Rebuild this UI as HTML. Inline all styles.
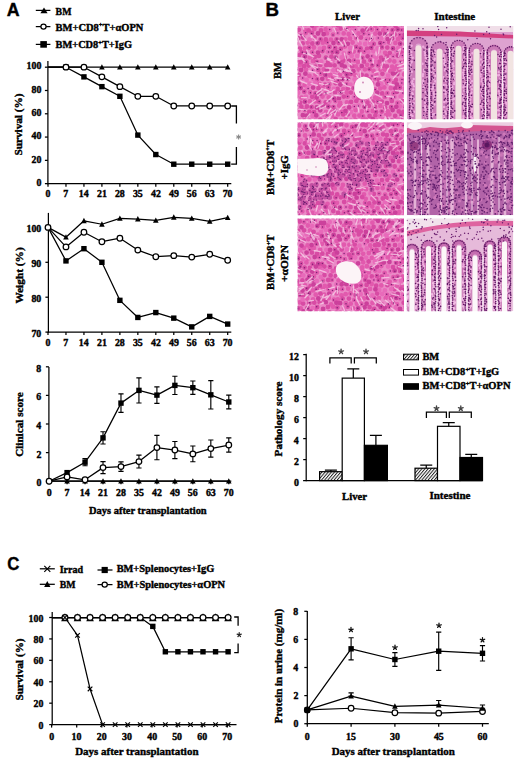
<!DOCTYPE html><html><head><meta charset="utf-8"><style>html,body{margin:0;padding:0;background:#fff;overflow:hidden;}svg{display:block;}</style></head><body>
<svg width="520" height="760" viewBox="0 0 520 760">
<rect width="520" height="760" fill="#fff"/>
<g transform="translate(7.30,16.20) scale(1.0149,1) translate(-0.53,0)" font-family="Liberation Sans" font-weight="bold" fill="#000" stroke="#000" stroke-width="0.38"><text x="0.00" y="0" font-size="17.5">A</text></g>
<line x1="35.80" y1="10.40" x2="50.40" y2="10.40" stroke="#000" stroke-width="1.25"/>
<path d="M40.40,13.22L44.00,7.62L47.60,13.22Z" fill="#000"/>
<g transform="translate(55.80,14.60) scale(0.9617,1) translate(-0.20,0)" font-family="Liberation Serif" font-weight="bold" fill="#000" stroke="#000" stroke-width="0.38"><text x="0.00" y="0" font-size="10.2">BM</text></g>
<line x1="35.80" y1="26.60" x2="50.40" y2="26.60" stroke="#000" stroke-width="1.25"/>
<circle cx="43.50" cy="26.60" r="2.6" fill="#fff" stroke="#000" stroke-width="1.25"/>
<g transform="translate(55.80,30.80) scale(1.0284,1) translate(-0.20,0)" font-family="Liberation Serif" font-weight="bold" fill="#000" stroke="#000" stroke-width="0.38"><text x="0.00" y="0" font-size="10.2">BM+CD8</text><text x="42.08" y="-3.6" font-size="6.2">+</text><text x="45.61" y="0" font-size="10.2">T+αOPN</text></g>
<line x1="35.80" y1="44.40" x2="50.40" y2="44.40" stroke="#000" stroke-width="1.25"/>
<rect x="40.30" y="41.10" width="6.6" height="6.6" fill="#000"/>
<g transform="translate(55.80,48.30) scale(1.0150,1) translate(-0.20,0)" font-family="Liberation Serif" font-weight="bold" fill="#000" stroke="#000" stroke-width="0.38"><text x="0.00" y="0" font-size="10.2">BM+CD8</text><text x="42.08" y="-3.6" font-size="6.2">+</text><text x="45.61" y="0" font-size="10.2">T+IgG</text></g>
<line x1="47.90" y1="61.00" x2="47.90" y2="184.28" stroke="#000" stroke-width="1.25"/>
<line x1="47.27" y1="183.65" x2="231.30" y2="183.65" stroke="#000" stroke-width="1.25"/>
<line x1="44.90" y1="183.65" x2="47.90" y2="183.65" stroke="#000" stroke-width="1.25"/>
<g transform="translate(36.85,185.85) scale(1.0400,1) translate(-0.38,0)" font-family="Liberation Serif" font-weight="bold" fill="#000" stroke="#000" stroke-width="0.38"><text x="0.00" y="0" font-size="9.5">0</text></g>
<line x1="44.90" y1="160.36" x2="47.90" y2="160.36" stroke="#000" stroke-width="1.25"/>
<g transform="translate(31.91,162.56) scale(1.0400,1) translate(-0.38,0)" font-family="Liberation Serif" font-weight="bold" fill="#000" stroke="#000" stroke-width="0.38"><text x="0.00" y="0" font-size="9.5">20</text></g>
<line x1="44.90" y1="137.07" x2="47.90" y2="137.07" stroke="#000" stroke-width="1.25"/>
<g transform="translate(31.61,139.27) scale(1.0400,1) translate(-0.10,0)" font-family="Liberation Serif" font-weight="bold" fill="#000" stroke="#000" stroke-width="0.38"><text x="0.00" y="0" font-size="9.5">40</text></g>
<line x1="44.90" y1="113.78" x2="47.90" y2="113.78" stroke="#000" stroke-width="1.25"/>
<g transform="translate(31.81,115.98) scale(1.0400,1) translate(-0.28,0)" font-family="Liberation Serif" font-weight="bold" fill="#000" stroke="#000" stroke-width="0.38"><text x="0.00" y="0" font-size="9.5">60</text></g>
<line x1="44.90" y1="90.49" x2="47.90" y2="90.49" stroke="#000" stroke-width="1.25"/>
<g transform="translate(31.81,92.69) scale(1.0400,1) translate(-0.28,0)" font-family="Liberation Serif" font-weight="bold" fill="#000" stroke="#000" stroke-width="0.38"><text x="0.00" y="0" font-size="9.5">80</text></g>
<line x1="44.90" y1="67.20" x2="47.90" y2="67.20" stroke="#000" stroke-width="1.25"/>
<g transform="translate(27.37,69.40) scale(1.0400,1) translate(-0.76,0)" font-family="Liberation Serif" font-weight="bold" fill="#000" stroke="#000" stroke-width="0.38"><text x="0.00" y="0" font-size="9.5">100</text></g>
<line x1="48.00" y1="183.65" x2="48.00" y2="186.65" stroke="#000" stroke-width="1.25"/>
<g transform="translate(45.93,197.05) scale(1.0400,1) translate(-0.38,0)" font-family="Liberation Serif" font-weight="bold" fill="#000" stroke="#000" stroke-width="0.38"><text x="0.00" y="0" font-size="9.5">0</text></g>
<line x1="65.97" y1="183.65" x2="65.97" y2="186.65" stroke="#000" stroke-width="1.25"/>
<g transform="translate(63.89,197.05) scale(1.0400,1) translate(-0.57,0)" font-family="Liberation Serif" font-weight="bold" fill="#000" stroke="#000" stroke-width="0.38"><text x="0.00" y="0" font-size="9.5">7</text></g>
<line x1="83.94" y1="183.65" x2="83.94" y2="186.65" stroke="#000" stroke-width="1.25"/>
<g transform="translate(79.49,197.05) scale(1.0400,1) translate(-0.76,0)" font-family="Liberation Serif" font-weight="bold" fill="#000" stroke="#000" stroke-width="0.38"><text x="0.00" y="0" font-size="9.5">14</text></g>
<line x1="101.91" y1="183.65" x2="101.91" y2="186.65" stroke="#000" stroke-width="1.25"/>
<g transform="translate(97.41,197.05) scale(1.0400,1) translate(-0.38,0)" font-family="Liberation Serif" font-weight="bold" fill="#000" stroke="#000" stroke-width="0.38"><text x="0.00" y="0" font-size="9.5">21</text></g>
<line x1="119.88" y1="183.65" x2="119.88" y2="186.65" stroke="#000" stroke-width="1.25"/>
<g transform="translate(115.28,197.05) scale(1.0400,1) translate(-0.38,0)" font-family="Liberation Serif" font-weight="bold" fill="#000" stroke="#000" stroke-width="0.38"><text x="0.00" y="0" font-size="9.5">28</text></g>
<line x1="137.84" y1="183.65" x2="137.84" y2="186.65" stroke="#000" stroke-width="1.25"/>
<g transform="translate(133.30,197.05) scale(1.0400,1) translate(-0.38,0)" font-family="Liberation Serif" font-weight="bold" fill="#000" stroke="#000" stroke-width="0.38"><text x="0.00" y="0" font-size="9.5">35</text></g>
<line x1="155.81" y1="183.65" x2="155.81" y2="186.65" stroke="#000" stroke-width="1.25"/>
<g transform="translate(151.12,197.05) scale(1.0400,1) translate(-0.10,0)" font-family="Liberation Serif" font-weight="bold" fill="#000" stroke="#000" stroke-width="0.38"><text x="0.00" y="0" font-size="9.5">42</text></g>
<line x1="173.78" y1="183.65" x2="173.78" y2="186.65" stroke="#000" stroke-width="1.25"/>
<g transform="translate(169.09,197.05) scale(1.0400,1) translate(-0.10,0)" font-family="Liberation Serif" font-weight="bold" fill="#000" stroke="#000" stroke-width="0.38"><text x="0.00" y="0" font-size="9.5">49</text></g>
<line x1="191.75" y1="183.65" x2="191.75" y2="186.65" stroke="#000" stroke-width="1.25"/>
<g transform="translate(187.16,197.05) scale(1.0400,1) translate(-0.38,0)" font-family="Liberation Serif" font-weight="bold" fill="#000" stroke="#000" stroke-width="0.38"><text x="0.00" y="0" font-size="9.5">56</text></g>
<line x1="209.72" y1="183.65" x2="209.72" y2="186.65" stroke="#000" stroke-width="1.25"/>
<g transform="translate(205.08,197.05) scale(1.0400,1) translate(-0.28,0)" font-family="Liberation Serif" font-weight="bold" fill="#000" stroke="#000" stroke-width="0.38"><text x="0.00" y="0" font-size="9.5">63</text></g>
<line x1="227.69" y1="183.65" x2="227.69" y2="186.65" stroke="#000" stroke-width="1.25"/>
<g transform="translate(223.24,197.05) scale(1.0400,1) translate(-0.57,0)" font-family="Liberation Serif" font-weight="bold" fill="#000" stroke="#000" stroke-width="0.38"><text x="0.00" y="0" font-size="9.5">70</text></g>
<g transform="translate(22.20,155.00) rotate(-90) scale(1.0229,1) translate(-0.55,0)" font-family="Liberation Serif" font-weight="bold" fill="#000" stroke="#000" stroke-width="0.38"><text x="0.00" y="0" font-size="11">Survival (%)</text></g>
<polyline points="48.00,67.20 65.97,67.20 83.94,67.20 101.91,67.20 119.88,67.20 137.84,67.20 155.81,67.20 173.78,67.20 191.75,67.20 209.72,67.20 227.69,67.20" fill="none" stroke="#000" stroke-width="1.25" stroke-linejoin="round"/>
<polyline points="48.00,67.20 65.97,67.20 83.94,76.87 101.91,86.65 119.88,96.31 137.84,135.09 155.81,154.54 173.78,164.20 191.75,164.20 209.72,164.20 227.69,164.20" fill="none" stroke="#000" stroke-width="1.25" stroke-linejoin="round"/>
<polyline points="48.00,67.20 65.97,67.20 83.94,67.20 101.91,76.87 119.88,86.65 137.84,96.31 155.81,96.31 173.78,105.98 191.75,105.98 209.72,105.98 227.69,105.98" fill="none" stroke="#000" stroke-width="1.25" stroke-linejoin="round"/>
<path d="M81.14,69.59L83.94,64.28L86.74,69.59Z" fill="#000"/>
<path d="M99.11,69.59L101.91,64.28L104.71,69.59Z" fill="#000"/>
<path d="M117.08,69.59L119.88,64.28L122.68,69.59Z" fill="#000"/>
<path d="M135.04,69.59L137.84,64.28L140.65,69.59Z" fill="#000"/>
<path d="M153.01,69.59L155.81,64.28L158.61,69.59Z" fill="#000"/>
<path d="M170.98,69.59L173.78,64.28L176.58,69.59Z" fill="#000"/>
<path d="M188.95,69.59L191.75,64.28L194.55,69.59Z" fill="#000"/>
<path d="M206.92,69.59L209.72,64.28L212.52,69.59Z" fill="#000"/>
<path d="M224.89,69.59L227.69,64.28L230.49,69.59Z" fill="#000"/>
<rect x="63.27" y="64.50" width="5.4" height="5.4" fill="#000"/>
<rect x="81.24" y="74.17" width="5.4" height="5.4" fill="#000"/>
<rect x="99.21" y="83.95" width="5.4" height="5.4" fill="#000"/>
<rect x="117.18" y="93.61" width="5.4" height="5.4" fill="#000"/>
<rect x="135.15" y="132.39" width="5.4" height="5.4" fill="#000"/>
<rect x="153.11" y="151.84" width="5.4" height="5.4" fill="#000"/>
<rect x="171.08" y="161.50" width="5.4" height="5.4" fill="#000"/>
<rect x="189.05" y="161.50" width="5.4" height="5.4" fill="#000"/>
<rect x="207.02" y="161.50" width="5.4" height="5.4" fill="#000"/>
<rect x="224.99" y="161.50" width="5.4" height="5.4" fill="#000"/>
<circle cx="65.97" cy="67.20" r="2.8" fill="#fff" stroke="#000" stroke-width="1.25"/>
<circle cx="83.94" cy="67.20" r="2.8" fill="#fff" stroke="#000" stroke-width="1.25"/>
<circle cx="101.91" cy="76.87" r="2.8" fill="#fff" stroke="#000" stroke-width="1.25"/>
<circle cx="119.88" cy="86.65" r="2.8" fill="#fff" stroke="#000" stroke-width="1.25"/>
<circle cx="137.84" cy="96.31" r="2.8" fill="#fff" stroke="#000" stroke-width="1.25"/>
<circle cx="155.81" cy="96.31" r="2.8" fill="#fff" stroke="#000" stroke-width="1.25"/>
<circle cx="173.78" cy="105.98" r="2.8" fill="#fff" stroke="#000" stroke-width="1.25"/>
<circle cx="191.75" cy="105.98" r="2.8" fill="#fff" stroke="#000" stroke-width="1.25"/>
<circle cx="209.72" cy="105.98" r="2.8" fill="#fff" stroke="#000" stroke-width="1.25"/>
<circle cx="227.69" cy="105.98" r="2.8" fill="#fff" stroke="#000" stroke-width="1.25"/>
<path d="M231.19,105.98H236.4V123.6M236.4,147.1V164.20H231.19" stroke="#000" stroke-width="1.3" fill="none"/>
<path d="M236.35,135.70L240.85,138.30M238.60,134.40L238.60,139.60M240.85,135.70L236.35,138.30" stroke="#8a8a8a" stroke-width="1.1"/>
<line x1="48.40" y1="212.90" x2="48.40" y2="332.73" stroke="#000" stroke-width="1.25"/>
<line x1="47.77" y1="332.10" x2="231.30" y2="332.10" stroke="#000" stroke-width="1.25"/>
<line x1="45.40" y1="332.10" x2="48.40" y2="332.10" stroke="#000" stroke-width="1.25"/>
<g transform="translate(32.01,336.50) scale(1.0400,1) translate(-0.57,0)" font-family="Liberation Serif" font-weight="bold" fill="#000" stroke="#000" stroke-width="0.38"><text x="0.00" y="0" font-size="9.5">70</text></g>
<line x1="45.40" y1="297.20" x2="48.40" y2="297.20" stroke="#000" stroke-width="1.25"/>
<g transform="translate(31.71,301.60) scale(1.0400,1) translate(-0.28,0)" font-family="Liberation Serif" font-weight="bold" fill="#000" stroke="#000" stroke-width="0.38"><text x="0.00" y="0" font-size="9.5">80</text></g>
<line x1="45.40" y1="262.30" x2="48.40" y2="262.30" stroke="#000" stroke-width="1.25"/>
<g transform="translate(31.71,266.70) scale(1.0400,1) translate(-0.28,0)" font-family="Liberation Serif" font-weight="bold" fill="#000" stroke="#000" stroke-width="0.38"><text x="0.00" y="0" font-size="9.5">90</text></g>
<line x1="45.40" y1="227.40" x2="48.40" y2="227.40" stroke="#000" stroke-width="1.25"/>
<g transform="translate(27.27,231.80) scale(1.0400,1) translate(-0.76,0)" font-family="Liberation Serif" font-weight="bold" fill="#000" stroke="#000" stroke-width="0.38"><text x="0.00" y="0" font-size="9.5">100</text></g>
<line x1="48.00" y1="332.10" x2="48.00" y2="335.10" stroke="#000" stroke-width="1.25"/>
<g transform="translate(45.93,345.50) scale(1.0400,1) translate(-0.38,0)" font-family="Liberation Serif" font-weight="bold" fill="#000" stroke="#000" stroke-width="0.38"><text x="0.00" y="0" font-size="9.5">0</text></g>
<line x1="65.97" y1="332.10" x2="65.97" y2="335.10" stroke="#000" stroke-width="1.25"/>
<g transform="translate(63.89,345.50) scale(1.0400,1) translate(-0.57,0)" font-family="Liberation Serif" font-weight="bold" fill="#000" stroke="#000" stroke-width="0.38"><text x="0.00" y="0" font-size="9.5">7</text></g>
<line x1="83.94" y1="332.10" x2="83.94" y2="335.10" stroke="#000" stroke-width="1.25"/>
<g transform="translate(79.49,345.50) scale(1.0400,1) translate(-0.76,0)" font-family="Liberation Serif" font-weight="bold" fill="#000" stroke="#000" stroke-width="0.38"><text x="0.00" y="0" font-size="9.5">14</text></g>
<line x1="101.91" y1="332.10" x2="101.91" y2="335.10" stroke="#000" stroke-width="1.25"/>
<g transform="translate(97.41,345.50) scale(1.0400,1) translate(-0.38,0)" font-family="Liberation Serif" font-weight="bold" fill="#000" stroke="#000" stroke-width="0.38"><text x="0.00" y="0" font-size="9.5">21</text></g>
<line x1="119.88" y1="332.10" x2="119.88" y2="335.10" stroke="#000" stroke-width="1.25"/>
<g transform="translate(115.28,345.50) scale(1.0400,1) translate(-0.38,0)" font-family="Liberation Serif" font-weight="bold" fill="#000" stroke="#000" stroke-width="0.38"><text x="0.00" y="0" font-size="9.5">28</text></g>
<line x1="137.84" y1="332.10" x2="137.84" y2="335.10" stroke="#000" stroke-width="1.25"/>
<g transform="translate(133.30,345.50) scale(1.0400,1) translate(-0.38,0)" font-family="Liberation Serif" font-weight="bold" fill="#000" stroke="#000" stroke-width="0.38"><text x="0.00" y="0" font-size="9.5">35</text></g>
<line x1="155.81" y1="332.10" x2="155.81" y2="335.10" stroke="#000" stroke-width="1.25"/>
<g transform="translate(151.12,345.50) scale(1.0400,1) translate(-0.10,0)" font-family="Liberation Serif" font-weight="bold" fill="#000" stroke="#000" stroke-width="0.38"><text x="0.00" y="0" font-size="9.5">42</text></g>
<line x1="173.78" y1="332.10" x2="173.78" y2="335.10" stroke="#000" stroke-width="1.25"/>
<g transform="translate(169.09,345.50) scale(1.0400,1) translate(-0.10,0)" font-family="Liberation Serif" font-weight="bold" fill="#000" stroke="#000" stroke-width="0.38"><text x="0.00" y="0" font-size="9.5">49</text></g>
<line x1="191.75" y1="332.10" x2="191.75" y2="335.10" stroke="#000" stroke-width="1.25"/>
<g transform="translate(187.16,345.50) scale(1.0400,1) translate(-0.38,0)" font-family="Liberation Serif" font-weight="bold" fill="#000" stroke="#000" stroke-width="0.38"><text x="0.00" y="0" font-size="9.5">56</text></g>
<line x1="209.72" y1="332.10" x2="209.72" y2="335.10" stroke="#000" stroke-width="1.25"/>
<g transform="translate(205.08,345.50) scale(1.0400,1) translate(-0.28,0)" font-family="Liberation Serif" font-weight="bold" fill="#000" stroke="#000" stroke-width="0.38"><text x="0.00" y="0" font-size="9.5">63</text></g>
<line x1="227.69" y1="332.10" x2="227.69" y2="335.10" stroke="#000" stroke-width="1.25"/>
<g transform="translate(223.24,345.50) scale(1.0400,1) translate(-0.57,0)" font-family="Liberation Serif" font-weight="bold" fill="#000" stroke="#000" stroke-width="0.38"><text x="0.00" y="0" font-size="9.5">70</text></g>
<g transform="translate(22.70,303.50) rotate(-90) scale(1.0292,1) translate(-0.11,0)" font-family="Liberation Serif" font-weight="bold" fill="#000" stroke="#000" stroke-width="0.38"><text x="0.00" y="0" font-size="11">Weight (%)</text></g>
<polyline points="48.00,227.40 65.97,237.17 83.94,220.77 101.91,224.26 119.88,218.33 137.84,219.02 155.81,220.42 173.78,217.28 191.75,218.33 209.72,221.47 227.69,217.63" fill="none" stroke="#000" stroke-width="1.25" stroke-linejoin="round"/>
<polyline points="48.00,227.40 65.97,260.90 83.94,248.69 101.91,262.30 119.88,300.34 137.84,317.44 155.81,312.56 173.78,318.14 191.75,326.87 209.72,316.40 227.69,324.07" fill="none" stroke="#000" stroke-width="1.25" stroke-linejoin="round"/>
<polyline points="48.00,227.40 65.97,246.94 83.94,232.29 101.91,241.71 119.88,238.22 137.84,250.09 155.81,256.72 173.78,255.67 191.75,257.06 209.72,254.27 227.69,260.21" fill="none" stroke="#000" stroke-width="1.25" stroke-linejoin="round"/>
<path d="M63.17,239.56L65.97,234.26L68.77,239.56Z" fill="#000"/>
<path d="M81.14,223.15L83.94,217.85L86.74,223.15Z" fill="#000"/>
<path d="M99.11,226.64L101.91,221.34L104.71,226.64Z" fill="#000"/>
<path d="M117.08,220.71L119.88,215.41L122.68,220.71Z" fill="#000"/>
<path d="M135.04,221.41L137.84,216.11L140.65,221.41Z" fill="#000"/>
<path d="M153.01,222.81L155.81,217.51L158.61,222.81Z" fill="#000"/>
<path d="M170.98,219.66L173.78,214.36L176.58,219.66Z" fill="#000"/>
<path d="M188.95,220.71L191.75,215.41L194.55,220.71Z" fill="#000"/>
<path d="M206.92,223.85L209.72,218.55L212.52,223.85Z" fill="#000"/>
<path d="M224.89,220.01L227.69,214.71L230.49,220.01Z" fill="#000"/>
<rect x="63.27" y="258.20" width="5.4" height="5.4" fill="#000"/>
<rect x="81.24" y="245.99" width="5.4" height="5.4" fill="#000"/>
<rect x="99.21" y="259.60" width="5.4" height="5.4" fill="#000"/>
<rect x="117.18" y="297.64" width="5.4" height="5.4" fill="#000"/>
<rect x="135.15" y="314.74" width="5.4" height="5.4" fill="#000"/>
<rect x="153.11" y="309.86" width="5.4" height="5.4" fill="#000"/>
<rect x="171.08" y="315.44" width="5.4" height="5.4" fill="#000"/>
<rect x="189.05" y="324.17" width="5.4" height="5.4" fill="#000"/>
<rect x="207.02" y="313.70" width="5.4" height="5.4" fill="#000"/>
<rect x="224.99" y="321.37" width="5.4" height="5.4" fill="#000"/>
<circle cx="48.00" cy="227.40" r="2.8" fill="#fff" stroke="#000" stroke-width="1.25"/>
<circle cx="65.97" cy="246.94" r="2.8" fill="#fff" stroke="#000" stroke-width="1.25"/>
<circle cx="83.94" cy="232.29" r="2.8" fill="#fff" stroke="#000" stroke-width="1.25"/>
<circle cx="101.91" cy="241.71" r="2.8" fill="#fff" stroke="#000" stroke-width="1.25"/>
<circle cx="119.88" cy="238.22" r="2.8" fill="#fff" stroke="#000" stroke-width="1.25"/>
<circle cx="137.84" cy="250.09" r="2.8" fill="#fff" stroke="#000" stroke-width="1.25"/>
<circle cx="155.81" cy="256.72" r="2.8" fill="#fff" stroke="#000" stroke-width="1.25"/>
<circle cx="173.78" cy="255.67" r="2.8" fill="#fff" stroke="#000" stroke-width="1.25"/>
<circle cx="191.75" cy="257.06" r="2.8" fill="#fff" stroke="#000" stroke-width="1.25"/>
<circle cx="209.72" cy="254.27" r="2.8" fill="#fff" stroke="#000" stroke-width="1.25"/>
<circle cx="227.69" cy="260.21" r="2.8" fill="#fff" stroke="#000" stroke-width="1.25"/>
<line x1="48.90" y1="367.00" x2="48.90" y2="481.82" stroke="#000" stroke-width="1.25"/>
<line x1="48.27" y1="481.20" x2="231.30" y2="481.20" stroke="#000" stroke-width="1.25"/>
<line x1="45.90" y1="481.20" x2="48.90" y2="481.20" stroke="#000" stroke-width="1.25"/>
<g transform="translate(36.85,486.20) scale(1.0400,1) translate(-0.38,0)" font-family="Liberation Serif" font-weight="bold" fill="#000" stroke="#000" stroke-width="0.38"><text x="0.00" y="0" font-size="9.5">0</text></g>
<line x1="45.90" y1="452.60" x2="48.90" y2="452.60" stroke="#000" stroke-width="1.25"/>
<g transform="translate(36.85,457.60) scale(1.0400,1) translate(-0.38,0)" font-family="Liberation Serif" font-weight="bold" fill="#000" stroke="#000" stroke-width="0.38"><text x="0.00" y="0" font-size="9.5">2</text></g>
<line x1="45.90" y1="424.00" x2="48.90" y2="424.00" stroke="#000" stroke-width="1.25"/>
<g transform="translate(36.36,429.00) scale(1.0400,1) translate(-0.10,0)" font-family="Liberation Serif" font-weight="bold" fill="#000" stroke="#000" stroke-width="0.38"><text x="0.00" y="0" font-size="9.5">4</text></g>
<line x1="45.90" y1="395.40" x2="48.90" y2="395.40" stroke="#000" stroke-width="1.25"/>
<g transform="translate(36.65,400.40) scale(1.0400,1) translate(-0.28,0)" font-family="Liberation Serif" font-weight="bold" fill="#000" stroke="#000" stroke-width="0.38"><text x="0.00" y="0" font-size="9.5">6</text></g>
<line x1="45.90" y1="366.80" x2="48.90" y2="366.80" stroke="#000" stroke-width="1.25"/>
<g transform="translate(36.65,371.80) scale(1.0400,1) translate(-0.28,0)" font-family="Liberation Serif" font-weight="bold" fill="#000" stroke="#000" stroke-width="0.38"><text x="0.00" y="0" font-size="9.5">8</text></g>
<line x1="49.10" y1="481.20" x2="49.10" y2="484.20" stroke="#000" stroke-width="1.25"/>
<g transform="translate(47.03,496.00) scale(1.0400,1) translate(-0.38,0)" font-family="Liberation Serif" font-weight="bold" fill="#000" stroke="#000" stroke-width="0.38"><text x="0.00" y="0" font-size="9.5">0</text></g>
<line x1="67.07" y1="481.20" x2="67.07" y2="484.20" stroke="#000" stroke-width="1.25"/>
<g transform="translate(64.99,496.00) scale(1.0400,1) translate(-0.57,0)" font-family="Liberation Serif" font-weight="bold" fill="#000" stroke="#000" stroke-width="0.38"><text x="0.00" y="0" font-size="9.5">7</text></g>
<line x1="85.04" y1="481.20" x2="85.04" y2="484.20" stroke="#000" stroke-width="1.25"/>
<g transform="translate(80.59,496.00) scale(1.0400,1) translate(-0.76,0)" font-family="Liberation Serif" font-weight="bold" fill="#000" stroke="#000" stroke-width="0.38"><text x="0.00" y="0" font-size="9.5">14</text></g>
<line x1="103.01" y1="481.20" x2="103.01" y2="484.20" stroke="#000" stroke-width="1.25"/>
<g transform="translate(98.51,496.00) scale(1.0400,1) translate(-0.38,0)" font-family="Liberation Serif" font-weight="bold" fill="#000" stroke="#000" stroke-width="0.38"><text x="0.00" y="0" font-size="9.5">21</text></g>
<line x1="120.98" y1="481.20" x2="120.98" y2="484.20" stroke="#000" stroke-width="1.25"/>
<g transform="translate(116.38,496.00) scale(1.0400,1) translate(-0.38,0)" font-family="Liberation Serif" font-weight="bold" fill="#000" stroke="#000" stroke-width="0.38"><text x="0.00" y="0" font-size="9.5">28</text></g>
<line x1="138.94" y1="481.20" x2="138.94" y2="484.20" stroke="#000" stroke-width="1.25"/>
<g transform="translate(134.40,496.00) scale(1.0400,1) translate(-0.38,0)" font-family="Liberation Serif" font-weight="bold" fill="#000" stroke="#000" stroke-width="0.38"><text x="0.00" y="0" font-size="9.5">35</text></g>
<line x1="156.91" y1="481.20" x2="156.91" y2="484.20" stroke="#000" stroke-width="1.25"/>
<g transform="translate(152.22,496.00) scale(1.0400,1) translate(-0.10,0)" font-family="Liberation Serif" font-weight="bold" fill="#000" stroke="#000" stroke-width="0.38"><text x="0.00" y="0" font-size="9.5">42</text></g>
<line x1="174.88" y1="481.20" x2="174.88" y2="484.20" stroke="#000" stroke-width="1.25"/>
<g transform="translate(170.19,496.00) scale(1.0400,1) translate(-0.10,0)" font-family="Liberation Serif" font-weight="bold" fill="#000" stroke="#000" stroke-width="0.38"><text x="0.00" y="0" font-size="9.5">49</text></g>
<line x1="192.85" y1="481.20" x2="192.85" y2="484.20" stroke="#000" stroke-width="1.25"/>
<g transform="translate(188.26,496.00) scale(1.0400,1) translate(-0.38,0)" font-family="Liberation Serif" font-weight="bold" fill="#000" stroke="#000" stroke-width="0.38"><text x="0.00" y="0" font-size="9.5">56</text></g>
<line x1="210.82" y1="481.20" x2="210.82" y2="484.20" stroke="#000" stroke-width="1.25"/>
<g transform="translate(206.18,496.00) scale(1.0400,1) translate(-0.28,0)" font-family="Liberation Serif" font-weight="bold" fill="#000" stroke="#000" stroke-width="0.38"><text x="0.00" y="0" font-size="9.5">63</text></g>
<line x1="228.79" y1="481.20" x2="228.79" y2="484.20" stroke="#000" stroke-width="1.25"/>
<g transform="translate(224.34,496.00) scale(1.0400,1) translate(-0.57,0)" font-family="Liberation Serif" font-weight="bold" fill="#000" stroke="#000" stroke-width="0.38"><text x="0.00" y="0" font-size="9.5">70</text></g>
<g transform="translate(23.30,456.30) rotate(-90) scale(1.0158,1) translate(-0.55,0)" font-family="Liberation Serif" font-weight="bold" fill="#000" stroke="#000" stroke-width="0.38"><text x="0.00" y="0" font-size="11">Clinical score</text></g>
<path d="M85.04,458.61V465.76M82.44,458.61H87.64M82.44,465.76H87.64" stroke="#000" stroke-width="1.15" fill="none"/>
<path d="M103.01,431.72V444.02M100.41,431.72H105.61M100.41,444.02H105.61" stroke="#000" stroke-width="1.15" fill="none"/>
<path d="M120.98,393.83V412.42M118.38,393.83H123.58M118.38,412.42H123.58" stroke="#000" stroke-width="1.15" fill="none"/>
<path d="M138.94,377.81V402.98M136.34,377.81H141.54M136.34,402.98H141.54" stroke="#000" stroke-width="1.15" fill="none"/>
<path d="M156.91,386.82V403.41M154.31,386.82H159.51M154.31,403.41H159.51" stroke="#000" stroke-width="1.15" fill="none"/>
<path d="M174.88,376.24V394.54M172.28,376.24H177.48M172.28,394.54H177.48" stroke="#000" stroke-width="1.15" fill="none"/>
<path d="M192.85,380.96V394.40M190.25,380.96H195.45M190.25,394.40H195.45" stroke="#000" stroke-width="1.15" fill="none"/>
<path d="M210.82,380.67V408.99M208.22,380.67H213.42M208.22,408.99H213.42" stroke="#000" stroke-width="1.15" fill="none"/>
<path d="M228.79,395.11V408.84M226.19,395.11H231.39M226.19,408.84H231.39" stroke="#000" stroke-width="1.15" fill="none"/>
<path d="M103.01,461.61V473.62M100.41,461.61H105.61M100.41,473.62H105.61" stroke="#000" stroke-width="1.15" fill="none"/>
<path d="M120.98,461.89V471.33M118.38,461.89H123.58M118.38,471.33H123.58" stroke="#000" stroke-width="1.15" fill="none"/>
<path d="M138.94,455.17V468.04M136.34,455.17H141.54M136.34,468.04H141.54" stroke="#000" stroke-width="1.15" fill="none"/>
<path d="M156.91,435.44V459.75M154.31,435.44H159.51M154.31,459.75H159.51" stroke="#000" stroke-width="1.15" fill="none"/>
<path d="M174.88,441.45V458.61M172.28,441.45H177.48M172.28,458.61H177.48" stroke="#000" stroke-width="1.15" fill="none"/>
<path d="M192.85,446.02V461.75M190.25,446.02H195.45M190.25,461.75H195.45" stroke="#000" stroke-width="1.15" fill="none"/>
<path d="M210.82,440.02V457.18M208.22,440.02H213.42M208.22,457.18H213.42" stroke="#000" stroke-width="1.15" fill="none"/>
<path d="M228.79,437.87V452.17M226.19,437.87H231.39M226.19,452.17H231.39" stroke="#000" stroke-width="1.15" fill="none"/>
<polyline points="49.10,481.20 67.07,481.20 85.04,481.20 103.01,481.20 120.98,481.20 138.94,481.20 156.91,481.20 174.88,481.20 192.85,481.20 210.82,481.20 228.79,481.20" fill="none" stroke="#000" stroke-width="1.25" stroke-linejoin="round"/>
<polyline points="49.10,481.20 67.07,472.62 85.04,462.18 103.01,437.87 120.98,403.12 138.94,390.39 156.91,395.11 174.88,385.39 192.85,387.68 210.82,394.83 228.79,401.98" fill="none" stroke="#000" stroke-width="1.25" stroke-linejoin="round"/>
<polyline points="49.10,481.20 67.07,476.91 85.04,479.77 103.01,467.62 120.98,466.61 138.94,461.61 156.91,447.59 174.88,450.03 192.85,453.89 210.82,448.60 228.79,445.02" fill="none" stroke="#000" stroke-width="1.25" stroke-linejoin="round"/>
<path d="M64.27,483.58L67.07,478.28L69.87,483.58Z" fill="#000"/>
<path d="M82.24,483.58L85.04,478.28L87.84,483.58Z" fill="#000"/>
<path d="M100.21,483.58L103.01,478.28L105.81,483.58Z" fill="#000"/>
<path d="M118.18,483.58L120.98,478.28L123.78,483.58Z" fill="#000"/>
<path d="M136.14,483.58L138.94,478.28L141.75,483.58Z" fill="#000"/>
<path d="M154.11,483.58L156.91,478.28L159.71,483.58Z" fill="#000"/>
<path d="M172.08,483.58L174.88,478.28L177.68,483.58Z" fill="#000"/>
<path d="M190.05,483.58L192.85,478.28L195.65,483.58Z" fill="#000"/>
<path d="M208.02,483.58L210.82,478.28L213.62,483.58Z" fill="#000"/>
<path d="M225.99,483.58L228.79,478.28L231.59,483.58Z" fill="#000"/>
<rect x="64.37" y="469.92" width="5.4" height="5.4" fill="#000"/>
<rect x="82.34" y="459.48" width="5.4" height="5.4" fill="#000"/>
<rect x="100.31" y="435.17" width="5.4" height="5.4" fill="#000"/>
<rect x="118.28" y="400.42" width="5.4" height="5.4" fill="#000"/>
<rect x="136.25" y="387.69" width="5.4" height="5.4" fill="#000"/>
<rect x="154.21" y="392.41" width="5.4" height="5.4" fill="#000"/>
<rect x="172.18" y="382.69" width="5.4" height="5.4" fill="#000"/>
<rect x="190.15" y="384.98" width="5.4" height="5.4" fill="#000"/>
<rect x="208.12" y="392.13" width="5.4" height="5.4" fill="#000"/>
<rect x="226.09" y="399.28" width="5.4" height="5.4" fill="#000"/>
<circle cx="49.10" cy="481.20" r="2.8" fill="#fff" stroke="#000" stroke-width="1.25"/>
<circle cx="67.07" cy="476.91" r="2.8" fill="#fff" stroke="#000" stroke-width="1.25"/>
<circle cx="85.04" cy="479.77" r="2.8" fill="#fff" stroke="#000" stroke-width="1.25"/>
<circle cx="103.01" cy="467.62" r="2.8" fill="#fff" stroke="#000" stroke-width="1.25"/>
<circle cx="120.98" cy="466.61" r="2.8" fill="#fff" stroke="#000" stroke-width="1.25"/>
<circle cx="138.94" cy="461.61" r="2.8" fill="#fff" stroke="#000" stroke-width="1.25"/>
<circle cx="156.91" cy="447.59" r="2.8" fill="#fff" stroke="#000" stroke-width="1.25"/>
<circle cx="174.88" cy="450.03" r="2.8" fill="#fff" stroke="#000" stroke-width="1.25"/>
<circle cx="192.85" cy="453.89" r="2.8" fill="#fff" stroke="#000" stroke-width="1.25"/>
<circle cx="210.82" cy="448.60" r="2.8" fill="#fff" stroke="#000" stroke-width="1.25"/>
<circle cx="228.79" cy="445.02" r="2.8" fill="#fff" stroke="#000" stroke-width="1.25"/>
<g transform="translate(89.20,514.20) scale(0.9520,1) translate(-0.22,0)" font-family="Liberation Serif" font-weight="bold" fill="#000" stroke="#000" stroke-width="0.38"><text x="0.00" y="0" font-size="11">Days after transplantation</text></g>
<g transform="translate(266.90,16.20) scale(1.0679,1) translate(-1.23,0)" font-family="Liberation Sans" font-weight="bold" fill="#000" stroke="#000" stroke-width="0.38"><text x="0.00" y="0" font-size="17.5">B</text></g>
<g transform="translate(335.30,19.60) scale(0.9726,1) translate(-0.22,0)" font-family="Liberation Serif" font-weight="bold" fill="#000" stroke="#000" stroke-width="0.38"><text x="0.00" y="0" font-size="11">Liver</text></g>
<g transform="translate(434.60,19.60) scale(1.0007,1) translate(-0.33,0)" font-family="Liberation Serif" font-weight="bold" fill="#000" stroke="#000" stroke-width="0.38"><text x="0.00" y="0" font-size="11">Intestine</text></g>
<defs><filter id="soft" x="0" y="0" width="100%" height="100%"><feGaussianBlur stdDeviation="0.45"/></filter>
<filter id="bl1" x="-20%" y="-20%" width="140%" height="140%"><feGaussianBlur stdDeviation="0.7"/></filter>
<clipPath id="cp00"><rect x="297.5" y="26" width="106.5" height="93.3"/></clipPath>
<clipPath id="cp01"><rect x="406.8" y="26" width="106.5" height="93.3"/></clipPath>
<clipPath id="cp10"><rect x="297.5" y="122.2" width="106.5" height="93.0"/></clipPath>
<clipPath id="cp11"><rect x="406.8" y="122.2" width="106.5" height="93.0"/></clipPath>
<clipPath id="cp20"><rect x="297.5" y="218.4" width="106.5" height="92.8"/></clipPath>
<clipPath id="cp21"><rect x="406.8" y="218.4" width="106.5" height="92.8"/></clipPath>
</defs>
<g clip-path="url(#cp00)"><g filter="url(#soft)">
<rect x="297.5" y="26" width="106.5" height="93.3" fill="rgb(234,138,198)"/>
<path d="M316.6 25.2h0M343.8 23.9h0M349.7 25.9h0M353.6 25.8h0M370.3 25.5h0M375.3 25.7h0M380.4 24.8h0M390.4 24.1h0M305.4 30.4h0M314.3 29.0h0M325.7 29.5h0M336.6 30.5h0M346.7 29.1h0M371.8 29.6h0M377.2 29.7h0M383.3 30.4h0M402.0 30.1h0M296.3 33.5h0M305.7 33.1h0M327.0 33.4h0M333.0 34.6h0M343.7 33.4h0M348.7 34.2h0M358.5 33.5h0M363.6 33.6h0M375.4 33.7h0M391.0 34.6h0M399.9 35.0h0M330.9 39.6h0M345.3 39.3h0M350.0 38.5h0M356.2 38.1h0M398.2 39.0h0M307.7 42.6h0M322.8 42.7h0M327.0 42.4h0M343.9 43.7h0M352.6 42.5h0M395.4 42.9h0M304.9 48.3h0M313.9 47.5h0M324.0 48.0h0M344.8 46.5h0M295.5 53.1h0M312.2 52.2h0M353.8 51.6h0M364.0 51.8h0M385.2 52.8h0M404.9 51.4h0M309.7 57.4h0M297.3 60.3h0M313.1 61.2h0M354.1 60.4h0M357.9 62.0h0M389.6 60.5h0M394.3 61.5h0M401.0 62.2h0M299.8 64.9h0M355.7 66.4h0M367.1 64.8h0M392.2 66.6h0M396.9 66.3h0M306.0 69.6h0M323.7 69.3h0M337.3 70.0h0M349.6 71.1h0M358.7 69.5h0M364.9 69.3h0M373.5 70.9h0M380.5 69.6h0M385.1 69.7h0M390.2 71.0h0M394.2 69.1h0M399.3 69.7h0M309.4 75.9h0M315.5 74.6h0M320.9 73.7h0M330.2 75.0h0M340.0 74.6h0M355.3 75.3h0M376.3 74.7h0M404.1 74.4h0M296.7 79.0h0M327.8 78.8h0M375.1 78.6h0M385.7 80.0h0M389.3 79.9h0M304.6 85.0h0M319.5 83.8h0M329.3 84.2h0M346.6 84.2h0M355.9 84.0h0M372.2 83.4h0M387.2 83.0h0M297.3 89.0h0M322.5 88.1h0M343.3 89.1h0M374.8 89.3h0M380.2 88.4h0M384.3 87.4h0M390.8 88.2h0M310.1 92.5h0M325.6 93.2h0M329.8 91.8h0M346.8 92.5h0M371.1 92.4h0M387.3 93.2h0M393.4 93.3h0M296.4 96.4h0M301.5 97.7h0M322.5 96.5h0M328.7 97.3h0M347.6 96.7h0M364.7 98.2h0M369.2 97.4h0M375.2 97.7h0M378.8 97.4h0M384.9 96.9h0M391.2 98.3h0M309.8 101.4h0M315.1 101.4h0M335.4 101.0h0M340.1 102.8h0M346.9 102.4h0M397.5 103.0h0M339.2 105.5h0M343.1 106.2h0M380.4 105.9h0M298.4 110.3h0M304.8 110.0h0M326.1 111.9h0M331.1 112.0h0M341.7 111.9h0M355.6 110.0h0M361.9 111.5h0M367.4 111.1h0M372.7 111.0h0M387.9 111.4h0M295.8 114.6h0M327.0 115.6h0M332.2 115.7h0M338.0 114.4h0M354.3 115.7h0M359.4 115.6h0M363.1 116.5h0M386.1 115.2h0M389.4 114.3h0M299.7 120.9h0M304.2 120.4h0M309.6 120.6h0M345.7 119.5h0M355.4 119.9h0M362.6 120.1h0M366.1 119.6h0" stroke="rgb(226,90,174)" stroke-width="4.80" stroke-linecap="round"/>
<path d="M296.8 23.9h0M321.7 24.8h0M326.7 24.0h0M337.6 25.3h0M384.5 25.4h0M395.5 26.0h0M401.7 24.1h0M406.0 25.7h0M298.8 29.8h0M308.6 30.4h0M321.0 30.4h0M340.7 28.6h0M392.6 30.2h0M311.9 33.0h0M394.6 34.4h0M314.5 37.5h0M320.6 39.4h0M325.8 39.5h0M336.6 39.3h0M361.0 37.5h0M371.3 38.8h0M402.6 38.1h0M295.8 43.5h0M302.7 43.4h0M312.3 43.5h0M338.6 42.8h0M373.7 44.0h0M389.3 42.4h0M405.6 44.2h0M299.9 48.7h0M309.0 47.6h0M329.5 47.0h0M335.2 48.2h0M340.8 48.8h0M356.2 47.0h0M360.6 48.4h0M367.1 48.7h0M381.9 47.4h0M387.3 47.6h0M301.9 52.5h0M306.2 52.9h0M322.4 51.0h0M332.5 52.0h0M349.7 52.9h0M359.4 51.2h0M389.8 53.1h0M401.1 52.4h0M299.0 55.5h0M314.8 57.0h0M318.9 55.9h0M325.9 57.7h0M331.4 56.7h0M344.7 57.3h0M362.3 57.8h0M381.1 57.6h0M386.8 56.3h0M300.9 62.2h0M306.4 62.0h0M316.8 61.9h0M328.1 62.1h0M343.1 60.8h0M364.0 61.7h0M370.4 60.2h0M379.3 61.7h0M405.5 60.6h0M304.0 66.2h0M308.6 65.6h0M315.1 66.7h0M320.3 64.9h0M326.3 65.2h0M330.2 65.2h0M334.6 65.4h0M352.1 66.3h0M372.3 65.3h0M378.1 65.3h0M383.4 65.8h0M386.9 66.5h0M318.3 69.8h0M343.6 71.3h0M369.5 69.1h0M405.8 70.8h0M298.8 75.0h0M350.8 73.9h0M361.7 74.9h0M366.5 75.7h0M382.4 73.8h0M317.1 79.5h0M333.1 78.1h0M338.7 79.9h0M359.2 78.8h0M364.4 80.1h0M369.5 79.3h0M379.0 80.0h0M395.9 79.9h0M299.1 83.4h0M325.0 84.6h0M335.6 83.0h0M366.9 84.9h0M393.9 83.0h0M318.5 88.2h0M328.4 87.5h0M337.6 89.0h0M347.8 88.2h0M353.5 88.1h0M364.8 87.5h0M399.9 87.5h0M304.3 91.7h0M315.4 93.4h0M335.1 92.4h0M350.9 92.6h0M356.0 94.0h0M361.2 93.6h0M382.2 93.4h0M312.2 96.8h0M343.8 96.6h0M358.7 97.9h0M300.2 102.6h0M319.1 101.7h0M325.6 102.5h0M351.1 101.9h0M356.3 100.9h0M362.6 101.2h0M367.5 102.3h0M372.7 101.7h0M377.7 101.6h0M381.8 101.6h0M391.8 100.9h0M402.0 101.0h0M301.4 106.7h0M306.9 106.5h0M311.6 107.2h0M333.4 107.1h0M368.8 105.9h0M375.0 106.9h0M385.0 107.4h0M391.2 107.2h0M309.3 112.0h0M314.0 112.1h0M376.1 112.1h0M381.7 111.6h0M398.8 111.4h0M403.4 112.0h0M343.2 114.4h0M348.0 114.3h0M369.6 116.0h0M375.4 115.4h0M395.2 116.0h0M401.3 114.9h0M320.3 119.6h0M326.3 120.1h0M335.6 118.9h0M341.1 120.7h0M351.0 120.8h0M387.6 120.0h0M402.9 119.4h0" stroke="rgb(216,76,164)" stroke-width="4.80" stroke-linecap="round"/>
<path d="M302.3 25.1h0M305.8 24.3h0M333.6 25.6h0M329.8 29.9h0M351.7 30.3h0M355.4 29.5h0M387.0 29.5h0M300.7 34.8h0M338.2 33.0h0M353.5 34.2h0M368.3 34.1h0M309.6 39.4h0M366.7 39.0h0M377.8 38.4h0M381.2 38.4h0M359.6 43.5h0M365.2 44.0h0M370.2 42.9h0M384.3 42.7h0M320.0 48.6h0M350.2 48.0h0M377.5 48.4h0M398.3 47.9h0M403.0 48.4h0M327.9 52.1h0M343.8 53.3h0M368.3 52.1h0M373.4 51.3h0M378.7 51.5h0M396.5 51.7h0M341.8 57.5h0M351.7 55.9h0M357.3 55.9h0M372.3 56.4h0M376.2 57.3h0M393.3 56.0h0M402.5 55.8h0M321.3 61.7h0M332.5 61.3h0M375.3 62.0h0M403.6 66.9h0M297.2 69.1h0M313.2 69.8h0M333.4 70.3h0M334.6 75.1h0M372.4 75.9h0M388.2 75.6h0M302.8 78.3h0M306.6 79.8h0M313.0 78.5h0M354.6 79.5h0M401.4 79.6h0M309.5 83.7h0M315.3 82.7h0M350.5 84.7h0M381.3 84.2h0M402.0 83.4h0M307.5 88.2h0M333.9 88.8h0M404.9 88.7h0M298.1 92.9h0M367.2 91.8h0M402.8 93.0h0M305.8 96.6h0M353.9 97.3h0M394.4 96.9h0M400.7 96.6h0M406.0 98.2h0M329.4 101.6h0M296.5 105.6h0M354.2 106.5h0M358.5 105.6h0M399.8 106.5h0M404.8 106.7h0M351.1 112.0h0M312.7 115.9h0M323.5 114.5h0M380.1 115.9h0M315.7 120.2h0M376.0 119.7h0M383.2 119.3h0M397.8 119.4h0" stroke="rgb(232,106,186)" stroke-width="4.80" stroke-linecap="round"/>
<path d="M312.2 25.5h0M358.2 24.4h0M364.4 24.2h0M362.6 30.6h0M367.2 29.3h0M397.7 29.4h0M318.0 33.5h0M323.7 34.2h0M379.8 33.6h0M385.3 34.2h0M404.5 34.7h0M298.3 38.4h0M303.1 37.6h0M341.7 39.3h0M387.6 39.1h0M392.0 38.4h0M317.7 43.1h0M333.5 43.0h0M347.8 43.8h0M380.3 43.1h0M400.2 43.7h0M371.2 47.8h0M393.0 48.4h0M317.9 52.6h0M337.2 52.2h0M304.8 56.6h0M335.7 57.6h0M367.6 56.3h0M397.9 55.5h0M339.1 62.1h0M349.2 60.9h0M383.8 60.2h0M341.9 65.2h0M344.7 66.6h0M361.8 66.1h0M301.1 70.0h0M326.8 70.1h0M353.4 71.2h0M305.4 73.7h0M325.4 75.0h0M346.7 74.5h0M393.0 73.6h0M397.3 74.0h0M322.3 78.8h0M342.5 79.0h0M348.2 79.0h0M405.6 79.2h0M340.4 84.5h0M361.0 84.2h0M377.9 84.4h0M396.9 84.5h0M300.6 88.0h0M313.1 87.6h0M357.8 89.4h0M369.2 89.1h0M395.3 88.4h0M320.2 93.7h0M340.8 92.3h0M377.3 92.7h0M396.8 91.8h0M316.6 97.7h0M334.0 98.6h0M339.0 98.2h0M304.9 101.7h0M387.0 103.1h0M316.8 107.4h0M322.7 105.9h0M328.4 106.6h0M349.2 107.4h0M364.6 106.8h0M396.3 106.8h0M320.3 110.3h0M335.3 110.9h0M345.5 110.8h0M392.6 110.1h0M302.9 115.2h0M306.8 115.6h0M316.3 115.4h0M406.3 114.4h0M331.2 121.0h0M372.7 119.0h0M392.0 120.6h0" stroke="rgb(204,64,156)" stroke-width="4.80" stroke-linecap="round"/>
<path d="M338.0 75.8l-4.5 -1.2M352.1 72.4l-7.2 -3.4M347.5 104.3l-4.9 1.6M341.6 78.5l-4.2 -0.2M325.3 113.2l-4.7 2.5M313.7 56.8l-6.7 -2.9M350.7 87.1l-4.5 -1.2M385.0 116.2l2.6 5.1M315.4 100.2l-5.4 4.1M349.5 111.5l-3.5 5.3M303.8 29.2l-2.9 -7.2M368.7 97.3l4.0 6.1M322.1 92.0l-4.4 3.7M337.2 83.6l-5.9 -2.1M349.0 71.5l-5.8 -1.4M298.8 75.4l-7.9 0.7M299.3 101.9l-7.1 0.1M394.4 36.0l0.2 -4.2M317.9 75.1l-3.8 -2.8M339.8 60.8l-4.5 -4.0M403.0 47.1l6.1 -4.0M367.1 106.1l-0.5 3.9M337.9 77.6l-3.5 0.6M315.8 72.6l-6.9 -1.6M357.8 106.0l1.0 5.8M302.0 45.7l-3.8 -6.5M348.1 30.3l-5.4 -5.5M393.3 78.6l5.0 -5.8M331.0 115.7l-5.7 3.9M373.4 63.2l-0.5 -4.2M323.1 103.9l-6.6 3.7M332.8 96.5l-6.0 5.2M374.6 72.7l3.5 -1.3M344.0 104.2l-4.4 5.4M399.2 63.0l3.5 -1.0M326.6 118.6l-3.9 3.3M397.7 66.3l6.1 -2.2M306.6 83.7l-6.1 -2.8M306.2 40.4l-3.7 -5.1M376.3 55.5l-0.3 -3.5M330.3 59.6l-3.7 -1.7M317.5 67.9l-4.8 -2.4M300.3 59.0l-6.2 0.4M332.1 61.9l-4.8 -2.2M306.5 110.1l-7.9 -0.9M358.4 41.8l-1.1 -4.0M329.6 72.0l-5.4 0.5M342.3 71.2l-4.6 -0.7M323.8 84.3l-4.3 -0.8M308.9 54.4l-2.3 -4.4M363.6 101.0l1.0 4.9M384.3 106.2l1.1 4.0M331.7 114.4l-2.4 4.3M400.2 116.4l6.1 2.7M349.8 79.7l-5.1 -1.1M384.5 62.7l1.4 -5.9M360.6 76.9l-0.4 -6.0M399.0 69.1l5.3 -1.3M328.5 90.6l-6.8 -2.1M341.1 72.6l-3.4 -3.1M367.6 92.7l1.2 3.7M403.0 70.7l5.0 -2.9M395.5 90.5l7.0 1.0M335.8 109.6l-5.2 3.7M306.6 97.7l-5.1 -0.1M366.4 30.1l3.8 -5.3M340.1 96.2l-5.3 -1.1M298.6 50.1l-5.0 -3.0M359.3 79.7l-2.8 -4.4M379.8 80.9l4.7 -1.9M300.1 35.8l-6.5 -4.3M309.9 113.8l-3.1 3.8M346.0 45.3l-2.3 -5.2M344.2 91.0l-4.5 1.8M383.8 36.7l4.6 -4.5M369.6 41.3l3.0 -3.5M316.1 40.9l-5.2 -5.9M322.2 63.8l-6.3 -0.9M343.5 28.7l-0.8 -4.3M360.6 62.3l0.5 -4.4M377.6 101.5l3.8 1.0M390.4 43.4l1.8 -5.3M325.4 106.5l-5.8 2.6M361.1 83.0l-2.1 -4.6M387.5 83.6l6.5 1.4M329.2 83.3l-3.8 1.5M310.1 54.5l-6.5 -1.1M351.9 65.0l-4.1 -3.2M317.3 85.3l-6.2 -1.8M404.0 77.8l4.0 -1.0M331.0 68.1l-5.1 -0.0M298.5 38.7l-4.1 -6.7M351.3 72.2l-2.4 -4.8M386.9 71.6l1.6 -3.2M378.6 53.3l0.8 -5.9M315.4 68.7l-5.5 -4.3M356.0 36.6l-4.0 -5.7M385.2 60.2l3.2 -1.8M374.1 77.0l3.9 -0.8M385.9 96.1l7.9 1.0M345.4 58.5l-1.0 -5.4M403.4 98.4l7.1 -0.4M360.1 58.7l0.8 -6.3M315.2 39.0l-4.0 -1.9M303.8 58.7l-5.8 -1.1M332.0 91.7l-4.4 1.7M388.9 117.9l1.8 3.5M400.0 99.3l5.5 5.8M389.8 37.8l3.7 -2.8M373.3 103.3l1.5 6.4M349.6 79.9l-5.2 -1.2M345.6 85.1l-3.3 -2.2M352.4 52.0l1.1 -5.0M398.7 56.5l1.7 -6.8M375.5 94.2l5.8 2.9M335.7 31.9l-1.8 -4.1M343.3 45.8l-4.8 -5.4M333.5 79.9l-5.4 -1.8M334.1 89.7l-3.2 2.3M381.0 68.9l2.1 -7.0M344.5 26.1l1.1 -4.3M370.8 38.3l1.3 -4.0M396.8 51.6l3.7 -2.8M337.1 110.3l-2.4 4.7M330.0 91.3l-5.9 2.7M372.4 26.1l0.5 -4.1M321.6 89.4l-5.3 3.9M384.5 118.2l2.6 3.2M305.0 61.7l-3.0 -2.5M330.9 108.2l-3.8 5.9" stroke="rgb(248,214,236)" stroke-width="1.3" stroke-linecap="round" opacity="0.75"/>
<path d="M296.4 23.4h0M322.2 24.6h0M334.1 25.0h0M364.3 23.9h0M381.0 25.2h0M390.5 23.9h0M401.2 23.7h0M329.7 29.5h0M346.8 28.6h0M355.4 29.6h0M371.2 29.0h0M377.4 29.4h0M387.5 29.6h0M392.2 30.1h0M397.9 29.6h0M401.7 30.0h0M300.9 34.8h0M305.7 32.7h0M311.7 33.5h0M333.0 35.1h0M337.8 33.1h0M353.2 34.5h0M363.8 33.7h0M368.9 34.6h0M385.8 33.9h0M391.2 34.9h0M399.8 34.8h0M320.3 39.0h0M336.9 39.1h0M356.4 38.0h0M366.2 39.5h0M371.4 38.6h0M378.3 38.0h0M402.9 38.2h0M317.2 43.1h0M327.6 42.5h0M338.8 42.2h0M373.4 44.1h0M380.3 43.4h0M383.8 42.6h0M400.7 43.8h0M309.2 47.5h0M329.3 47.4h0M334.7 47.6h0M340.3 49.4h0M344.2 46.1h0M356.3 47.3h0M360.0 48.2h0M371.4 47.6h0M382.1 46.9h0M392.6 48.4h0M403.4 48.8h0M302.3 52.2h0M306.3 53.3h0M312.5 52.2h0M322.6 50.8h0M328.5 52.1h0M332.1 51.7h0M336.8 52.2h0M349.3 52.4h0M358.8 51.0h0M364.5 51.3h0M397.0 51.2h0M404.8 51.6h0M304.5 56.9h0M326.1 57.9h0M335.4 57.1h0M362.1 58.0h0M371.8 56.1h0M393.1 56.4h0M402.4 55.5h0M306.4 61.9h0M317.1 61.6h0M339.0 62.5h0M354.6 60.2h0M370.7 60.4h0M400.4 62.0h0M372.1 64.8h0M377.6 65.3h0M297.0 69.4h0M312.6 70.2h0M317.7 69.2h0M343.4 71.2h0M369.1 69.2h0M320.5 73.3h0M326.0 75.0h0M346.6 74.7h0M351.2 73.4h0M372.0 75.9h0M302.7 78.1h0M312.5 78.4h0M317.4 79.1h0M338.2 80.2h0M342.6 79.2h0M347.6 79.5h0M359.0 79.1h0M364.8 79.8h0M375.2 78.7h0M385.4 79.7h0M389.6 79.9h0M402.0 79.4h0M405.3 78.7h0M299.0 83.1h0M329.2 84.1h0M346.7 84.0h0M387.5 82.7h0M401.8 83.0h0M300.5 87.8h0M308.1 88.6h0M328.4 87.3h0M354.1 87.9h0M375.2 89.4h0M399.7 87.6h0M304.2 91.6h0M310.4 92.7h0M315.2 93.2h0M325.9 93.1h0M340.6 92.6h0M371.3 92.1h0M387.5 93.0h0M393.6 93.6h0M402.8 92.9h0M333.5 98.6h0M347.6 96.5h0M354.3 96.8h0M364.5 97.6h0M385.2 96.7h0M391.3 98.4h0M394.6 97.0h0M406.4 97.7h0M305.4 101.8h0M319.2 101.5h0M329.1 101.1h0M335.2 101.2h0M362.4 101.3h0M377.8 101.4h0M397.5 103.0h0M297.1 105.4h0M311.2 107.1h0M328.3 106.6h0M333.6 106.5h0M354.4 106.5h0M358.3 106.0h0M364.6 107.3h0M374.8 107.4h0M391.7 106.7h0M404.3 107.2h0M304.9 110.5h0M313.4 112.4h0M341.8 112.4h0M367.8 111.6h0M375.8 111.8h0M381.9 111.0h0M327.0 115.1h0M362.7 116.1h0M380.6 115.4h0M400.9 115.3h0M299.2 121.0h0M303.6 120.3h0M310.2 120.3h0M325.7 120.6h0M388.1 119.6h0" stroke="rgb(125,35,115)" stroke-width="1.50" stroke-linecap="round"/>
</g></g>
<g clip-path="url(#cp10)"><g filter="url(#soft)">
<rect x="297.5" y="122.2" width="106.5" height="93.0" fill="rgb(234,138,198)"/>
<path d="M297.1 120.3h0M307.8 120.2h0M311.8 122.3h0M342.5 121.1h0M358.4 120.7h0M368.3 121.7h0M378.9 120.0h0M385.6 121.7h0M391.0 121.8h0M406.1 120.3h0M299.0 125.4h0M320.7 125.3h0M324.6 126.4h0M330.5 125.7h0M346.5 125.3h0M372.5 125.3h0M376.2 126.4h0M397.7 124.6h0M403.7 125.1h0M302.0 130.4h0M316.6 129.5h0M322.0 130.0h0M349.1 131.4h0M354.4 130.8h0M360.1 130.0h0M383.8 129.4h0M401.2 131.4h0M305.1 135.4h0M344.8 133.6h0M351.7 134.9h0M360.7 133.8h0M377.4 134.7h0M296.6 140.2h0M306.9 139.5h0M313.3 140.4h0M373.4 138.6h0M396.1 138.3h0M350.5 144.6h0M373.1 143.0h0M296.1 149.3h0M300.5 147.7h0M321.6 147.8h0M338.4 149.0h0M358.7 147.4h0M304.3 153.0h0M345.8 153.2h0M317.0 157.2h0M390.8 157.9h0M303.3 162.3h0M329.8 162.7h0M317.7 167.4h0M405.6 166.3h0M298.5 170.7h0M319.1 171.6h0M324.4 171.5h0M386.5 171.2h0M398.7 169.9h0M296.6 175.4h0M307.0 174.4h0M380.3 174.5h0M389.4 176.4h0M401.0 175.9h0M405.3 176.6h0M309.4 179.5h0M335.6 179.0h0M295.6 184.2h0M342.9 184.9h0M364.7 183.7h0M405.0 184.2h0M334.7 188.4h0M341.8 188.4h0M361.5 188.9h0M366.1 189.2h0M377.4 188.0h0M382.7 188.1h0M393.7 190.0h0M398.6 189.6h0M364.0 194.3h0M379.2 193.6h0M385.1 194.7h0M406.4 194.5h0M344.8 197.0h0M365.7 198.8h0M372.3 198.6h0M403.3 197.5h0M327.5 203.8h0M336.9 202.8h0M349.0 202.4h0M358.1 203.8h0M365.0 203.0h0M389.8 202.8h0M396.5 203.3h0M367.1 206.6h0M372.3 206.5h0M377.5 208.3h0M383.1 206.0h0M387.1 207.7h0M302.3 211.3h0M308.1 211.1h0M312.1 212.7h0M323.5 212.2h0M326.5 211.7h0M343.8 212.4h0M368.3 212.0h0M379.6 212.9h0M390.2 212.3h0M399.3 212.0h0M404.9 211.9h0M303.9 217.3h0M314.8 216.1h0M319.6 215.4h0M335.7 216.7h0M341.4 215.8h0M357.3 216.2h0M365.9 216.9h0M376.5 216.0h0M382.1 215.5h0M398.5 215.5h0" stroke="rgb(226,90,174)" stroke-width="4.80" stroke-linecap="round"/>
<path d="M321.8 121.5h0M328.8 121.2h0M331.9 122.1h0M337.2 122.1h0M394.7 122.3h0M400.2 121.2h0M305.3 126.3h0M313.9 126.5h0M335.6 126.4h0M352.2 126.9h0M362.3 124.7h0M365.8 125.2h0M382.4 126.8h0M388.3 124.7h0M393.2 124.6h0M306.8 129.4h0M313.1 130.1h0M337.7 130.4h0M344.2 130.9h0M369.5 129.4h0M390.9 131.1h0M395.7 130.5h0M405.8 131.2h0M318.9 135.3h0M324.5 134.2h0M330.8 133.7h0M372.1 135.6h0M383.1 134.3h0M386.9 135.1h0M392.4 134.6h0M321.5 139.0h0M337.5 139.7h0M354.8 139.2h0M359.2 138.3h0M385.9 139.7h0M389.3 140.2h0M401.4 139.6h0M299.3 142.6h0M304.8 143.3h0M313.7 143.8h0M320.1 143.3h0M393.2 143.4h0M397.4 142.8h0M317.7 147.2h0M363.7 149.3h0M395.3 148.8h0M399.9 148.0h0M299.9 153.8h0M308.5 152.9h0M320.0 153.2h0M397.3 153.6h0M295.9 157.7h0M307.1 158.1h0M375.1 156.3h0M299.9 163.0h0M399.0 161.2h0M302.7 166.7h0M385.9 166.1h0M394.7 166.5h0M401.6 166.6h0M310.0 170.4h0M315.5 169.9h0M403.4 170.7h0M302.3 176.1h0M317.0 176.5h0M375.1 174.9h0M382.0 180.1h0M387.4 179.8h0M392.7 181.2h0M378.8 184.0h0M330.8 188.8h0M388.6 189.5h0M331.9 193.4h0M337.2 194.4h0M349.7 193.1h0M373.8 193.9h0M391.1 194.3h0M335.5 197.4h0M340.9 197.3h0M362.2 197.1h0M376.2 199.1h0M382.8 198.5h0M386.4 198.0h0M318.0 203.2h0M333.2 202.7h0M344.2 202.0h0M353.6 201.9h0M369.2 203.3h0M374.4 202.4h0M404.7 203.0h0M314.2 206.2h0M334.7 207.1h0M350.5 207.2h0M360.5 207.2h0M404.2 208.1h0M333.3 211.1h0M338.1 212.7h0M348.5 211.8h0M354.9 212.0h0M359.3 210.9h0M308.4 215.4h0M325.5 217.1h0M329.6 216.5h0M360.9 216.5h0M372.1 216.0h0M386.6 216.7h0M391.6 215.3h0" stroke="rgb(216,76,164)" stroke-width="4.80" stroke-linecap="round"/>
<path d="M347.4 120.1h0M353.5 121.0h0M328.0 131.0h0M334.1 130.9h0M373.7 129.1h0M310.5 135.9h0M336.4 134.8h0M356.8 134.6h0M403.3 134.9h0M300.7 140.3h0M316.6 140.1h0M364.7 140.2h0M368.3 139.8h0M380.2 138.8h0M308.8 143.3h0M331.3 144.6h0M345.4 143.0h0M311.8 148.7h0M406.0 147.2h0M302.7 157.9h0M400.1 157.2h0M405.1 156.5h0M315.0 161.4h0M402.3 162.7h0M306.0 165.7h0M303.7 170.5h0M393.0 172.0h0M299.8 179.1h0M314.8 179.6h0M324.3 178.9h0M376.9 180.6h0M404.1 180.0h0M383.9 184.1h0M395.0 184.1h0M400.2 185.7h0M344.9 190.1h0M370.5 193.4h0M400.9 193.7h0M392.2 197.7h0M397.5 198.5h0M296.2 202.2h0M385.0 202.3h0M303.8 206.4h0M319.3 207.7h0M329.2 208.3h0M345.8 207.1h0M316.4 211.8h0M346.2 217.1h0M403.4 216.5h0" stroke="rgb(232,106,186)" stroke-width="4.80" stroke-linecap="round"/>
<path d="M300.9 120.8h0M317.5 121.7h0M363.3 120.8h0M374.4 121.5h0M310.3 125.9h0M341.2 124.5h0M356.3 126.2h0M295.8 129.5h0M364.6 131.2h0M380.7 129.5h0M298.6 135.2h0M313.7 134.4h0M341.5 135.5h0M366.8 135.8h0M397.1 135.2h0M405.7 140.2h0M326.0 143.2h0M403.1 143.9h0M307.1 147.5h0M328.0 147.9h0M390.7 148.5h0M393.1 153.0h0M402.0 152.6h0M313.3 156.4h0M392.9 160.8h0M295.7 166.8h0M346.4 178.8h0M397.2 179.6h0M332.6 184.7h0M373.5 184.9h0M356.9 189.3h0M403.4 188.1h0M354.7 193.9h0M358.9 192.8h0M396.3 193.5h0M350.3 198.3h0M356.6 197.7h0M378.9 202.9h0M400.8 202.0h0M325.5 206.8h0M340.0 207.7h0M356.2 207.6h0M393.1 208.0h0M398.2 206.9h0M296.4 212.9h0M363.6 211.4h0M373.9 211.4h0M384.2 212.0h0M395.2 212.7h0M298.1 215.5h0M350.6 215.5h0" stroke="rgb(204,64,156)" stroke-width="4.80" stroke-linecap="round"/>
<path d="M327.7 140.3h0M333.1 140.4h0M343.6 139.8h0M347.3 140.1h0M335.1 143.0h0M341.9 144.6h0M357.3 144.2h0M361.4 142.9h0M367.1 143.9h0M377.1 144.1h0M382.3 144.5h0M386.8 143.5h0M333.2 148.8h0M343.1 147.5h0M347.6 148.5h0M353.6 149.5h0M368.3 149.1h0M374.9 149.1h0M380.4 148.8h0M384.0 149.4h0M313.5 152.6h0M324.0 152.2h0M330.9 152.2h0M334.7 152.0h0M340.6 153.5h0M349.9 153.4h0M355.5 153.6h0M362.0 152.3h0M366.7 153.7h0M372.3 153.9h0M377.7 153.0h0M382.1 151.7h0M387.9 152.0h0M322.4 158.4h0M328.4 157.5h0M333.0 157.2h0M338.0 157.5h0M342.7 156.3h0M348.5 158.0h0M352.7 158.5h0M359.7 156.7h0M363.0 157.9h0M369.1 157.3h0M378.8 158.1h0M385.0 156.5h0M395.4 156.5h0M309.5 161.5h0M320.6 163.0h0M325.5 161.5h0M334.5 160.8h0M340.8 163.1h0M345.8 161.9h0M351.1 161.8h0M355.6 161.9h0M361.4 160.8h0M366.8 161.1h0M371.9 161.6h0M376.1 162.3h0M382.8 161.9h0M386.7 162.2h0M312.9 166.7h0M323.2 166.8h0M327.4 166.7h0M333.8 165.9h0M336.9 166.8h0M343.1 166.1h0M348.6 165.8h0M353.6 166.9h0M358.1 167.6h0M363.1 165.3h0M370.1 166.8h0M374.5 165.8h0M379.3 166.2h0M389.9 165.3h0M330.0 171.6h0M336.3 170.7h0M340.7 170.7h0M346.8 171.6h0M350.1 170.6h0M356.1 170.8h0M362.3 171.5h0M365.5 170.8h0M372.8 169.9h0M376.5 170.6h0M382.5 171.3h0M313.1 175.2h0M322.6 174.9h0M327.9 175.5h0M332.3 175.0h0M339.2 175.4h0M343.4 175.2h0M349.1 176.5h0M352.9 175.0h0M359.0 174.7h0M363.7 175.0h0M368.2 176.1h0M385.3 175.0h0M394.7 175.3h0M304.9 180.7h0M320.0 179.0h0M330.4 179.7h0M340.0 178.9h0M352.0 179.0h0M357.1 179.4h0M361.6 179.3h0M367.0 179.7h0M371.1 181.2h0M301.9 183.9h0M305.9 184.9h0M311.9 185.6h0M316.2 184.6h0M323.6 185.1h0M328.3 184.7h0M337.5 184.0h0M348.8 185.7h0M354.5 183.6h0M358.0 184.4h0M370.3 184.6h0M390.2 185.0h0M299.4 189.4h0M303.6 188.2h0M310.7 190.2h0M314.3 190.0h0M320.8 190.1h0M325.3 188.4h0M350.7 189.0h0M371.9 189.4h0M296.5 194.7h0M302.6 192.8h0M306.0 192.9h0M311.5 193.8h0M317.4 194.4h0M322.0 194.6h0M328.4 192.8h0M343.8 193.9h0M299.4 198.9h0M303.2 197.9h0M310.2 198.8h0M315.3 198.2h0M320.4 198.0h0M325.0 197.0h0M329.6 197.6h0M302.9 202.8h0M306.0 202.9h0M312.3 203.4h0M322.2 202.8h0M300.1 207.2h0M310.0 207.3h0" stroke="rgb(196,80,162)" stroke-width="5.00" stroke-linecap="round"/>
<path d="M403.5 177.2l6.7 -1.0M359.2 205.1l5.9 1.6M298.0 213.4l-1.9 6.7M301.1 171.6l-7.2 0.1M311.6 149.7l-3.1 -4.8M330.0 187.6l1.4 3.3M345.9 194.0l5.9 3.8M389.1 128.8l2.9 -2.3M342.9 147.3l6.1 -3.6M381.4 129.7l3.7 -0.8M398.2 184.9l5.0 -1.3M357.0 128.4l3.8 -7.0M322.9 132.8l4.4 -4.2M399.6 141.7l4.2 -2.9M304.2 154.3l-2.2 -3.4M373.1 185.3l6.3 0.3M382.7 210.1l1.8 3.4M393.1 149.0l3.7 -3.0M400.8 172.6l5.5 -0.7M390.3 143.8l5.3 -0.6M360.7 187.0l4.6 1.6M379.5 126.6l3.5 -2.4M395.9 188.4l5.0 5.3M322.8 126.0l-1.0 -4.6M355.0 137.3l5.3 -0.6M350.7 135.7l2.2 -2.8M376.1 212.9l3.6 4.3M328.4 210.0l1.0 4.0M357.7 206.5l3.9 5.5M393.4 135.2l4.4 -3.0M321.2 209.2l4.1 4.3M361.9 209.9l3.5 2.2M327.8 154.9l3.8 -0.9M383.1 149.0l5.1 1.7M393.0 135.2l2.8 -3.4M348.0 202.9l7.5 2.1M378.0 130.4l5.4 -0.1M356.7 188.3l4.3 0.1M385.5 199.8l4.9 2.7M300.4 122.4l1.9 -7.0M323.6 133.3l3.0 -2.4M390.0 180.6l3.7 1.6M314.8 127.6l2.0 -3.6M314.9 147.6l2.8 -4.2M390.4 199.1l6.5 1.0M370.8 131.1l3.5 -0.6M333.7 206.9l3.5 2.8M317.6 205.6l-1.6 5.6M384.7 208.1l4.9 1.5M384.5 204.9l3.5 3.6M373.1 124.9l4.3 -6.0M312.7 143.3l-1.7 -3.5M371.1 195.1l4.9 4.9M302.0 132.2l-1.1 -3.6M310.2 145.7l0.5 -6.9M380.8 207.8l2.3 3.7M334.9 130.6l6.8 -3.7M334.5 137.1l3.6 -2.9M358.2 131.4l1.4 -4.2M317.9 148.4l2.3 -7.5M308.0 142.1l0.3 -5.1M402.4 133.7l4.9 -4.9M332.4 133.0l2.9 -3.9M401.5 163.5l7.0 -2.1M317.6 128.7l0.6 -6.5M316.6 215.1l2.9 4.7M367.6 130.1l4.7 -4.0M308.3 208.3l3.1 7.2M379.3 132.2l5.6 -3.0M311.8 131.5l-3.4 -5.6M401.0 157.8l5.5 -3.1M307.8 129.3l1.3 -6.9M325.4 154.2l5.7 -5.3M300.9 162.2l-4.8 -1.1M356.8 202.2l3.4 4.6M350.2 212.5l6.0 5.1M331.6 124.8l3.7 -3.5M376.5 124.7l2.8 -2.8" stroke="rgb(248,214,236)" stroke-width="1.3" stroke-linecap="round" opacity="0.75"/>
<path d="M297.2 120.5h0M300.8 121.1h0M312.0 122.0h0M318.0 122.2h0M321.3 121.9h0M342.0 120.8h0M347.7 120.5h0M367.8 121.6h0M379.5 120.1h0M390.9 121.8h0M400.5 121.7h0M406.6 120.0h0M305.8 126.1h0M313.9 126.2h0M335.7 126.6h0M352.7 127.3h0M355.9 125.8h0M376.2 126.3h0M393.4 125.2h0M397.5 124.6h0M403.2 125.5h0M301.5 130.9h0M307.3 128.8h0M313.3 129.7h0M316.8 129.2h0M321.9 129.9h0M337.5 130.1h0M348.8 131.5h0M360.2 130.3h0M373.8 128.5h0M381.1 130.0h0M395.3 131.0h0M406.0 130.8h0M298.9 135.3h0M310.5 135.7h0M341.4 135.8h0M344.4 133.5h0M352.2 135.4h0M366.5 135.3h0M371.6 136.0h0M377.2 134.2h0M392.8 134.7h0M397.1 135.8h0M307.2 139.1h0M312.8 140.6h0M317.1 140.6h0M337.3 139.2h0M373.3 139.1h0M389.7 139.9h0M396.2 138.9h0M406.2 140.3h0M320.7 143.5h0M325.5 143.6h0M344.9 142.6h0M296.6 149.7h0M312.4 148.9h0M358.3 147.6h0M400.3 148.4h0M299.7 153.5h0M304.2 153.1h0M402.1 152.0h0M317.4 156.6h0M399.7 157.3h0M330.2 162.2h0M386.5 166.0h0M315.1 170.0h0M324.8 171.9h0M398.9 170.2h0M296.2 175.1h0M301.8 176.5h0M307.2 173.9h0M375.7 174.5h0M401.0 176.2h0M405.5 176.9h0M324.6 179.0h0M335.0 178.5h0M403.6 179.9h0M295.4 184.3h0M378.6 184.6h0M383.6 184.7h0M394.4 183.8h0M404.9 184.7h0M388.0 189.5h0M393.9 190.5h0M349.8 193.2h0M358.5 192.4h0M379.0 193.5h0M384.9 194.9h0M391.1 194.7h0M396.3 193.6h0M405.9 195.1h0M336.1 197.8h0M344.3 196.9h0M392.6 198.1h0M333.6 203.2h0M358.2 203.4h0M365.2 202.9h0M378.9 202.8h0M390.1 203.4h0M314.3 205.9h0M325.1 206.9h0M334.6 207.3h0M340.4 207.2h0M346.0 207.0h0M367.2 206.6h0M386.7 208.2h0M393.6 207.5h0M404.4 207.6h0M301.8 211.1h0M323.8 212.5h0M344.4 212.8h0M348.2 211.3h0M354.8 212.4h0M367.7 212.6h0M373.9 211.8h0M379.8 212.8h0M389.8 212.4h0M405.0 212.0h0M304.4 217.0h0M308.3 215.7h0M315.2 216.2h0M319.2 214.9h0M329.2 216.8h0M342.0 216.4h0M346.5 217.3h0M357.1 215.8h0M361.2 217.0h0M365.6 216.8h0M371.6 215.7h0M376.6 215.5h0M386.2 217.0h0" stroke="rgb(125,35,115)" stroke-width="1.50" stroke-linecap="round"/>
<path d="M328.6 140.7h0M329.0 138.6h0M326.2 140.6h0M331.4 141.6h0M334.4 142.0h0M334.8 142.1h0M345.3 139.0h0M342.4 140.8h0M345.4 141.5h0M346.4 140.0h0M348.2 138.3h0M349.0 138.4h0M335.1 142.1h0M336.9 142.5h0M336.1 143.3h0M342.8 145.4h0M342.5 144.5h0M343.8 144.0h0M356.0 145.8h0M356.9 145.9h0M356.7 144.6h0M362.0 143.3h0M361.9 142.8h0M360.1 141.2h0M368.8 142.4h0M369.3 143.2h0M369.3 145.6h0M377.7 142.0h0M376.1 145.3h0M375.6 145.3h0M382.8 145.0h0M381.8 146.5h0M381.8 142.4h0M386.0 145.0h0M385.4 144.3h0M387.3 142.4h0M334.9 148.9h0M333.7 147.9h0M334.4 148.8h0M344.9 148.4h0M343.0 146.4h0M340.9 145.7h0M349.5 149.8h0M345.7 149.5h0M349.3 149.2h0M351.6 150.9h0M355.2 151.0h0M353.0 150.3h0M367.9 151.1h0M367.3 148.6h0M369.9 150.4h0M375.7 147.1h0M376.8 147.6h0M374.5 149.5h0M379.9 148.1h0M378.4 149.6h0M381.9 150.9h0M383.6 147.4h0M383.0 148.5h0M384.9 150.1h0M313.8 154.1h0M314.8 154.7h0M314.1 154.4h0M324.3 152.7h0M323.9 152.9h0M325.0 150.5h0M332.4 154.2h0M330.0 152.3h0M331.8 150.2h0M335.7 150.3h0M335.2 150.6h0M336.6 151.5h0M338.9 153.2h0M342.5 155.0h0M341.0 154.7h0M349.6 153.8h0M351.8 154.7h0M351.7 154.3h0M356.2 154.1h0M354.7 155.3h0M355.2 154.1h0M361.3 151.4h0M363.3 150.7h0M362.4 154.0h0M365.9 154.7h0M367.0 152.4h0M365.5 154.6h0M373.3 156.0h0M370.9 154.1h0M373.0 154.8h0M379.7 153.9h0M378.5 154.8h0M377.9 154.7h0M381.6 149.7h0M380.2 150.7h0M383.4 153.8h0M389.2 150.7h0M388.1 151.4h0M387.7 152.5h0M324.3 158.9h0M323.6 159.0h0M323.9 157.6h0M329.3 157.6h0M330.4 157.6h0M329.7 156.0h0M334.7 157.9h0M332.3 156.3h0M335.0 157.7h0M338.7 155.8h0M337.4 156.4h0M338.7 159.4h0M342.2 157.6h0M341.0 155.2h0M343.7 154.2h0M348.6 158.0h0M347.6 158.7h0M347.7 156.2h0M352.9 159.1h0M351.5 159.1h0M351.5 159.3h0M361.4 157.7h0M359.4 158.1h0M357.8 157.5h0M361.1 156.5h0M361.9 156.0h0M364.4 159.7h0M368.3 156.8h0M367.4 155.1h0M370.0 155.4h0M376.9 159.2h0M378.5 157.6h0M379.5 158.0h0M386.3 156.7h0M387.0 155.0h0M385.8 158.3h0M395.9 156.7h0M397.4 155.6h0M396.5 158.3h0M310.2 159.8h0M310.0 163.3h0M308.7 161.3h0M319.8 164.3h0M321.6 163.6h0M319.7 162.4h0M325.3 162.7h0M325.5 159.8h0M326.2 159.7h0M332.4 161.1h0M334.1 161.2h0M336.3 161.0h0M342.0 162.5h0M339.6 164.3h0M341.8 162.2h0M345.8 162.7h0M347.3 163.3h0M346.3 160.5h0M353.1 162.5h0M353.2 162.8h0M351.1 161.2h0M355.1 159.9h0M354.3 163.7h0M355.0 161.8h0M360.6 161.7h0M361.5 162.3h0M362.9 159.8h0M366.2 161.8h0M368.3 161.2h0M366.3 162.9h0M371.9 161.5h0M372.4 161.6h0M370.4 160.1h0M374.7 161.7h0M377.0 160.6h0M374.9 163.6h0M381.6 160.4h0M384.3 159.8h0M380.8 162.2h0M387.0 160.3h0M385.6 160.8h0M388.7 162.7h0M314.7 167.1h0M314.5 166.8h0M314.0 164.9h0M322.6 164.8h0M323.3 165.6h0M324.5 168.1h0M328.6 167.5h0M325.6 165.0h0M327.3 165.5h0M333.4 164.6h0M334.7 167.2h0M334.1 164.2h0M336.1 166.2h0M335.4 167.5h0M335.8 168.4h0M343.9 167.2h0M342.7 167.4h0M343.0 165.5h0M347.9 166.8h0M349.7 167.4h0M349.3 166.9h0M352.3 166.5h0M352.9 167.1h0M354.4 167.8h0M356.3 166.0h0M360.0 167.3h0M356.2 166.3h0M365.2 165.8h0M363.2 166.3h0M363.5 167.3h0M368.8 167.5h0M371.4 165.8h0M368.0 167.2h0M372.5 164.6h0M372.3 164.3h0M376.7 167.0h0M379.4 167.2h0M377.4 164.4h0M378.4 167.6h0M389.9 165.5h0M389.9 164.5h0M388.2 165.3h0M328.1 173.6h0M329.9 169.5h0M331.5 173.6h0M338.1 172.3h0M336.7 169.7h0M334.9 171.8h0M339.1 170.8h0M340.4 172.7h0M338.7 170.0h0M345.1 171.7h0M346.0 169.5h0M347.5 171.1h0M348.8 169.6h0M349.1 172.6h0M349.5 169.2h0M355.5 170.3h0M355.9 171.1h0M358.2 171.6h0M362.5 173.1h0M360.9 172.8h0M363.3 171.4h0M367.3 171.4h0M365.7 170.0h0M365.5 169.7h0M371.3 168.6h0M371.7 171.4h0M371.0 171.0h0M377.9 169.9h0M376.1 170.0h0M377.3 171.1h0M384.6 170.4h0M381.7 171.4h0M383.7 171.1h0M314.2 175.0h0M311.5 175.3h0M311.7 173.2h0M324.7 175.8h0M321.2 175.4h0M323.2 175.5h0M327.0 174.9h0M328.0 176.9h0M327.6 175.0h0M333.7 176.5h0M331.6 174.9h0M330.2 176.9h0M338.9 174.5h0M338.0 173.3h0M338.6 175.0h0M344.5 174.8h0M342.9 174.2h0M343.1 174.1h0M349.9 175.5h0M350.2 177.8h0M348.8 178.0h0M353.5 174.0h0M353.5 173.6h0M350.8 173.0h0M358.0 175.7h0M360.0 173.6h0M357.4 174.7h0M365.9 174.9h0M365.0 174.3h0M365.2 177.0h0M368.1 174.8h0M369.7 177.5h0M369.7 174.5h0M385.9 173.0h0M387.3 175.1h0M384.3 175.6h0M396.0 175.7h0M394.2 174.2h0M396.7 175.7h0M303.6 181.6h0M304.3 179.1h0M306.7 180.7h0M319.1 177.9h0M319.4 176.8h0M320.6 178.4h0M330.4 180.0h0M330.9 179.0h0M331.0 178.0h0M339.5 178.8h0M340.5 179.3h0M338.0 177.7h0M350.1 179.3h0M354.0 178.6h0M351.5 179.9h0M355.2 178.6h0M359.0 181.5h0M355.3 180.4h0M360.5 179.8h0M360.2 180.4h0M361.2 177.5h0M367.8 181.4h0M365.6 178.3h0M366.6 179.0h0M370.4 180.4h0M373.2 180.4h0M370.5 182.4h0M301.1 183.8h0M301.8 185.6h0M302.8 185.3h0M307.3 184.4h0M307.2 186.7h0M305.2 186.5h0M313.1 186.7h0M313.5 187.5h0M312.5 186.2h0M316.5 183.8h0M317.1 183.1h0M317.0 186.8h0M321.8 184.8h0M324.9 183.6h0M322.9 185.0h0M327.8 184.4h0M329.2 185.8h0M328.2 183.3h0M338.3 184.3h0M335.8 183.6h0M336.9 182.6h0M347.2 183.7h0M350.2 184.4h0M348.2 186.8h0M356.5 185.5h0M356.2 185.0h0M352.4 184.5h0M356.7 184.6h0M356.7 184.5h0M356.9 184.3h0M368.3 183.3h0M371.1 183.6h0M370.1 186.6h0M392.1 184.2h0M390.2 186.1h0M388.1 185.9h0M298.2 187.8h0M301.4 191.2h0M298.6 189.5h0M304.9 189.8h0M302.8 189.1h0M303.7 186.6h0M312.6 192.0h0M309.9 190.5h0M312.7 188.5h0M315.4 191.6h0M313.9 189.6h0M314.0 191.9h0M322.1 188.4h0M319.5 191.3h0M321.3 189.1h0M326.1 187.8h0M326.1 188.3h0M325.3 188.9h0M350.3 186.9h0M351.7 188.4h0M349.9 189.4h0M371.0 188.9h0M371.1 190.8h0M371.8 189.0h0M296.0 195.8h0M298.3 195.0h0M297.2 193.1h0M302.2 192.0h0M303.8 192.6h0M303.1 191.1h0M304.9 192.7h0M307.6 193.1h0M303.8 194.6h0M311.1 191.9h0M311.9 192.7h0M311.7 194.3h0M315.9 195.0h0M315.4 195.9h0M318.2 195.9h0M321.7 193.2h0M322.8 195.1h0M322.9 195.0h0M328.7 194.7h0M326.6 191.9h0M327.8 192.3h0M344.8 194.4h0M345.9 193.8h0M344.6 195.8h0M298.9 199.3h0M301.0 200.0h0M300.3 198.1h0M302.0 197.7h0M305.2 196.7h0M302.3 196.2h0M309.9 196.7h0M310.1 198.8h0M308.8 200.6h0M313.7 199.8h0M316.7 200.1h0M316.0 196.5h0M320.5 195.8h0M322.3 198.8h0M320.9 196.2h0M325.7 196.2h0M325.4 196.2h0M326.7 196.2h0M329.3 195.9h0M328.0 196.6h0M327.4 198.1h0M303.7 201.4h0M303.6 203.8h0M303.8 204.3h0M304.2 202.6h0M305.1 202.4h0M306.4 203.7h0M313.0 201.5h0M311.1 201.8h0M312.7 204.5h0M323.0 202.0h0M322.5 204.6h0M321.4 204.8h0M299.9 209.0h0M300.4 206.5h0M299.4 209.3h0M309.9 205.9h0M308.1 209.5h0M311.4 207.9h0" stroke="rgb(105,30,110)" stroke-width="1.30" stroke-linecap="round"/>
</g></g>
<g clip-path="url(#cp20)"><g filter="url(#soft)">
<rect x="297.5" y="218.4" width="106.5" height="92.8" fill="rgb(234,138,198)"/>
<path d="M296.7 218.4h0M327.5 217.4h0M333.0 216.9h0M342.3 217.0h0M370.2 217.6h0M385.4 216.3h0M396.1 217.2h0M304.1 222.3h0M314.7 220.8h0M366.1 221.4h0M372.4 222.7h0M398.9 221.4h0M307.9 225.5h0M322.8 227.1h0M327.9 225.5h0M334.0 227.2h0M344.2 225.6h0M349.3 227.2h0M359.3 226.8h0M363.4 226.9h0M368.5 227.5h0M389.8 226.3h0M399.4 227.6h0M310.1 230.4h0M371.8 230.2h0M398.5 230.2h0M295.6 235.1h0M318.0 234.6h0M353.5 235.2h0M379.8 235.0h0M401.2 236.3h0M299.8 239.6h0M308.3 239.1h0M331.0 239.0h0M336.6 240.9h0M361.2 239.6h0M397.5 239.4h0M307.6 245.3h0M322.0 243.8h0M343.9 244.7h0M349.4 244.8h0M370.2 245.5h0M304.0 247.9h0M310.0 249.1h0M313.9 248.0h0M320.2 250.0h0M355.6 248.6h0M361.2 249.6h0M372.0 249.7h0M383.5 248.1h0M386.9 249.1h0M300.8 253.6h0M352.8 254.4h0M363.2 253.8h0M368.8 253.1h0M390.7 254.0h0M308.4 258.3h0M319.1 257.0h0M331.3 257.7h0M340.2 257.4h0M344.8 259.2h0M371.9 257.9h0M381.7 258.2h0M387.8 257.4h0M399.0 258.2h0M402.6 259.2h0M306.4 262.4h0M328.7 261.8h0M331.7 261.5h0M344.0 263.0h0M363.2 262.3h0M400.9 262.9h0M405.1 262.8h0M319.9 267.2h0M352.1 268.0h0M355.2 266.8h0M362.2 267.5h0M366.9 266.2h0M381.3 266.1h0M296.7 270.7h0M307.4 271.6h0M316.8 272.6h0M332.7 271.0h0M337.4 270.7h0M359.9 271.7h0M364.6 271.6h0M368.9 272.3h0M375.3 270.5h0M384.6 272.8h0M300.0 275.2h0M314.0 276.3h0M366.2 276.3h0M393.4 277.2h0M402.6 276.7h0M323.0 280.6h0M331.8 279.9h0M338.5 280.4h0M348.1 279.6h0M389.8 281.9h0M395.2 279.7h0M298.6 284.1h0M305.1 285.5h0M324.8 286.0h0M371.7 284.1h0M381.3 285.4h0M391.9 284.1h0M397.1 285.7h0M402.3 284.9h0M312.8 290.4h0M322.9 288.7h0M328.5 289.0h0M342.1 289.1h0M348.2 288.7h0M354.3 289.8h0M370.0 288.9h0M315.7 294.7h0M324.3 294.6h0M336.6 293.4h0M341.5 295.3h0M345.7 294.2h0M350.5 293.5h0M387.1 294.8h0M295.6 299.9h0M307.2 298.5h0M313.1 299.4h0M328.8 298.0h0M334.0 299.7h0M337.8 299.3h0M354.3 299.9h0M359.7 298.3h0M363.9 298.4h0M379.0 298.1h0M385.7 298.1h0M404.5 298.3h0M299.8 302.3h0M331.1 304.4h0M345.8 303.1h0M350.7 303.7h0M356.9 303.8h0M361.3 303.6h0M372.5 302.9h0M393.1 302.7h0M397.0 304.5h0M300.7 308.3h0M333.1 306.7h0M353.0 308.3h0M315.6 311.4h0M321.1 312.8h0M324.1 313.5h0M340.2 312.6h0M356.6 312.3h0M361.9 312.4h0M377.6 311.9h0" stroke="rgb(226,90,174)" stroke-width="4.80" stroke-linecap="round"/>
<path d="M307.1 218.4h0M311.7 217.6h0M322.9 216.6h0M348.6 217.2h0M354.1 216.9h0M359.0 216.7h0M375.3 218.5h0M379.8 217.7h0M401.3 216.8h0M405.1 217.6h0M299.8 221.5h0M339.8 222.7h0M350.3 223.1h0M362.6 221.5h0M392.4 222.9h0M295.4 227.3h0M338.5 227.2h0M373.6 227.0h0M380.7 227.2h0M385.8 227.1h0M298.1 230.9h0M304.1 230.3h0M313.6 232.0h0M329.8 230.7h0M334.7 230.2h0M341.6 230.1h0M345.7 230.4h0M351.9 231.6h0M356.9 230.4h0M360.7 231.5h0M377.6 230.8h0M386.6 230.0h0M327.5 234.7h0M343.0 234.5h0M348.5 236.4h0M358.7 234.4h0M369.4 235.0h0M375.7 235.9h0M303.7 240.4h0M346.0 239.0h0M352.1 240.6h0M367.2 241.2h0M372.1 240.2h0M377.6 241.1h0M382.5 240.1h0M387.3 240.0h0M393.1 239.9h0M316.5 243.7h0M331.8 243.5h0M338.1 245.7h0M354.7 244.4h0M375.0 245.2h0M378.7 244.9h0M384.0 243.8h0M388.9 245.3h0M395.0 245.2h0M405.0 245.3h0M335.0 249.7h0M341.7 249.5h0M376.5 249.9h0M392.2 249.6h0M403.9 248.4h0M311.9 252.6h0M317.2 253.5h0M322.3 253.7h0M327.9 253.9h0M334.0 254.1h0M349.1 254.7h0M358.1 253.3h0M374.5 252.7h0M379.2 253.5h0M400.2 254.6h0M336.4 257.7h0M350.7 257.9h0M361.5 258.7h0M295.9 263.1h0M301.0 263.5h0M312.6 263.8h0M321.9 263.8h0M339.0 263.1h0M349.4 263.4h0M368.6 261.5h0M380.4 262.0h0M396.2 262.8h0M304.6 267.6h0M309.9 268.0h0M324.4 266.6h0M329.9 266.9h0M336.1 268.3h0M341.7 266.4h0M393.0 267.1h0M398.8 267.5h0M300.8 271.7h0M349.3 271.8h0M353.5 270.9h0M400.1 271.0h0M324.4 275.2h0M330.6 275.4h0M335.8 276.2h0M346.4 276.2h0M357.2 276.0h0M361.2 275.4h0M371.8 276.5h0M376.9 275.9h0M381.7 276.6h0M397.5 276.6h0M297.1 281.3h0M302.4 280.5h0M312.7 279.9h0M328.2 280.0h0M352.9 281.8h0M365.3 280.0h0M378.6 280.0h0M310.5 286.2h0M329.5 285.5h0M356.3 285.9h0M360.9 285.3h0M366.6 284.9h0M376.2 285.7h0M387.4 285.2h0M297.4 289.9h0M316.7 288.8h0M337.2 289.1h0M394.4 289.2h0M400.8 288.7h0M300.2 294.9h0M303.2 295.0h0M320.4 293.6h0M355.6 295.2h0M366.5 293.5h0M377.2 293.5h0M392.7 294.8h0M323.0 299.2h0M342.6 298.6h0M348.9 298.6h0M374.3 298.3h0M390.8 298.1h0M303.1 303.6h0M309.4 303.0h0M314.3 302.7h0M319.6 302.3h0M381.4 304.1h0M388.7 304.5h0M403.7 302.7h0M317.1 307.2h0M327.9 307.0h0M337.4 307.6h0M347.6 306.7h0M369.6 307.2h0M374.2 309.0h0M389.3 306.7h0M298.0 313.4h0M329.4 312.4h0M336.6 312.7h0M372.6 311.6h0M401.9 312.3h0" stroke="rgb(216,76,164)" stroke-width="4.80" stroke-linecap="round"/>
<path d="M300.8 216.6h0M310.2 221.4h0M329.7 222.1h0M335.6 222.7h0M357.2 220.9h0M312.1 226.1h0M353.4 227.3h0M321.1 232.0h0M325.8 229.8h0M392.2 231.9h0M301.6 236.6h0M306.5 234.4h0M385.9 235.5h0M389.1 235.9h0M395.0 235.7h0M320.1 240.0h0M356.2 240.9h0M359.5 245.7h0M365.0 243.6h0M399.9 245.2h0M300.1 250.2h0M326.3 249.8h0M346.8 249.4h0M366.8 248.4h0M296.9 254.1h0M344.4 253.6h0M384.8 254.1h0M303.3 259.2h0M325.0 258.9h0M355.2 257.5h0M366.1 257.7h0M375.9 258.2h0M393.9 258.8h0M353.3 263.4h0M375.0 261.9h0M345.9 267.9h0M388.1 266.5h0M403.5 266.0h0M322.2 270.5h0M326.8 271.1h0M343.8 272.8h0M379.2 271.0h0M390.6 271.3h0M406.8 272.8h0M303.4 275.5h0M320.8 277.1h0M339.9 276.7h0M387.0 276.2h0M316.7 280.9h0M359.6 281.7h0M373.5 279.8h0M383.9 279.7h0M401.0 280.7h0M336.5 284.5h0M350.4 285.2h0M332.5 290.1h0M359.6 290.8h0M379.3 290.0h0M384.9 290.4h0M391.3 289.1h0M360.7 294.2h0M372.5 295.3h0M382.2 294.0h0M403.1 294.6h0M302.7 299.4h0M400.0 298.5h0M312.6 308.2h0M344.0 307.9h0M395.9 307.6h0M405.4 307.0h0M388.2 312.4h0M398.9 311.6h0" stroke="rgb(232,106,186)" stroke-width="4.80" stroke-linecap="round"/>
<path d="M318.0 216.4h0M338.4 218.5h0M364.2 218.3h0M389.3 216.6h0M321.0 222.9h0M324.1 223.0h0M346.5 222.7h0M378.1 220.8h0M383.4 222.4h0M388.6 221.6h0M403.0 221.5h0M301.5 227.3h0M317.4 226.0h0M396.5 225.9h0M406.7 226.1h0M365.9 231.8h0M382.3 231.0h0M402.7 230.5h0M311.7 236.1h0M322.0 236.2h0M333.6 235.0h0M338.7 236.5h0M364.5 235.9h0M405.9 235.4h0M314.6 239.8h0M325.4 240.5h0M339.8 239.4h0M403.5 241.0h0M295.6 244.0h0M301.5 245.6h0M311.6 245.1h0M327.4 244.0h0M330.1 250.0h0M351.6 250.0h0M398.1 249.6h0M306.6 252.6h0M337.2 252.7h0M394.9 254.3h0M406.8 254.5h0M298.0 258.4h0M314.7 257.0h0M318.2 263.7h0M358.1 263.3h0M383.8 262.6h0M389.4 261.9h0M299.6 266.6h0M315.9 266.6h0M371.6 268.1h0M377.0 266.7h0M312.3 271.7h0M394.7 270.7h0M309.2 276.5h0M351.4 276.9h0M307.5 279.6h0M343.7 280.5h0M368.9 281.8h0M405.2 280.0h0M313.6 284.3h0M319.8 285.7h0M341.6 284.4h0M346.3 284.2h0M302.5 290.5h0M307.3 288.8h0M365.3 290.3h0M375.4 289.3h0M405.0 289.5h0M309.0 293.2h0M329.3 293.6h0M397.7 294.1h0M318.3 298.5h0M368.1 297.8h0M396.3 297.9h0M325.8 302.2h0M336.4 302.8h0M340.1 303.2h0M366.6 303.7h0M378.0 304.3h0M297.6 308.3h0M307.5 308.1h0M323.1 308.9h0M358.1 308.3h0M364.6 307.3h0M380.7 307.2h0M384.9 307.6h0M400.0 308.9h0M303.5 311.5h0M310.5 311.7h0M345.6 312.9h0M351.8 313.3h0M367.9 312.4h0M383.0 311.6h0M392.8 313.2h0" stroke="rgb(204,64,156)" stroke-width="4.80" stroke-linecap="round"/>
<path d="M314.7 270.6l-3.3 -1.6M401.9 265.4l5.7 -1.6M342.6 306.1l2.0 4.4M398.3 266.6l6.3 1.6M344.9 272.0l-5.8 -0.5M402.5 251.1l4.2 -1.4M308.0 294.5l-2.9 3.2M329.4 295.7l-5.8 2.1M320.5 251.7l-6.2 -1.0M305.4 242.1l-6.8 -3.3M340.1 226.1l-2.5 -4.8M371.5 268.1l5.4 -4.2M403.5 283.1l5.1 -0.8M367.5 294.5l2.9 4.6M313.8 310.5l-2.2 2.9M361.8 225.6l-0.7 -3.9M355.9 224.5l1.6 -4.9M333.0 243.8l-0.3 -4.5M298.6 253.4l-3.2 -4.1M308.7 304.3l-3.2 6.0M330.1 294.6l-3.6 4.6M372.1 298.7l3.8 5.0M393.0 234.2l5.2 -0.8M334.3 287.2l-5.7 1.6M360.8 297.2l1.8 3.6M298.5 266.1l-3.9 1.2M337.8 286.6l-0.5 6.7M401.3 284.1l6.2 -0.4M372.8 235.4l6.5 -2.7M351.0 244.0l0.0 -7.7M391.4 293.9l7.1 1.8M398.4 256.1l3.4 -1.9M306.0 286.1l-4.2 -0.8M303.6 287.4l-5.5 1.6M390.6 307.7l4.7 3.4M375.3 262.9l7.7 -2.3M392.1 283.2l6.2 0.9M394.5 287.6l5.5 3.7M377.3 241.1l6.7 -3.9M385.2 300.1l4.8 4.0M362.2 307.9l1.1 7.4M353.3 239.3l-2.6 -6.8M352.2 306.8l1.0 5.1M337.3 228.9l1.1 -4.5M354.9 289.5l3.5 3.4M328.8 238.2l-1.5 -5.9M320.7 246.7l-2.1 -6.1M385.4 221.7l3.5 -5.2M349.5 251.4l0.9 -4.9M335.2 218.9l0.9 -4.2M335.3 227.8l-1.2 -3.7M352.3 232.7l-2.0 -5.3M314.1 279.3l-4.5 2.8M329.4 258.2l-7.0 -1.6M309.1 259.1l-3.2 -2.8M335.2 258.7l-6.2 -4.1M318.6 236.0l-5.0 -1.6M376.7 302.0l4.0 1.8M348.5 280.1l1.5 5.2M356.1 292.6l0.4 4.9M378.9 300.2l5.5 5.3M387.3 254.5l2.5 -3.1M299.8 232.8l-5.5 -4.3M322.7 281.3l-6.7 4.2M376.0 258.7l4.4 -3.6M378.5 241.4l2.1 -5.4M324.1 289.6l-7.8 1.6M323.8 294.6l-2.9 6.0M383.8 283.5l4.1 1.4M403.2 273.3l4.4 0.9M311.6 222.0l-0.4 -7.7M342.9 275.6l-1.6 3.4M340.9 246.8l-0.7 -4.5M333.3 262.9l-5.6 -3.2M329.9 243.4l-3.8 -3.3M342.0 248.1l-2.7 -2.5M303.1 287.5l-4.4 3.6M394.3 227.8l3.2 -7.1M336.2 246.6l-2.9 -2.1M356.3 298.4l3.2 6.1M336.0 290.7l-3.0 4.2M366.8 237.9l2.6 -7.0M311.4 287.3l-4.0 4.7M394.6 279.1l6.5 -1.4M396.1 225.3l3.8 -3.3M374.7 310.2l5.5 3.9M302.2 236.2l-3.5 -3.0M390.9 297.6l4.0 6.8M392.8 260.0l7.6 0.1M304.7 257.3l-3.9 -4.3M299.8 274.0l-4.0 -0.7M302.3 270.9l-6.2 -2.4M376.4 255.3l7.1 -2.2M401.0 233.8l5.0 -1.7M380.5 255.6l3.2 -2.9M314.5 238.6l-4.0 -6.3M381.7 260.7l5.9 -0.4M329.8 238.8l-1.6 -5.8M315.7 222.6l-2.9 -2.3M313.3 300.4l-4.6 0.8M381.7 278.0l7.2 -0.7M354.4 218.5l-0.5 -6.2M336.8 226.1l-0.0 -6.0M374.4 256.3l4.6 -1.9M303.6 294.1l-4.5 0.4M400.3 234.8l5.9 -0.3M401.7 290.6l3.1 2.5M376.9 253.8l6.9 -2.7M365.1 269.5l4.3 1.2M326.1 272.4l-6.5 -2.2M314.1 239.9l-2.7 -4.4M393.6 227.1l1.7 -4.0M389.3 235.9l5.1 -4.5M366.5 220.4l-0.3 -4.3M339.5 274.8l-2.5 2.9M323.6 302.8l-3.7 1.3M353.6 285.8l-0.2 6.2M337.7 220.3l1.3 -6.8M366.1 222.5l0.2 -3.9M312.7 276.6l-5.9 5.2M399.5 228.3l4.6 -2.0M372.8 237.2l3.4 -5.0M344.8 233.5l-1.2 -4.0M303.5 282.6l-4.0 0.4M385.4 227.9l2.6 -5.2M386.6 231.6l3.4 -1.1M343.0 232.1l0.2 -4.5M391.1 254.1l7.2 0.5M309.5 234.1l-3.8 -1.1M399.3 251.6l3.9 -0.9" stroke="rgb(248,214,236)" stroke-width="1.3" stroke-linecap="round" opacity="0.75"/>
<path d="M300.7 217.0h0M307.0 217.8h0M318.0 216.8h0M333.1 217.3h0M359.0 216.9h0M404.7 217.1h0M303.9 221.7h0M310.6 221.9h0M314.4 220.2h0M336.0 222.4h0M346.4 222.2h0M383.4 222.2h0M389.0 222.0h0M399.3 221.0h0M316.9 226.2h0M322.5 226.9h0M349.1 227.0h0M353.9 227.8h0M363.5 227.1h0M381.0 226.9h0M396.1 226.3h0M330.3 230.2h0M345.3 230.8h0M352.4 231.7h0M371.2 229.9h0M377.4 231.1h0M386.2 230.0h0M392.8 231.3h0M398.5 229.7h0M402.5 231.0h0M296.0 235.3h0M322.5 236.1h0M327.9 234.3h0M333.3 235.3h0M348.6 235.9h0M364.5 236.0h0M369.7 234.8h0M395.2 235.7h0M401.6 236.1h0M299.3 240.2h0M330.6 238.4h0M345.9 238.6h0M356.0 241.3h0M372.0 240.2h0M377.1 240.5h0M392.8 239.5h0M316.4 244.3h0M327.8 244.4h0M331.4 243.6h0M364.5 243.7h0M388.9 244.8h0M309.8 249.7h0M334.8 249.7h0M372.4 249.7h0M387.1 248.6h0M391.9 249.9h0M404.3 248.7h0M344.1 253.6h0M352.9 253.9h0M358.1 253.6h0M373.9 252.7h0M384.4 254.3h0M406.3 254.1h0M298.1 258.6h0M319.4 257.4h0M325.1 258.8h0M336.9 257.7h0M340.7 257.6h0M344.3 259.1h0M351.2 258.4h0M381.6 257.7h0M399.0 258.6h0M403.1 259.0h0M301.3 263.5h0M312.6 264.2h0M318.5 263.7h0M322.4 263.6h0M395.8 263.1h0M400.5 262.4h0M300.2 266.8h0M304.5 267.8h0M329.9 266.3h0M341.9 266.0h0M351.8 267.8h0M371.2 268.6h0M381.2 265.6h0M403.2 265.5h0M306.9 271.1h0M316.6 272.4h0M364.8 272.2h0M374.7 270.0h0M384.2 273.3h0M390.3 270.9h0M394.9 271.2h0M400.5 271.2h0M308.7 276.6h0M313.4 276.7h0M351.1 276.6h0M360.7 275.7h0M376.8 275.5h0M393.2 277.3h0M397.9 276.9h0M296.9 281.7h0M313.0 279.5h0M322.7 281.0h0M332.1 279.9h0M365.1 280.0h0M373.9 279.9h0M378.2 280.2h0M383.7 280.2h0M394.9 279.6h0M336.7 284.0h0M350.3 285.6h0M361.1 285.5h0M391.5 284.4h0M306.7 288.2h0M316.1 289.2h0M328.5 289.4h0M332.5 290.6h0M336.6 289.3h0M342.5 289.3h0M360.1 290.9h0M405.5 289.6h0M300.0 295.2h0M308.7 293.2h0M350.6 294.1h0M356.2 295.1h0M366.4 293.9h0M386.7 294.2h0M403.5 295.2h0M295.5 299.6h0M333.5 299.9h0M342.3 299.2h0M354.4 300.2h0M374.2 298.6h0M396.0 297.7h0M399.9 298.8h0M309.7 302.8h0M346.0 303.7h0M361.8 304.2h0M388.6 304.1h0M393.6 303.0h0M397.5 305.0h0M297.6 308.6h0M308.0 308.4h0M316.7 306.7h0M337.2 307.8h0M347.9 306.5h0M357.8 308.3h0M374.5 309.5h0M381.2 306.8h0M389.5 307.3h0M310.6 311.5h0M336.2 312.6h0M356.1 312.3h0M377.1 312.4h0M383.1 311.7h0M393.1 313.7h0M401.5 311.9h0" stroke="rgb(125,35,115)" stroke-width="1.50" stroke-linecap="round"/>
</g></g>
<g filter="url(#bl1)" fill="rgb(252,244,247)">
<path d="M364,76.8 C370,77 374.2,82 374,89 C373.8,96 369,99.6 363.5,99.5 C358,99.3 354,95 354.2,88 C354.4,81 358.5,76.6 364,76.8 Z"/>
<path d="M297.5,159 L312,158.5 Q322,157 326,160 Q329,165 328,170 Q326,176 318,176 L306,175 Q300,173.5 297.5,173 Z"/>
<path d="M336,268 C337,262 346,260 352,262 C358,265 363,272 361,279 C359,285 349,285 343,281 C338,278 335,273 336,268 Z"/>
</g><g fill="rgb(205,130,180)" filter="url(#bl1)"><circle cx="363" cy="82.5" r="0.9"/><circle cx="360" cy="92" r="1"/><circle cx="316" cy="167" r="0.8"/><circle cx="307" cy="170" r="0.8"/>
</g>
<g clip-path="url(#cp01)"><g filter="url(#soft)">
<rect x="406.8" y="26" width="106.5" height="93.3" fill="rgb(222,162,208)"/>
<path d="M412.1,124.3V46.4A6.4,6.4 0 0 1 424.9,46.4V124.3" fill="none" stroke="rgb(204,122,184)" stroke-width="6.8"/>
<path d="M418.5,48.3V124.3" stroke="rgb(242,228,226)" stroke-width="6.0" stroke-linecap="round"/>
<path d="M433.4,124.3V50.1A6.2,6.2 0 0 1 445.6,50.1V124.3" fill="none" stroke="rgb(204,122,184)" stroke-width="6.3"/>
<path d="M439.5,51.8V124.3" stroke="rgb(242,228,226)" stroke-width="6.0" stroke-linecap="round"/>
<path d="M452.9,124.3V47.6A5.7,5.7 0 0 1 464.1,47.6V124.3" fill="none" stroke="rgb(204,122,184)" stroke-width="5.3"/>
<path d="M458.5,48.8V124.3" stroke="rgb(242,228,226)" stroke-width="6.0" stroke-linecap="round"/>
<path d="M470.9,124.3V50.6A5.7,5.7 0 0 1 482.1,50.6V124.3" fill="none" stroke="rgb(204,122,184)" stroke-width="5.3"/>
<path d="M476.5,51.8V124.3" stroke="rgb(242,228,226)" stroke-width="6.0" stroke-linecap="round"/>
<path d="M488.6,124.3V52.4A5.4,5.4 0 0 1 499.4,52.4V124.3" fill="none" stroke="rgb(204,122,184)" stroke-width="4.8"/>
<path d="M494.0,53.3V124.3" stroke="rgb(242,228,226)" stroke-width="6.0" stroke-linecap="round"/>
<path d="M505.4,124.3V53.1A5.2,5.2 0 0 1 515.6,53.1V124.3" fill="none" stroke="rgb(204,122,184)" stroke-width="4.3"/>
<path d="M510.5,53.8V124.3" stroke="rgb(242,228,226)" stroke-width="6.0" stroke-linecap="round"/>
<path d="M411.6 45.8h0M423.2 46.7h0M410.0 49.0h0M425.6 48.0h0M409.9 49.9h0M424.5 50.7h0M411.4 51.9h0M425.1 53.0h0M411.2 54.9h0M425.2 55.3h0M410.3 57.5h0M427.2 57.7h0M412.7 57.8h0M425.7 57.9h0M411.8 61.7h0M426.1 61.5h0M411.2 62.6h0M422.6 63.7h0M410.1 65.3h0M427.2 64.5h0M410.5 67.8h0M426.5 66.5h0M410.4 68.5h0M424.0 69.6h0M411.8 71.8h0M424.2 71.3h0M409.8 74.1h0M423.0 74.3h0M410.4 75.1h0M422.9 76.0h0M413.7 78.9h0M427.0 77.6h0M412.4 81.1h0M423.2 80.5h0M411.9 83.3h0M423.3 81.9h0M413.3 84.3h0M423.2 83.6h0M413.9 86.3h0M423.8 87.3h0M413.3 89.4h0M422.9 88.5h0M410.2 90.8h0M426.9 91.4h0M412.2 93.1h0M425.6 92.3h0M412.8 94.3h0M427.1 94.8h0M411.1 97.1h0M426.8 96.0h0M413.7 99.0h0M425.4 97.8h0M410.0 101.4h0M426.6 100.1h0M413.9 103.2h0M425.1 102.7h0M411.7 104.4h0M424.9 106.1h0M412.0 108.1h0M425.1 107.4h0M410.4 111.0h0M425.5 109.8h0M414.3 111.7h0M424.8 111.3h0M411.1 115.0h0M423.8 115.2h0M412.5 115.9h0M426.4 117.1h0M411.4 119.5h0M423.3 119.7h0M412.1 121.2h0M423.7 121.1h0M435.4 50.6h0M445.5 50.4h0M432.1 52.7h0M446.2 52.3h0M435.1 53.9h0M443.8 54.8h0M434.7 54.7h0M443.6 56.6h0M434.8 58.7h0M444.2 58.9h0M434.3 59.9h0M444.8 60.5h0M431.7 61.6h0M444.8 62.7h0M432.8 64.7h0M444.2 63.6h0M432.7 67.6h0M445.0 65.8h0M434.1 68.8h0M445.2 69.1h0M431.7 71.7h0M444.9 70.4h0M434.1 73.1h0M447.2 74.3h0M435.3 76.0h0M446.6 75.3h0M432.5 78.0h0M443.6 77.2h0M433.6 79.1h0M447.5 80.5h0M435.2 81.3h0M445.5 80.9h0M433.7 84.0h0M446.3 85.0h0M433.1 86.8h0M443.8 85.0h0M433.2 88.6h0M447.4 87.3h0M432.1 89.3h0M444.1 90.6h0M433.6 91.7h0M445.7 91.3h0M433.7 93.7h0M445.6 94.0h0M434.4 95.5h0M446.6 96.1h0M434.0 97.7h0M445.6 97.7h0M434.9 99.6h0M446.4 101.3h0M432.0 102.9h0M444.2 102.0h0M434.4 104.5h0M446.8 105.2h0M432.4 106.0h0M444.1 106.9h0M431.4 109.1h0M447.4 108.7h0M431.7 111.1h0M445.0 111.5h0M434.3 114.3h0M446.2 113.7h0M432.9 114.4h0M443.5 114.8h0M432.2 116.6h0M444.3 117.4h0M433.7 120.0h0M446.4 118.7h0M435.1 121.3h0M444.1 121.1h0M453.1 46.7h0M463.5 47.1h0M453.5 50.3h0M464.0 48.9h0M452.9 51.2h0M464.9 50.6h0M451.7 53.0h0M462.9 52.4h0M453.0 54.7h0M465.2 56.2h0M452.5 57.6h0M464.7 57.0h0M452.9 60.3h0M462.6 59.9h0M451.6 62.4h0M464.0 62.6h0M452.8 63.8h0M464.9 63.7h0M453.5 66.1h0M464.4 67.2h0M452.5 68.5h0M465.6 68.6h0M453.7 71.8h0M463.9 70.1h0M451.7 74.0h0M463.2 72.6h0M453.9 75.4h0M463.7 75.0h0M451.5 77.6h0M464.1 77.0h0M454.3 78.7h0M463.6 79.0h0M454.3 82.7h0M465.3 82.8h0M454.1 84.0h0M463.6 84.6h0M452.3 86.6h0M465.5 86.3h0M452.5 88.4h0M463.4 87.3h0M451.3 89.0h0M464.3 90.7h0M453.1 92.0h0M465.7 91.9h0M452.0 94.8h0M462.5 94.5h0M452.3 95.9h0M463.3 96.5h0M453.8 98.9h0M463.4 98.9h0M452.4 100.1h0M463.3 101.1h0M452.4 102.4h0M465.2 101.6h0M453.2 103.5h0M464.3 104.1h0M451.5 106.7h0M463.9 106.6h0M451.7 109.3h0M464.2 107.7h0M451.4 109.6h0M463.7 110.7h0M453.6 112.1h0M465.3 112.1h0M453.5 113.6h0M464.6 113.8h0M452.6 115.7h0M463.4 116.2h0M452.5 118.6h0M463.3 118.5h0M451.6 120.2h0M464.1 121.8h0M469.5 49.7h0M483.1 50.7h0M472.4 53.3h0M481.2 52.8h0M469.7 55.0h0M482.0 54.5h0M471.0 57.8h0M483.4 57.1h0M470.5 59.2h0M480.9 59.4h0M471.5 60.8h0M482.6 62.2h0M469.4 64.6h0M480.9 64.8h0M472.1 67.3h0M483.8 65.6h0M471.5 68.7h0M483.5 69.7h0M471.1 70.6h0M482.4 71.4h0M472.0 73.4h0M482.5 71.9h0M469.5 75.6h0M481.0 74.1h0M469.3 77.1h0M480.6 76.4h0M469.8 79.1h0M482.0 79.3h0M472.1 81.1h0M481.6 81.4h0M470.2 82.9h0M483.1 82.9h0M472.0 85.4h0M482.9 85.2h0M470.0 86.5h0M481.4 87.3h0M471.9 89.3h0M481.7 89.7h0M471.6 92.4h0M480.9 91.9h0M470.9 93.6h0M483.4 94.3h0M471.2 96.3h0M481.9 95.6h0M470.5 97.0h0M483.1 96.5h0M470.3 99.6h0M481.3 100.2h0M469.4 101.1h0M481.0 101.6h0M470.3 103.2h0M483.0 103.7h0M471.9 105.8h0M480.6 105.2h0M469.3 107.6h0M481.3 106.5h0M472.1 109.0h0M482.6 109.2h0M471.7 111.2h0M482.4 111.4h0M470.6 114.1h0M483.1 114.3h0M470.8 116.9h0M483.0 115.5h0M472.4 118.3h0M481.8 118.1h0M470.8 120.8h0M482.5 121.0h0M487.4 52.8h0M500.3 51.4h0M489.1 53.8h0M498.4 54.1h0M489.2 57.2h0M498.7 56.7h0M489.2 58.3h0M500.1 58.5h0M487.6 61.5h0M500.8 60.3h0M489.1 64.3h0M499.4 62.7h0M488.5 66.4h0M500.3 66.0h0M488.1 68.1h0M499.9 68.4h0M488.9 69.2h0M498.9 69.0h0M489.9 71.4h0M498.7 72.1h0M487.2 74.6h0M500.1 74.9h0M489.6 75.9h0M498.2 75.3h0M490.0 78.9h0M500.5 78.4h0M489.8 81.3h0M498.6 80.7h0M489.0 82.6h0M500.0 81.9h0M489.4 84.4h0M500.5 84.0h0M489.5 86.2h0M498.8 87.4h0M488.2 89.5h0M500.0 88.6h0M488.6 91.9h0M498.7 91.2h0M489.0 92.7h0M499.8 93.7h0M489.7 95.5h0M499.3 94.8h0M488.1 96.3h0M500.5 96.7h0M487.4 99.5h0M498.4 98.4h0M487.8 101.1h0M498.2 100.7h0M487.6 102.8h0M500.6 103.4h0M489.6 106.0h0M499.2 105.2h0M489.4 107.4h0M500.1 108.0h0M488.2 109.3h0M498.1 110.3h0M488.7 110.6h0M500.2 110.5h0M488.9 113.9h0M499.7 114.0h0M487.8 116.4h0M498.4 115.1h0M488.0 117.8h0M500.5 118.3h0M488.5 119.2h0M499.0 118.9h0M505.5 52.7h0M516.2 53.2h0M504.5 55.0h0M516.2 55.1h0M504.5 57.6h0M515.7 57.6h0M504.8 59.4h0M516.6 59.2h0M505.1 61.7h0M515.2 61.2h0M506.5 62.8h0M516.1 63.5h0M505.0 65.1h0M515.3 64.6h0M506.1 66.7h0M515.6 66.4h0M506.3 68.8h0M516.2 69.2h0M505.8 71.2h0M516.3 71.1h0M505.5 74.4h0M515.3 73.5h0M504.3 75.2h0M515.9 75.9h0M505.4 77.0h0M516.0 78.0h0M504.3 81.1h0M515.0 80.2h0M504.3 82.1h0M515.6 83.1h0M504.2 84.6h0M516.3 84.1h0M505.8 85.8h0M516.0 85.8h0M504.8 87.0h0M515.0 87.0h0M505.8 89.9h0M515.9 90.5h0M504.3 91.1h0M516.1 91.1h0M505.2 93.3h0M515.4 94.0h0M505.8 95.3h0M516.6 94.6h0M504.7 98.3h0M516.6 98.7h0M505.6 99.6h0M515.7 100.9h0M505.9 102.3h0M515.1 103.2h0M506.3 104.3h0M515.7 104.0h0M505.8 107.0h0M515.0 106.7h0M506.1 109.5h0M515.6 108.3h0M505.9 111.1h0M516.7 111.0h0M505.8 113.8h0M514.9 113.5h0M505.8 115.5h0M516.5 115.5h0M504.7 117.7h0M514.8 116.8h0M504.7 118.9h0M516.7 119.6h0M505.8 120.6h0M515.0 120.8h0" stroke="rgb(238,172,222)" stroke-width="2.40" stroke-linecap="round"/>
<path d="M429.2,48.0V124.3" stroke="rgb(248,232,244)" stroke-width="1.3"/>
<path d="M449.5,48.0V124.3" stroke="rgb(248,232,244)" stroke-width="1.3"/>
<path d="M467.5,49.0V124.3" stroke="rgb(248,232,244)" stroke-width="1.3"/>
<path d="M485.5,51.0V124.3" stroke="rgb(248,232,244)" stroke-width="1.3"/>
<path d="M502.5,52.0V124.3" stroke="rgb(248,232,244)" stroke-width="1.3"/>
<rect x="406.8" y="26" width="110" height="6" fill="rgb(240,222,232)"/><path d="M406.8,30.5 L460,31.5 L513.3,35 L513.3,38.5 L460,36.5 L406.8,36 Z" fill="rgb(212,64,128)"/>
<path d="M409.3 46.9h0M427.3 46.5h0M409.4 48.2h0M410.6 48.6h0M427.5 47.8h0M426.5 47.8h0M409.5 50.7h0M414.4 50.5h0M426.9 50.9h0M424.0 50.1h0M409.4 52.2h0M427.2 52.4h0M409.6 54.3h0M427.5 54.1h0M426.8 53.6h0M410.1 56.6h0M427.1 56.4h0M409.4 58.2h0M410.4 59.0h0M427.8 58.6h0M409.3 60.5h0M414.3 60.4h0M426.9 60.7h0M409.8 62.8h0M427.0 63.5h0M425.7 63.0h0M409.3 65.3h0M427.5 65.2h0M426.7 65.3h0M409.6 66.8h0M411.3 67.2h0M427.3 66.9h0M409.6 69.1h0M414.3 69.7h0M427.1 69.5h0M425.0 69.9h0M410.2 71.4h0M427.6 71.2h0M426.5 70.9h0M410.0 74.0h0M426.9 73.6h0M409.6 75.4h0M427.0 75.5h0M409.4 78.1h0M427.3 78.2h0M409.9 80.1h0M427.6 80.1h0M425.0 79.6h0M409.4 81.9h0M427.6 81.9h0M423.7 83.1h0M410.1 84.0h0M427.1 84.8h0M410.2 86.9h0M410.8 87.2h0M427.6 87.1h0M425.4 86.5h0M409.6 88.9h0M426.8 89.2h0M423.0 88.6h0M410.1 90.8h0M426.9 91.1h0M409.9 92.5h0M427.3 92.4h0M423.0 92.6h0M409.6 94.3h0M427.3 93.9h0M409.6 95.8h0M412.9 96.0h0M427.3 96.5h0M426.0 95.7h0M410.0 98.5h0M412.6 98.9h0M427.2 98.9h0M422.3 99.1h0M409.6 100.7h0M427.5 100.7h0M424.4 100.3h0M409.8 103.4h0M412.7 103.9h0M427.8 102.9h0M426.7 103.2h0M409.9 105.9h0M427.6 104.8h0M409.6 107.6h0M413.1 107.7h0M426.9 107.2h0M423.1 107.8h0M409.5 109.9h0M411.9 110.7h0M427.6 109.5h0M409.4 112.6h0M412.7 112.2h0M427.2 111.7h0M424.0 111.6h0M409.3 114.5h0M426.8 114.4h0M423.6 115.2h0M409.8 116.6h0M427.0 116.7h0M409.2 119.5h0M410.3 118.4h0M427.6 119.0h0M425.2 119.6h0M409.8 120.5h0M427.6 121.4h0M409.7 46.4h0M410.2 43.4h0M411.8 40.7h0M414.1 38.8h0M417.0 37.7h0M420.0 37.7h0M422.9 38.8h0M425.2 40.7h0M426.8 43.4h0M427.3 46.4h0M431.5 49.7h0M433.2 50.3h0M448.2 49.6h0M446.3 49.6h0M431.5 52.6h0M433.6 51.7h0M448.1 52.3h0M447.0 52.3h0M431.2 54.0h0M434.6 54.6h0M447.7 54.3h0M445.3 53.2h0M431.0 55.5h0M432.1 56.2h0M447.5 55.8h0M431.2 58.3h0M448.2 57.8h0M443.4 58.2h0M431.5 59.8h0M432.8 60.7h0M448.3 59.8h0M431.2 61.9h0M435.0 62.4h0M447.7 62.2h0M431.2 65.0h0M432.7 65.0h0M447.7 64.6h0M445.8 63.8h0M431.1 66.4h0M447.7 66.1h0M444.6 67.1h0M431.3 69.2h0M434.4 68.1h0M448.1 69.3h0M431.6 70.7h0M447.4 71.5h0M446.3 70.7h0M431.2 73.9h0M435.2 72.8h0M447.9 73.1h0M431.4 76.2h0M432.1 76.4h0M447.4 75.3h0M431.3 78.1h0M433.3 77.9h0M448.1 78.6h0M444.8 78.2h0M431.6 79.6h0M447.5 80.2h0M446.9 80.5h0M430.9 81.2h0M447.9 82.0h0M444.0 81.1h0M430.9 84.5h0M447.4 84.1h0M431.0 85.7h0M434.5 85.4h0M448.0 86.3h0M443.6 86.8h0M430.9 87.5h0M434.9 88.0h0M448.1 87.7h0M443.9 87.9h0M430.7 90.3h0M447.6 89.5h0M446.8 90.1h0M431.5 92.7h0M435.6 92.4h0M448.2 91.7h0M443.9 92.2h0M431.6 94.3h0M447.7 94.2h0M431.1 96.9h0M435.5 95.6h0M447.4 96.0h0M431.0 98.6h0M434.9 98.6h0M447.9 98.4h0M445.3 98.4h0M431.5 100.3h0M435.0 101.2h0M447.8 100.4h0M444.4 99.9h0M430.7 102.8h0M434.7 102.1h0M448.3 103.1h0M431.4 104.8h0M432.8 105.3h0M447.7 103.9h0M446.1 105.1h0M431.1 106.5h0M448.3 107.3h0M431.0 109.4h0M432.7 108.3h0M448.3 109.3h0M431.2 111.0h0M447.7 111.9h0M443.5 111.3h0M431.2 113.9h0M447.8 113.6h0M443.9 114.1h0M431.4 115.6h0M435.5 114.9h0M447.6 115.2h0M431.4 117.7h0M447.4 117.0h0M431.5 119.0h0M432.5 119.2h0M447.4 118.7h0M444.5 119.1h0M431.0 120.8h0M433.5 120.9h0M447.9 121.2h0M446.8 121.1h0M431.2 50.1h0M431.7 47.3h0M433.1 44.8h0M435.4 43.0h0M438.1 42.0h0M440.9 42.0h0M443.6 43.0h0M445.9 44.8h0M447.3 47.3h0M447.8 50.1h0M450.8 47.9h0M453.4 47.5h0M465.9 48.2h0M464.6 47.8h0M451.6 49.8h0M465.7 49.6h0M464.7 50.4h0M450.9 51.7h0M454.4 51.2h0M465.4 51.8h0M451.6 53.7h0M454.0 53.6h0M465.6 54.0h0M463.8 53.7h0M451.6 55.1h0M453.3 56.1h0M465.4 55.4h0M450.9 57.9h0M465.9 57.3h0M451.2 60.0h0M452.7 60.7h0M465.7 60.2h0M463.6 59.9h0M451.7 61.9h0M465.3 62.6h0M450.7 63.9h0M466.0 63.9h0M464.3 63.8h0M450.9 66.1h0M466.2 66.5h0M463.7 66.6h0M451.2 68.2h0M451.8 68.4h0M465.3 69.1h0M462.6 68.0h0M450.7 71.3h0M465.5 71.4h0M451.6 73.6h0M452.4 73.3h0M465.6 73.4h0M465.3 73.3h0M451.4 74.8h0M452.3 75.7h0M465.9 75.4h0M464.7 75.8h0M451.6 77.0h0M465.8 77.7h0M451.1 79.1h0M453.4 79.3h0M466.1 79.3h0M463.0 79.7h0M450.8 81.7h0M466.3 81.5h0M451.3 83.5h0M466.2 83.8h0M463.3 83.7h0M451.2 86.2h0M465.5 85.4h0M451.7 88.8h0M465.4 88.3h0M451.2 90.1h0M453.8 90.5h0M465.4 90.3h0M451.0 92.2h0M452.4 92.5h0M465.4 92.1h0M451.3 93.5h0M452.9 93.6h0M466.1 94.1h0M451.6 95.9h0M454.6 96.1h0M465.6 96.5h0M462.7 95.7h0M451.0 98.3h0M466.2 98.8h0M464.3 98.5h0M451.6 101.1h0M465.5 100.1h0M451.3 102.8h0M451.8 102.8h0M465.4 102.4h0M463.1 102.3h0M451.1 104.4h0M465.5 104.0h0M462.5 104.1h0M451.1 106.6h0M465.9 106.4h0M464.8 106.0h0M451.6 107.9h0M452.5 108.7h0M465.8 108.5h0M451.0 110.9h0M454.7 110.9h0M465.5 110.4h0M463.5 110.6h0M450.9 112.8h0M453.0 112.4h0M465.8 112.6h0M465.2 112.7h0M450.8 114.2h0M465.5 114.8h0M464.9 113.9h0M451.7 116.2h0M452.6 117.2h0M466.0 116.1h0M450.8 118.7h0M465.4 118.8h0M450.9 120.8h0M465.6 121.2h0M463.5 121.1h0M451.2 47.6h0M451.6 45.2h0M452.9 43.0h0M454.9 41.3h0M457.2 40.5h0M459.8 40.5h0M462.1 41.3h0M464.1 43.0h0M465.4 45.2h0M465.8 47.6h0M469.5 50.1h0M483.9 51.0h0M469.4 52.5h0M483.7 53.4h0M480.5 53.5h0M469.2 54.9h0M483.4 54.9h0M469.4 57.0h0M470.4 57.1h0M483.4 57.0h0M469.2 59.8h0M483.7 59.4h0M469.3 61.7h0M471.9 61.3h0M483.7 62.2h0M468.8 63.5h0M471.9 64.2h0M483.4 63.5h0M482.4 64.9h0M468.8 66.3h0M471.0 66.8h0M484.2 66.6h0M469.3 68.7h0M471.4 69.3h0M483.4 68.4h0M468.8 70.7h0M470.8 70.4h0M483.9 71.1h0M481.2 70.3h0M468.9 72.6h0M471.7 72.2h0M484.0 73.3h0M481.9 72.8h0M469.6 74.4h0M470.0 74.3h0M484.1 75.2h0M468.9 76.5h0M484.1 76.4h0M469.1 79.8h0M483.4 79.7h0M468.8 82.0h0M483.4 81.7h0M469.1 83.3h0M484.2 83.2h0M469.0 86.1h0M470.8 84.9h0M484.2 85.9h0M480.8 86.2h0M468.8 88.1h0M483.4 87.6h0M480.8 87.4h0M469.1 89.7h0M483.5 89.5h0M482.7 89.5h0M469.6 91.9h0M483.6 91.7h0M481.7 91.2h0M468.9 93.7h0M483.5 93.5h0M468.9 95.2h0M471.5 95.4h0M483.6 95.8h0M482.8 95.2h0M469.5 97.5h0M483.9 96.8h0M468.8 99.9h0M483.7 99.2h0M481.9 100.2h0M469.4 101.7h0M483.3 102.5h0M481.5 102.0h0M468.9 103.6h0M472.3 104.4h0M484.0 103.6h0M480.5 104.3h0M468.9 105.7h0M470.5 106.1h0M483.6 105.4h0M469.4 107.7h0M471.8 106.8h0M483.8 108.0h0M469.3 109.4h0M484.3 109.5h0M481.4 109.7h0M468.7 111.4h0M470.1 111.9h0M483.9 111.9h0M469.4 114.0h0M472.2 114.0h0M483.3 114.5h0M469.0 116.0h0M484.3 115.7h0M482.4 116.0h0M469.5 118.4h0M483.5 118.9h0M482.5 118.6h0M469.4 121.0h0M483.7 120.7h0M481.9 120.1h0M469.2 50.6h0M469.6 48.2h0M470.9 46.0h0M472.9 44.3h0M475.2 43.5h0M477.8 43.5h0M480.1 44.3h0M482.1 46.0h0M483.4 48.2h0M483.8 50.6h0M487.4 52.4h0M501.2 52.0h0M487.5 53.9h0M501.0 54.5h0M498.0 54.4h0M487.5 56.7h0M501.2 56.7h0M499.4 56.4h0M487.6 58.4h0M500.4 59.2h0M487.1 60.9h0M500.8 60.7h0M487.6 63.1h0M500.4 63.5h0M499.5 63.2h0M487.3 65.5h0M489.4 65.7h0M501.1 66.2h0M487.1 68.0h0M500.7 67.8h0M498.7 67.9h0M487.1 70.5h0M501.0 69.3h0M499.1 69.1h0M487.4 72.4h0M500.8 71.3h0M486.9 74.8h0M500.8 74.3h0M487.7 76.5h0M488.4 76.7h0M501.1 75.5h0M486.7 77.8h0M501.1 78.0h0M487.2 81.2h0M488.1 80.9h0M500.8 80.9h0M498.9 80.3h0M487.0 82.9h0M489.5 82.3h0M501.0 82.6h0M498.1 81.8h0M486.7 85.0h0M500.4 84.9h0M499.9 84.9h0M487.6 86.4h0M500.6 86.6h0M500.0 86.5h0M487.2 89.0h0M488.6 88.8h0M500.3 89.3h0M499.1 88.4h0M486.9 90.9h0M501.1 90.7h0M487.6 93.1h0M489.9 93.1h0M500.9 92.4h0M487.3 94.5h0M500.6 94.6h0M497.9 95.2h0M487.3 97.1h0M489.3 96.4h0M501.3 97.2h0M486.9 99.3h0M490.1 98.8h0M501.3 99.3h0M500.2 99.1h0M486.7 101.0h0M500.5 100.6h0M500.0 100.9h0M487.6 102.8h0M500.8 102.9h0M499.5 103.4h0M487.0 105.8h0M489.9 105.9h0M501.2 105.8h0M487.2 107.5h0M501.1 107.0h0M499.9 107.4h0M487.6 109.0h0M489.1 109.2h0M500.6 109.3h0M487.5 111.7h0M501.0 111.0h0M487.1 113.3h0M489.0 114.1h0M500.6 113.1h0M487.3 115.4h0M488.9 115.3h0M500.8 115.3h0M487.1 117.6h0M500.3 117.7h0M499.0 117.7h0M487.4 119.6h0M500.7 119.2h0M499.4 120.0h0M487.2 52.4h0M487.6 50.1h0M488.8 48.0h0M490.6 46.5h0M492.8 45.7h0M495.2 45.7h0M497.4 46.5h0M499.2 48.0h0M500.4 50.1h0M500.8 52.4h0M504.5 52.7h0M505.2 53.4h0M517.3 53.4h0M516.0 53.7h0M504.6 55.1h0M504.7 55.4h0M517.3 54.7h0M503.7 56.6h0M516.7 56.5h0M514.8 56.6h0M503.9 58.7h0M505.2 58.7h0M516.6 59.0h0M504.3 60.2h0M506.4 60.4h0M516.6 60.4h0M514.9 60.0h0M504.1 63.3h0M505.9 63.8h0M516.6 63.0h0M515.8 62.6h0M504.7 65.4h0M516.6 64.7h0M504.0 66.4h0M516.7 67.6h0M516.2 67.1h0M504.6 69.5h0M517.3 69.5h0M514.6 69.8h0M503.9 71.3h0M516.4 71.9h0M504.3 74.0h0M505.8 74.1h0M516.5 73.3h0M503.8 75.3h0M516.9 75.5h0M515.5 76.2h0M504.4 77.6h0M516.7 78.1h0M503.8 79.8h0M505.0 79.7h0M516.6 80.0h0M504.1 82.7h0M516.4 82.3h0M516.1 81.6h0M504.7 84.1h0M516.4 83.7h0M515.7 83.2h0M504.7 85.9h0M517.1 86.3h0M515.7 86.0h0M504.6 87.5h0M516.5 87.7h0M516.1 88.2h0M504.6 90.5h0M506.2 89.6h0M517.1 90.2h0M504.4 91.5h0M506.0 91.5h0M516.9 91.8h0M514.9 92.2h0M504.3 93.9h0M506.3 93.4h0M517.0 94.0h0M504.4 95.2h0M517.2 95.6h0M515.4 95.1h0M504.4 97.8h0M506.1 98.5h0M516.7 98.0h0M503.9 100.4h0M506.3 100.7h0M516.6 99.9h0M503.7 102.3h0M517.0 103.0h0M504.7 105.0h0M517.1 104.3h0M504.1 106.9h0M505.6 107.2h0M516.5 106.3h0M514.7 106.8h0M504.1 109.3h0M504.9 109.4h0M516.9 108.9h0M515.8 109.1h0M504.2 111.6h0M505.0 110.6h0M516.6 110.9h0M503.7 112.9h0M506.6 112.9h0M516.7 113.1h0M504.5 115.3h0M505.6 114.6h0M516.9 114.9h0M515.8 115.7h0M503.7 117.7h0M516.6 117.6h0M516.0 116.8h0M504.0 119.0h0M505.9 119.0h0M517.3 118.9h0M504.0 120.5h0M516.6 121.2h0M515.4 120.3h0M504.2 53.1h0M504.6 51.0h0M505.7 49.1h0M507.4 47.7h0M509.4 46.9h0M511.6 46.9h0M513.6 47.7h0M515.3 49.1h0M516.4 51.0h0M516.8 53.1h0" stroke="rgb(95,25,100)" stroke-width="1.60" stroke-linecap="round"/>
<path d="M418.2 30.4h0M441.5 34.6h0M483.6 34.5h0M510.2 26.8h0M477.0 38.4h0M503.6 34.8h0M436.6 36.9h0M446.7 27.8h0M474.9 31.0h0M446.1 42.6h0M418.6 28.4h0M486.7 31.8h0M489.4 33.4h0M423.0 28.7h0M438.6 29.6h0M416.2 30.4h0M467.8 39.7h0M434.6 35.6h0M437.8 26.4h0M489.0 27.2h0M490.5 38.8h0M440.2 41.4h0M503.2 34.0h0M501.0 29.3h0M456.7 34.3h0" stroke="rgb(105,30,110)" stroke-width="1.50" stroke-linecap="round"/>
</g></g>
<g clip-path="url(#cp11)"><g filter="url(#soft)">
<rect x="406.8" y="122.2" width="106.5" height="93.0" fill="rgb(178,100,168)"/>
<path d="M442.3 187.8h0M481.8 151.9h0M486.4 132.2h0M419.5 165.1h0M449.0 171.5h0M411.9 175.1h0M504.0 173.7h0M408.5 167.4h0M410.2 173.1h0M491.8 197.4h0M459.2 179.1h0M474.4 192.6h0M467.0 213.0h0M489.9 175.4h0M491.8 202.1h0M416.1 208.6h0M471.8 214.6h0M486.9 195.4h0M452.7 153.7h0M454.9 205.0h0M485.5 185.5h0M414.6 185.3h0M443.0 175.1h0M480.6 199.9h0M452.9 132.0h0M468.0 130.7h0M495.0 131.8h0M430.8 166.5h0M434.4 149.1h0M478.6 158.0h0M455.6 186.8h0M488.8 179.0h0M444.6 205.0h0M499.2 143.2h0M489.1 147.7h0M426.1 132.4h0M470.9 202.0h0M489.8 176.1h0M508.5 158.0h0M440.4 149.8h0M429.0 155.9h0M452.0 153.2h0M506.5 148.7h0M444.6 141.9h0M502.5 167.6h0M495.6 162.1h0M454.1 193.4h0M485.6 162.5h0M454.4 164.1h0M428.7 162.5h0M493.5 138.1h0M425.4 207.8h0M484.0 140.5h0M487.4 140.4h0M458.9 181.6h0M486.6 157.1h0M427.1 213.9h0M492.0 160.8h0M434.0 139.7h0M455.5 130.8h0M492.4 164.2h0M498.1 160.3h0M507.5 201.3h0M453.0 202.3h0M438.8 215.2h0M415.8 184.9h0M448.3 170.3h0M508.1 153.6h0M475.7 157.7h0M421.8 151.4h0M466.9 141.1h0M423.4 189.3h0M488.0 135.4h0M492.3 203.8h0M477.2 161.8h0M451.0 143.6h0M425.2 209.8h0M509.6 193.3h0M493.1 145.6h0M500.4 139.5h0M424.1 172.5h0M439.4 183.4h0M503.6 152.7h0M441.0 196.8h0M442.1 205.7h0M410.4 204.3h0M504.1 134.2h0M447.0 181.1h0M462.7 143.6h0M408.4 206.5h0M416.6 214.2h0M418.8 170.6h0M511.5 203.0h0M464.0 141.6h0M471.0 184.3h0M440.0 170.1h0M503.0 141.1h0M476.7 161.3h0M472.1 191.1h0M457.7 193.8h0M497.5 146.9h0M430.2 141.2h0M507.2 149.4h0M415.6 138.3h0M449.8 205.6h0M418.0 149.4h0M426.5 186.2h0M441.8 213.0h0M478.0 174.4h0M468.3 205.3h0M487.7 141.4h0M451.7 186.4h0M468.5 209.6h0M410.4 207.2h0M447.8 134.3h0M427.9 145.7h0M422.0 133.1h0M491.4 144.0h0M441.1 178.8h0M458.3 159.4h0M473.8 199.6h0M468.3 168.6h0M429.7 183.0h0M464.9 140.2h0M436.5 195.5h0M505.2 158.9h0M501.9 151.9h0M492.7 171.6h0M465.3 186.6h0M477.9 159.3h0M462.1 135.6h0M445.7 184.8h0M509.5 140.9h0M431.0 169.1h0M418.6 177.0h0M438.3 204.4h0M439.5 167.3h0M511.6 137.3h0M499.1 173.1h0M449.1 210.2h0M513.1 146.8h0M496.3 149.1h0M408.6 192.5h0M444.5 181.3h0M423.0 203.3h0M462.7 198.2h0M445.4 149.8h0M507.7 175.3h0M446.7 138.7h0M424.4 184.1h0M472.6 201.9h0M486.8 143.1h0M507.1 182.0h0M498.2 153.9h0M508.9 210.9h0M438.4 206.8h0M510.3 206.2h0M456.6 141.8h0M506.7 130.2h0M433.6 177.4h0M440.0 208.7h0M472.1 211.7h0M413.1 165.1h0M422.1 200.1h0M488.2 198.8h0M508.1 150.8h0M490.5 185.1h0M448.4 146.6h0M495.7 136.2h0M509.4 153.7h0M501.9 140.7h0M485.6 210.5h0M423.0 167.9h0M478.4 194.8h0M407.9 140.2h0M439.9 138.9h0M473.7 170.2h0M477.1 155.6h0M420.1 193.3h0M455.2 136.2h0M511.1 207.6h0M443.2 153.3h0M512.0 162.6h0M501.7 139.8h0M456.5 179.9h0M500.1 189.0h0M491.4 194.7h0M430.7 139.0h0M513.0 181.5h0M470.6 161.0h0M499.4 186.7h0M495.9 212.1h0M451.7 184.4h0M498.9 154.0h0M483.9 153.6h0M433.6 173.4h0M451.5 201.3h0M511.5 137.3h0M417.6 198.7h0M432.7 172.3h0M469.8 186.8h0M417.9 196.6h0M482.3 177.9h0M496.0 162.1h0M462.1 208.8h0M447.5 181.3h0M469.7 197.7h0M508.4 179.1h0M419.3 195.1h0M445.2 187.4h0M503.1 166.1h0M448.7 193.5h0M443.8 197.2h0M497.6 178.9h0M462.5 210.1h0M493.4 183.6h0M489.6 187.1h0M409.5 178.4h0M409.4 210.6h0M417.3 208.5h0M492.2 192.2h0M497.3 151.7h0M494.0 159.4h0M510.5 151.3h0M454.3 134.3h0M455.6 214.4h0M434.8 197.7h0M429.1 195.7h0M465.1 157.6h0M449.5 159.8h0M493.6 202.0h0M498.0 158.6h0M472.4 193.1h0M495.9 149.5h0M495.1 138.8h0M483.7 184.6h0M440.1 172.5h0M426.6 162.7h0M435.0 190.3h0M444.1 198.7h0M502.2 194.4h0M509.0 157.6h0M418.7 179.7h0M503.6 189.7h0M466.5 194.5h0M464.1 164.0h0M480.9 147.1h0M416.4 181.0h0M500.2 164.6h0M434.8 191.1h0M463.5 163.9h0M504.9 139.0h0M508.6 199.4h0M501.3 155.2h0M467.5 137.2h0M513.2 167.8h0M411.1 176.8h0M477.9 153.5h0M459.5 201.0h0M511.5 151.1h0" stroke="rgb(205,120,185)" stroke-width="3.20" stroke-linecap="round"/>
<path d="M415.0,142.3V218.2" stroke="rgb(228,178,214)" stroke-width="2.5" stroke-linecap="round"/>
<path d="M428.0,146.5V218.2" stroke="rgb(228,178,214)" stroke-width="3" stroke-linecap="round"/>
<path d="M441.0,142.2V218.2" stroke="rgb(228,178,214)" stroke-width="2" stroke-linecap="round"/>
<path d="M452.0,140.1V218.2" stroke="rgb(228,178,214)" stroke-width="3.5" stroke-linecap="round"/>
<path d="M466.0,142.4V218.2" stroke="rgb(228,178,214)" stroke-width="2.5" stroke-linecap="round"/>
<path d="M478.0,140.2V218.2" stroke="rgb(228,178,214)" stroke-width="2" stroke-linecap="round"/>
<path d="M492.0,146.1V218.2" stroke="rgb(228,178,214)" stroke-width="3" stroke-linecap="round"/>
<path d="M505.0,148.4V218.2" stroke="rgb(228,178,214)" stroke-width="2.5" stroke-linecap="round"/>
<path d="M421.5,136.0V218.2" stroke="rgb(245,222,238)" stroke-width="0.9"/>
<path d="M447.0,136.0V218.2" stroke="rgb(245,222,238)" stroke-width="0.9"/>
<path d="M472.0,136.0V218.2" stroke="rgb(245,222,238)" stroke-width="0.9"/>
<path d="M499.0,136.0V218.2" stroke="rgb(245,222,238)" stroke-width="0.9"/>
<path d="M475,152 Q478.5,162 475,175 Q471.5,162 475,152Z" fill="rgb(250,245,248)"/>
<path d="M406.8,122 H513.3 V127 Q470,126 450,130 Q430,127 420,130 Q410,128 406.8,129 Z" fill="rgb(236,206,226)"/><path d="M406.8,128 Q420,130 430,127 Q450,130 470,125 L513.3,126 V131 Q470,130 450,134 Q430,131 406.8,133 Z" fill="rgb(212,84,145)"/><ellipse cx="415" cy="126" rx="7" ry="4" fill="rgb(250,244,247)"/><ellipse cx="467" cy="125" rx="6" ry="3.5" fill="rgb(250,244,247)"/>
<circle cx="414" cy="146" r="4.5" fill="rgb(150,60,130)"/><circle cx="487" cy="145" r="5" fill="rgb(140,50,125)"/><circle cx="487" cy="145" r="2.5" fill="rgb(90,25,95)"/>
<path d="M450.9 177.1h0M467.3 165.2h0M497.1 179.6h0M473.6 205.7h0M511.1 193.7h0M482.1 213.7h0M492.4 152.6h0M446.2 206.7h0M506.6 157.4h0M444.8 211.6h0M421.1 203.3h0M511.8 151.2h0M464.1 141.1h0M511.3 196.9h0M460.8 170.6h0M440.2 198.8h0M471.1 191.4h0M483.2 185.0h0M465.8 213.9h0M456.4 179.0h0M412.5 182.8h0M459.7 167.3h0M508.3 144.8h0M466.4 177.7h0M412.9 159.7h0M499.2 142.8h0M479.4 135.8h0M483.4 178.6h0M507.7 192.1h0M482.8 171.9h0M481.8 210.3h0M511.8 148.5h0M454.9 176.0h0M478.7 158.3h0M467.5 204.7h0M507.6 142.5h0M464.3 188.1h0M440.3 130.8h0M471.7 190.7h0M445.0 140.4h0M510.9 182.4h0M463.2 192.3h0M484.8 151.3h0M470.9 194.7h0M425.9 145.6h0M476.0 172.3h0M419.5 137.8h0M507.6 179.0h0M507.9 163.1h0M450.2 189.4h0M421.6 159.4h0M417.0 160.4h0M482.1 204.9h0M460.0 145.9h0M449.6 149.5h0M511.8 184.0h0M443.0 194.1h0M462.6 131.9h0M471.4 213.7h0M413.1 161.9h0M424.7 212.1h0M463.2 130.6h0M447.8 132.6h0M503.2 178.1h0M498.3 211.4h0M426.9 183.0h0M426.2 148.8h0M443.6 204.3h0M504.0 181.2h0M467.9 206.0h0M482.0 205.0h0M425.7 142.9h0M494.0 132.8h0M410.9 175.9h0M508.8 210.2h0M492.8 156.7h0M437.8 159.9h0M426.0 174.3h0M502.7 172.5h0M471.1 215.0h0M504.8 209.9h0M505.7 176.8h0M448.2 168.3h0M419.2 177.3h0M442.8 161.3h0M432.3 199.7h0M426.9 164.6h0M445.0 208.1h0M504.9 199.1h0M503.7 190.3h0M496.2 138.6h0M462.2 186.6h0M440.9 175.0h0M468.0 175.4h0M448.8 176.6h0M428.2 157.4h0M454.5 147.0h0M507.4 166.4h0M453.1 137.2h0M409.3 139.1h0M466.6 182.0h0M439.4 214.5h0M488.9 195.7h0M481.2 175.0h0M411.2 210.7h0M439.5 180.1h0M502.7 176.3h0M475.1 193.0h0M463.7 134.2h0M439.1 146.2h0M509.5 134.7h0M494.7 204.5h0M485.5 174.7h0M425.8 161.7h0M481.3 207.6h0M417.3 210.9h0M501.8 190.8h0M414.6 147.5h0M428.8 184.6h0M408.5 208.6h0M428.7 188.8h0M505.2 130.6h0M432.4 199.4h0M495.3 213.9h0M511.9 200.5h0M446.4 201.4h0M411.6 142.2h0M433.0 187.0h0M500.7 166.1h0M467.6 203.6h0M473.5 147.6h0M500.4 192.8h0M435.8 188.9h0M451.1 165.4h0M436.4 206.8h0M493.8 171.7h0M470.7 183.5h0M448.9 189.4h0M454.6 186.6h0M430.5 184.4h0M419.1 206.9h0M458.8 145.8h0M441.7 210.4h0M434.1 188.1h0M505.9 164.0h0M463.9 154.4h0M467.5 139.4h0M419.5 200.1h0M500.9 211.0h0M465.9 172.5h0M420.3 214.8h0M456.7 139.5h0M431.2 201.0h0M426.4 195.0h0M492.7 150.7h0M472.3 167.4h0M422.0 180.9h0M411.2 209.6h0M488.5 146.3h0M429.2 157.2h0M467.4 210.8h0M443.2 211.0h0M505.0 160.0h0M428.2 185.0h0M448.5 143.2h0M437.9 135.6h0M426.4 146.7h0M476.9 167.5h0M499.6 136.1h0M433.0 175.1h0M466.1 142.4h0M509.5 135.0h0M479.7 165.0h0M463.7 182.8h0M424.9 209.5h0M446.2 142.4h0M417.9 150.1h0M447.4 178.0h0M493.5 195.5h0M419.5 149.3h0M473.7 178.1h0M414.7 185.4h0M503.8 209.9h0M475.5 154.2h0M472.4 168.4h0M486.5 188.2h0M472.0 159.5h0M512.0 168.9h0M504.7 143.2h0M463.9 160.8h0M422.2 184.4h0M425.4 212.4h0M513.2 205.2h0M446.0 132.0h0M492.6 142.4h0M455.8 190.6h0M464.5 149.5h0M449.6 201.6h0M444.4 210.3h0M451.7 165.7h0M484.9 167.9h0M448.2 161.1h0M441.5 164.1h0M483.8 147.7h0M429.9 146.4h0M427.5 204.5h0M477.0 182.8h0M502.7 176.8h0M488.2 164.9h0M475.4 148.3h0M421.9 139.4h0M476.3 155.7h0M495.5 196.0h0M473.2 134.5h0M429.9 177.1h0M423.5 162.9h0M461.9 145.5h0M454.0 189.2h0M447.9 186.9h0M435.9 193.6h0M466.8 143.4h0M449.6 196.7h0M427.9 165.2h0M456.7 204.0h0M420.7 209.4h0M440.5 209.5h0M472.0 192.7h0M500.1 187.7h0M490.6 137.5h0M407.7 203.5h0M412.4 202.7h0M440.2 206.9h0M428.4 143.0h0M429.5 201.7h0M445.5 207.5h0M468.9 200.6h0M457.4 190.0h0M437.7 138.8h0M466.6 206.8h0M423.0 165.5h0M463.5 182.8h0M423.7 177.1h0M456.8 213.8h0M480.3 207.0h0M510.8 186.6h0M422.4 168.0h0M487.3 141.7h0M447.4 162.4h0M425.0 131.9h0M480.1 199.7h0M505.9 179.9h0M426.2 206.2h0M510.1 210.7h0M467.2 205.5h0M512.0 205.6h0M414.1 141.7h0M438.8 163.7h0M422.7 214.6h0M491.0 187.1h0M509.2 157.5h0M482.6 210.8h0M415.6 181.4h0M491.9 131.6h0M501.7 165.7h0M424.8 202.6h0M427.3 154.0h0M462.2 208.1h0M458.9 207.2h0M412.3 150.5h0M439.5 168.4h0M452.9 133.6h0M486.7 194.8h0M455.6 137.0h0M465.5 141.3h0M511.0 183.3h0M485.0 131.8h0M447.3 207.1h0M447.3 133.3h0M478.4 189.4h0M442.5 198.5h0M497.7 196.9h0M450.2 159.3h0M507.2 191.3h0M465.6 171.8h0M435.2 207.8h0M504.6 137.4h0M477.8 157.3h0M461.0 139.8h0M493.1 198.7h0M418.2 136.5h0M446.6 143.3h0M492.2 196.4h0M498.8 131.0h0M408.2 198.8h0M499.5 182.7h0M423.4 183.4h0M499.6 169.4h0M499.8 197.0h0M418.1 140.6h0M481.8 147.2h0M486.3 137.1h0M416.6 211.1h0M407.2 197.5h0M431.6 134.4h0M415.3 157.4h0M463.2 170.7h0M427.8 214.2h0M471.3 146.0h0M437.5 187.7h0M498.9 135.4h0M426.5 130.7h0M425.5 147.0h0M422.1 176.3h0M510.4 189.7h0M481.7 136.6h0M426.7 157.5h0M512.4 144.0h0M474.5 180.5h0M470.9 173.3h0M437.2 166.5h0M494.6 192.7h0M463.3 185.9h0M509.9 151.6h0M487.1 135.7h0M413.5 159.5h0M484.9 182.9h0M493.9 137.0h0M488.2 191.1h0M408.1 193.5h0M416.2 180.2h0M504.4 160.9h0M479.3 187.8h0M413.8 152.5h0M496.2 168.5h0M485.8 171.0h0M460.0 195.1h0M440.2 215.1h0M427.1 180.1h0M411.3 160.2h0M456.3 169.4h0M505.1 202.2h0M510.3 169.6h0M502.6 168.6h0M421.9 194.0h0M451.5 132.3h0M421.6 157.1h0M512.2 183.9h0M449.3 131.4h0M491.1 186.5h0M425.2 180.6h0M426.4 138.3h0M448.5 142.9h0M442.7 132.0h0M448.6 156.0h0M508.5 176.9h0M431.1 171.6h0M483.9 167.0h0M507.7 143.8h0M510.0 135.3h0M509.2 135.9h0M441.2 170.7h0M437.6 150.2h0M507.3 198.5h0M451.1 131.3h0M439.6 143.7h0M473.9 188.3h0M452.5 140.6h0M420.6 154.2h0M484.0 198.8h0M498.8 161.6h0M510.2 135.6h0M454.4 165.6h0M429.1 157.9h0M431.7 204.3h0M440.1 208.0h0M510.4 197.1h0M465.9 179.3h0M442.1 146.7h0M420.3 157.6h0M474.2 212.7h0M431.2 180.6h0M432.0 199.9h0M458.8 170.1h0M408.9 173.6h0M417.0 194.0h0M473.2 137.1h0M459.1 181.4h0M501.7 211.7h0M435.1 168.4h0M489.6 197.5h0M436.2 142.4h0M497.1 135.2h0M433.1 184.0h0M441.6 200.3h0M458.2 142.6h0M435.8 157.4h0M511.7 181.6h0M463.9 200.3h0M475.6 211.6h0M470.4 140.4h0M484.9 192.7h0M427.6 198.1h0M436.9 197.4h0M451.8 199.8h0M408.0 152.4h0M422.1 132.3h0M476.2 195.0h0M415.2 169.7h0M503.7 142.7h0M473.5 177.4h0M470.0 194.7h0M418.3 153.5h0M436.2 190.2h0M455.1 144.0h0M420.5 211.5h0M420.0 204.0h0M465.6 161.5h0M440.4 191.4h0M465.4 183.7h0M475.6 163.8h0M441.6 201.3h0M410.5 154.2h0M467.0 178.5h0M500.9 134.9h0M483.2 141.4h0M413.6 136.0h0M422.9 174.6h0M506.9 150.2h0M487.2 212.8h0M442.8 165.3h0M486.8 172.1h0M464.9 174.8h0M475.2 163.9h0M423.3 200.1h0M493.5 168.3h0M419.1 207.7h0M434.6 150.5h0M475.5 177.6h0M412.4 201.8h0M430.8 133.8h0M430.1 150.0h0M423.1 204.2h0M460.1 157.7h0M487.3 187.2h0M408.9 195.3h0M459.2 187.1h0M481.0 177.0h0M411.1 180.3h0M429.0 179.7h0M407.6 189.9h0M468.7 161.5h0M502.5 144.2h0M429.5 175.8h0M504.3 193.5h0M436.8 177.5h0M461.2 143.8h0M428.3 181.8h0M442.4 158.0h0M434.5 140.3h0M437.2 132.6h0M471.1 185.6h0M461.3 164.7h0M426.5 133.7h0M492.5 193.3h0M499.9 147.2h0M467.5 193.7h0M495.5 187.5h0M501.2 199.7h0M445.2 134.8h0M473.5 178.4h0M501.0 151.6h0M461.2 156.5h0M429.8 145.6h0M442.4 172.7h0M483.5 191.4h0M455.6 163.4h0M487.1 208.5h0M457.9 180.9h0M491.5 186.9h0M506.7 136.8h0M418.2 130.2h0M410.1 134.5h0M408.0 153.5h0M406.8 168.0h0M484.4 211.9h0M417.2 161.5h0M475.6 212.7h0M485.8 161.9h0M436.6 185.8h0M438.5 133.2h0M419.6 142.3h0M455.5 209.4h0M511.5 207.9h0M419.6 184.3h0M508.2 197.6h0M500.6 209.4h0M425.4 139.8h0M484.0 168.9h0M501.2 189.3h0M435.9 132.1h0M466.8 135.6h0M480.5 148.5h0M449.1 162.3h0M410.8 167.0h0M456.4 145.1h0M408.2 206.5h0M476.7 211.8h0M500.1 190.5h0M483.4 147.4h0M435.3 187.3h0M509.4 146.2h0M480.3 199.1h0M512.9 134.0h0M466.8 203.0h0M466.3 190.0h0M491.1 191.0h0M485.9 154.6h0M416.2 161.4h0M494.2 176.5h0M446.6 206.9h0M484.1 176.2h0M441.0 184.5h0M450.1 179.5h0M446.4 213.8h0M488.5 142.7h0M478.4 205.8h0M478.8 164.9h0M509.2 137.5h0M433.8 141.9h0M505.3 185.1h0M454.8 176.0h0M479.3 205.8h0M443.4 208.3h0M511.5 142.5h0M443.2 184.0h0M486.1 202.5h0M467.9 213.3h0M491.2 200.3h0M449.0 200.2h0M500.6 214.4h0M464.7 174.4h0M468.1 151.9h0M465.4 210.3h0M485.6 188.3h0M490.7 171.8h0M441.5 201.3h0M446.6 209.8h0M462.5 199.8h0M430.1 160.0h0M450.3 194.1h0M418.1 184.6h0M455.1 201.1h0M502.1 146.2h0M406.9 197.7h0M460.5 139.4h0M422.2 136.3h0M508.0 150.8h0M450.1 200.3h0M464.5 138.4h0M493.5 132.2h0M410.1 140.5h0M426.6 196.2h0M414.4 151.7h0M508.1 166.1h0M444.9 164.5h0M481.1 155.7h0M448.1 147.9h0M452.4 180.3h0M457.8 182.5h0M411.3 172.0h0M410.2 157.4h0M410.1 189.8h0M498.5 162.8h0M464.2 138.5h0M480.1 182.9h0M444.2 212.8h0M459.0 132.5h0M410.9 171.6h0M503.3 170.6h0M464.7 137.3h0M483.9 191.0h0M505.0 168.8h0M486.6 150.7h0M511.6 133.1h0M439.8 196.3h0M497.8 148.6h0M450.5 131.1h0M420.5 203.5h0M490.0 209.7h0M454.1 172.9h0M456.1 189.5h0M448.1 208.8h0M476.4 134.3h0M469.2 189.5h0M459.1 206.9h0M438.0 144.0h0M437.7 158.4h0M418.5 143.4h0M496.0 147.1h0M458.6 130.7h0M489.4 198.8h0M503.2 195.9h0M411.5 145.7h0M443.0 188.3h0M496.8 149.6h0M454.2 189.8h0M503.9 138.8h0M421.6 193.1h0M507.6 178.0h0M453.5 161.4h0M481.2 131.9h0M462.7 189.2h0M474.4 139.2h0M457.2 153.9h0M466.2 166.1h0M413.7 152.5h0M507.8 160.6h0M449.5 208.3h0M503.4 204.6h0M419.7 144.0h0M467.5 186.7h0M454.3 214.9h0M446.6 152.6h0M413.9 197.3h0M426.6 165.3h0M466.4 149.9h0M422.5 141.5h0M481.5 131.2h0M413.2 197.2h0M418.8 186.8h0M469.2 131.0h0M500.6 141.9h0M504.9 203.3h0M492.1 146.2h0M457.4 170.9h0M417.3 163.2h0M474.3 176.2h0M492.4 142.6h0M420.3 173.5h0M498.5 136.0h0M461.5 214.1h0M467.1 151.2h0M487.0 201.6h0M445.3 149.4h0M434.8 135.3h0M452.8 204.2h0M489.9 132.6h0M478.3 209.3h0M448.4 181.7h0M499.1 193.8h0M420.4 182.5h0M491.0 205.7h0M475.6 194.4h0M423.6 181.1h0M437.4 195.9h0M452.9 132.8h0M413.9 137.4h0M501.8 142.6h0M475.1 161.6h0M448.7 169.7h0M492.7 208.2h0M439.1 175.7h0M441.6 156.4h0M507.8 173.7h0M447.9 204.2h0M480.1 189.3h0M505.1 181.6h0M477.2 179.0h0M456.8 137.9h0M459.0 159.3h0M461.9 183.9h0M433.6 153.0h0M435.7 154.8h0M461.5 156.8h0M503.3 207.3h0M467.1 159.8h0M439.4 200.4h0M461.9 165.2h0M434.9 166.2h0M477.0 195.5h0M501.6 142.0h0M488.8 155.3h0M480.0 160.9h0M464.6 157.5h0M491.8 179.6h0M425.3 191.8h0M500.1 184.5h0M428.7 197.3h0M495.2 145.8h0M475.8 172.4h0M433.0 171.4h0M435.6 178.5h0M464.0 142.6h0M471.3 151.7h0M509.7 199.3h0M511.6 130.5h0M426.9 209.6h0M505.6 168.9h0M512.3 179.8h0M436.3 178.4h0M428.0 134.5h0M452.4 213.6h0M470.2 170.7h0M448.0 140.4h0M426.1 160.9h0M492.1 134.8h0M497.0 153.8h0M465.2 153.0h0M490.3 208.9h0M479.9 147.6h0M501.7 178.4h0M407.8 158.9h0M473.3 153.8h0M452.6 149.8h0M472.7 178.7h0M435.2 177.2h0M496.3 143.1h0M465.8 157.1h0M430.2 198.7h0M494.7 147.5h0M472.4 211.3h0M416.5 193.1h0M511.0 153.1h0M458.6 138.3h0M496.8 149.0h0M455.7 144.3h0M425.3 148.9h0M418.2 150.5h0M439.7 179.5h0M470.7 163.1h0M429.5 138.7h0M415.5 190.8h0M453.9 193.0h0M447.7 182.5h0M447.3 176.2h0M435.7 205.2h0M459.1 197.3h0M462.6 157.6h0M459.9 182.5h0M496.1 181.8h0M446.5 190.0h0M470.8 189.6h0M447.0 197.2h0M428.9 156.9h0M449.9 151.3h0M437.8 149.8h0M470.7 170.1h0M409.4 209.7h0M432.8 189.5h0M455.0 198.2h0M448.2 159.5h0M447.4 171.9h0M483.9 207.5h0M416.3 151.9h0M431.1 161.4h0M513.0 170.9h0M424.7 202.8h0M475.5 181.1h0M493.1 202.1h0M511.1 161.2h0M487.8 137.8h0M504.3 138.1h0M480.9 134.5h0M415.2 209.4h0M455.1 155.1h0M498.2 153.9h0M504.4 149.7h0M440.0 174.4h0M431.5 138.0h0M412.4 185.8h0M490.3 211.3h0M507.1 145.2h0M465.2 210.3h0M502.1 150.3h0M492.8 146.8h0M482.7 135.9h0M417.6 199.7h0M425.8 140.8h0M456.1 194.9h0M483.8 143.2h0M506.1 151.1h0M407.7 202.9h0M488.4 173.8h0M409.0 173.1h0M412.9 141.7h0M411.9 143.5h0M420.9 203.4h0M495.7 179.0h0M436.5 151.1h0M425.5 139.5h0M433.2 184.6h0M487.2 135.9h0M447.0 130.2h0M455.9 198.1h0M479.0 163.8h0M464.5 164.5h0M462.7 212.0h0M507.3 160.3h0M471.3 191.3h0M486.6 194.1h0M462.5 164.9h0M460.4 172.7h0M492.5 147.8h0M470.7 161.4h0M438.6 181.6h0M450.7 162.2h0M446.6 156.9h0M428.0 131.6h0M453.2 184.5h0M422.5 203.7h0M491.0 193.9h0M475.9 155.9h0M432.8 131.6h0M431.0 167.5h0M458.6 169.8h0M456.3 205.2h0M456.1 165.5h0M412.3 210.8h0M502.3 208.6h0M438.3 134.7h0M456.3 163.1h0M476.4 167.0h0M470.5 160.4h0M461.4 170.8h0M506.3 204.0h0M457.9 160.2h0M427.4 208.6h0M424.5 214.5h0M422.3 190.6h0M435.5 132.3h0M430.1 174.5h0M409.4 164.5h0M491.8 169.3h0M473.0 154.4h0M412.2 174.1h0M419.9 167.5h0M458.7 195.1h0M410.7 196.4h0M484.4 178.3h0M414.0 212.5h0M506.2 162.3h0M477.2 167.6h0M483.8 152.9h0M421.9 208.0h0M416.7 162.8h0M448.8 133.8h0M439.1 211.3h0M427.5 178.6h0M451.3 200.4h0M423.0 176.7h0M434.0 208.1h0M406.9 135.8h0M498.3 152.8h0M458.2 135.8h0M456.7 213.6h0M505.3 172.1h0M415.3 169.3h0M502.6 182.6h0M511.1 202.5h0M508.6 152.1h0M466.3 205.8h0M493.5 158.3h0M477.6 175.0h0M477.9 201.2h0M469.6 188.2h0M492.7 196.4h0M432.9 199.5h0M453.0 153.3h0M506.9 155.7h0M510.4 214.5h0M412.3 180.5h0M492.2 152.1h0M494.6 177.4h0M496.7 148.8h0M508.6 169.7h0M423.1 138.6h0M464.5 161.1h0M485.9 165.8h0M442.1 137.1h0M424.1 171.1h0M505.7 135.8h0M440.2 205.8h0M453.2 199.5h0M423.2 170.4h0M410.1 209.9h0M419.4 150.2h0M500.4 172.0h0M508.9 180.2h0M450.0 202.4h0M437.3 182.1h0M424.4 143.7h0M441.6 162.2h0M415.6 137.2h0M491.6 130.9h0M464.3 172.1h0M416.6 212.7h0M492.9 185.3h0M512.4 130.4h0M425.7 141.5h0M511.6 161.4h0M479.8 200.5h0M444.8 178.8h0M411.1 206.1h0M442.0 133.5h0M468.9 214.2h0M472.2 200.0h0M427.3 144.6h0M448.4 214.6h0M418.3 180.6h0M472.3 174.9h0M495.4 154.4h0M413.7 181.7h0M434.5 184.9h0M481.3 138.4h0M471.4 188.8h0M410.2 202.6h0M477.6 189.3h0M493.1 160.7h0M461.0 155.2h0M482.0 164.3h0M492.7 150.2h0M511.7 156.5h0M441.6 150.7h0M422.6 143.4h0M415.3 180.2h0M419.3 139.4h0M454.6 142.9h0M414.6 195.7h0M480.0 179.4h0M483.3 167.2h0M419.9 185.0h0M507.2 177.1h0M469.4 209.9h0M429.1 170.4h0M410.4 143.5h0M427.2 135.8h0M410.1 202.7h0M433.7 146.1h0M459.8 186.2h0M449.1 190.5h0M441.3 141.5h0M441.6 212.4h0M451.8 157.0h0M504.3 178.4h0M481.3 130.8h0M490.2 211.3h0M451.1 171.6h0M512.1 142.8h0M501.0 150.6h0M471.1 211.6h0M503.4 191.5h0M451.3 195.7h0M474.1 190.7h0M492.0 161.9h0M407.1 171.2h0M494.6 172.8h0M429.3 158.5h0M476.9 192.8h0M460.6 175.3h0M501.5 214.7h0M472.0 182.2h0M453.1 210.9h0M492.0 168.9h0M483.4 176.7h0M464.2 194.4h0M411.5 158.5h0M450.2 183.5h0M491.1 170.5h0M500.3 209.2h0M504.2 181.9h0M431.4 157.0h0M469.7 168.4h0M438.8 185.6h0M410.9 149.7h0M503.1 151.8h0M435.1 175.3h0M411.1 211.1h0M454.6 163.9h0M452.6 211.7h0M492.3 153.5h0M493.5 176.7h0M451.2 172.8h0M508.3 197.7h0M475.0 156.2h0M470.7 134.6h0M512.1 148.3h0M477.2 154.6h0M419.1 150.2h0M512.2 177.9h0M441.8 176.5h0M428.1 188.4h0M415.3 185.2h0M507.6 132.0h0M420.6 193.9h0M434.3 186.1h0M478.3 165.5h0M503.3 147.5h0M424.3 138.5h0M506.0 156.5h0M464.6 176.8h0" stroke="rgb(100,32,110)" stroke-width="1.60" stroke-linecap="round"/>
</g></g>
<g clip-path="url(#cp21)"><g filter="url(#soft)">
<rect x="406.8" y="218.4" width="106.5" height="92.8" fill="rgb(230,186,218)"/>
<path d="M407.1,316.2V250.9A4.9,4.9 0 0 1 416.9,250.9V316.2" fill="none" stroke="rgb(198,110,176)" stroke-width="4.8"/>
<path d="M412.0,252.3V316.2" stroke="rgb(252,246,248)" stroke-width="5.0" stroke-linecap="round"/>
<path d="M423.4,316.2V247.2A5.2,5.2 0 0 1 433.6,247.2V316.2" fill="none" stroke="rgb(198,110,176)" stroke-width="5.3"/>
<path d="M428.5,248.8V316.2" stroke="rgb(252,246,248)" stroke-width="5.0" stroke-linecap="round"/>
<path d="M439.6,316.2V248.4A4.4,4.4 0 0 1 448.4,248.4V316.2" fill="none" stroke="rgb(198,110,176)" stroke-width="3.8"/>
<path d="M444.0,249.3V316.2" stroke="rgb(252,246,248)" stroke-width="5.0" stroke-linecap="round"/>
<path d="M454.1,316.2V246.9A4.9,4.9 0 0 1 463.9,246.9V316.2" fill="none" stroke="rgb(198,110,176)" stroke-width="4.8"/>
<path d="M459.0,248.3V316.2" stroke="rgb(252,246,248)" stroke-width="5.0" stroke-linecap="round"/>
<path d="M470.1,316.2V256.9A4.9,4.9 0 0 1 479.9,256.9V316.2" fill="none" stroke="rgb(198,110,176)" stroke-width="4.8"/>
<path d="M475.0,258.3V316.2" stroke="rgb(252,246,248)" stroke-width="5.0" stroke-linecap="round"/>
<path d="M485.6,316.2V246.4A4.4,4.4 0 0 1 494.4,246.4V316.2" fill="none" stroke="rgb(198,110,176)" stroke-width="3.8"/>
<path d="M490.0,247.3V316.2" stroke="rgb(252,246,248)" stroke-width="5.0" stroke-linecap="round"/>
<path d="M499.9,316.2V242.7A4.7,4.7 0 0 1 509.1,242.7V316.2" fill="none" stroke="rgb(198,110,176)" stroke-width="4.3"/>
<path d="M504.5,243.8V316.2" stroke="rgb(252,246,248)" stroke-width="5.0" stroke-linecap="round"/>
<path d="M406.1 249.9h0M418.1 251.8h0M406.3 252.6h0M416.5 252.5h0M406.8 255.5h0M417.4 253.9h0M408.2 257.1h0M417.6 256.2h0M407.1 260.1h0M415.5 259.2h0M406.1 261.2h0M415.8 261.3h0M406.2 263.7h0M416.3 265.0h0M408.3 266.0h0M416.4 266.3h0M407.5 267.5h0M416.0 267.7h0M407.0 270.7h0M417.1 271.0h0M406.4 271.7h0M416.3 271.7h0M407.5 274.4h0M417.7 273.5h0M406.7 275.2h0M416.9 277.2h0M406.3 277.3h0M417.0 277.6h0M408.2 279.8h0M416.6 279.3h0M408.2 282.2h0M417.6 282.3h0M406.9 284.4h0M415.9 284.5h0M407.3 285.8h0M417.4 286.4h0M406.2 289.3h0M416.0 289.4h0M407.9 291.7h0M415.9 291.5h0M406.7 292.4h0M416.9 292.8h0M407.8 296.1h0M418.1 296.0h0M407.6 297.8h0M416.4 297.9h0M406.6 300.2h0M416.4 300.0h0M406.6 300.5h0M416.1 301.1h0M407.3 303.0h0M416.6 304.7h0M408.2 305.5h0M416.2 305.9h0M405.9 307.9h0M415.8 307.9h0M405.9 310.3h0M418.2 309.9h0M406.2 311.4h0M417.5 312.5h0M423.6 247.5h0M432.6 247.8h0M422.7 248.5h0M433.8 250.0h0M423.0 251.7h0M433.0 251.6h0M423.5 253.0h0M433.8 254.5h0M422.3 255.1h0M432.8 255.1h0M424.7 258.4h0M434.7 257.4h0M422.7 259.6h0M434.5 260.3h0M422.8 261.7h0M433.9 261.8h0M423.2 264.3h0M434.4 265.5h0M424.0 266.1h0M432.9 266.5h0M423.7 267.9h0M432.0 268.3h0M423.7 270.8h0M434.2 270.4h0M424.8 272.5h0M434.0 273.6h0M421.9 274.1h0M434.8 274.0h0M424.1 277.6h0M433.2 277.4h0M423.0 278.6h0M434.4 278.8h0M423.8 281.3h0M434.9 281.5h0M422.1 281.9h0M433.1 283.2h0M423.6 284.3h0M433.7 285.6h0M423.3 286.4h0M433.5 287.7h0M424.8 289.5h0M434.7 288.3h0M424.7 290.9h0M433.8 291.0h0M423.9 292.0h0M435.2 293.4h0M423.3 294.6h0M432.0 294.2h0M424.6 297.3h0M432.9 296.7h0M424.3 299.4h0M432.4 299.7h0M422.2 302.1h0M434.0 302.0h0M422.7 304.4h0M434.1 304.3h0M422.7 304.9h0M435.3 305.7h0M424.5 307.4h0M435.0 307.2h0M423.4 310.6h0M434.0 310.9h0M422.4 313.2h0M434.4 312.3h0M440.3 247.6h0M449.3 248.6h0M439.2 250.1h0M449.2 250.0h0M439.0 252.6h0M448.9 253.1h0M439.5 254.4h0M448.0 254.7h0M438.8 257.3h0M447.9 257.1h0M440.4 259.1h0M448.3 259.6h0M438.7 260.5h0M449.1 261.4h0M440.5 264.1h0M449.3 264.3h0M439.1 265.5h0M448.5 265.8h0M440.3 268.3h0M448.1 267.3h0M439.8 269.4h0M448.0 270.9h0M440.5 272.8h0M448.2 273.4h0M439.4 274.9h0M448.2 273.3h0M439.8 275.8h0M448.3 276.3h0M439.7 277.8h0M449.1 278.6h0M439.0 281.3h0M449.2 279.6h0M440.0 283.7h0M448.1 283.6h0M440.1 285.6h0M447.9 284.5h0M439.8 286.4h0M448.1 287.2h0M440.4 289.9h0M449.0 289.1h0M439.6 291.4h0M448.7 292.2h0M438.7 293.2h0M447.9 293.7h0M439.0 295.5h0M449.2 295.2h0M439.7 298.9h0M447.8 299.1h0M439.4 300.1h0M448.7 299.5h0M439.8 301.8h0M447.6 302.6h0M440.4 304.6h0M448.5 303.5h0M439.2 306.6h0M448.7 306.3h0M439.4 308.5h0M448.3 308.8h0M439.8 310.4h0M447.5 310.8h0M439.6 312.6h0M449.1 312.5h0M453.4 247.5h0M464.7 246.6h0M453.4 248.9h0M463.0 250.0h0M454.2 250.8h0M463.0 250.5h0M453.3 254.1h0M465.0 253.6h0M452.9 254.6h0M463.0 256.1h0M454.9 257.6h0M462.8 258.0h0M454.0 260.6h0M464.4 260.4h0M453.9 262.4h0M464.5 261.7h0M454.2 263.2h0M463.5 264.3h0M454.8 265.7h0M463.2 266.5h0M453.3 267.2h0M465.2 267.4h0M455.1 270.2h0M464.0 271.0h0M454.3 271.4h0M464.7 272.2h0M453.4 274.7h0M465.2 274.9h0M453.0 277.2h0M465.0 275.4h0M454.9 279.5h0M464.8 279.2h0M453.7 281.1h0M463.6 281.2h0M452.7 282.9h0M462.9 282.5h0M452.8 285.5h0M464.8 286.0h0M454.6 286.5h0M462.9 287.8h0M454.2 290.0h0M464.3 289.4h0M453.3 291.8h0M464.5 291.2h0M453.6 293.0h0M464.3 294.5h0M453.8 296.5h0M464.7 296.3h0M454.8 297.5h0M463.1 298.3h0M453.4 300.9h0M463.2 299.6h0M455.0 302.4h0M462.7 301.6h0M454.1 303.6h0M465.1 303.9h0M453.3 306.9h0M463.2 306.3h0M454.1 308.5h0M464.5 308.1h0M453.4 311.5h0M464.3 311.1h0M454.9 313.3h0M464.7 313.3h0M469.4 256.3h0M479.1 257.1h0M470.9 257.9h0M478.6 258.9h0M471.2 261.4h0M481.1 261.5h0M471.4 263.6h0M480.3 263.3h0M471.2 265.4h0M478.9 265.5h0M469.1 267.7h0M480.5 268.2h0M470.9 269.6h0M479.9 268.3h0M470.6 270.8h0M481.0 271.6h0M470.9 272.8h0M479.7 273.5h0M470.5 274.0h0M480.3 273.9h0M470.4 276.8h0M478.7 276.6h0M470.2 278.2h0M480.7 279.6h0M469.3 281.2h0M478.8 280.4h0M469.6 283.1h0M481.2 283.6h0M470.9 284.5h0M479.3 285.9h0M471.0 287.2h0M478.6 286.4h0M470.9 288.6h0M479.6 289.5h0M469.5 290.6h0M479.4 290.8h0M469.6 292.2h0M480.1 293.0h0M469.1 295.6h0M480.7 294.4h0M468.9 297.3h0M480.3 297.0h0M470.3 299.5h0M479.2 299.2h0M468.8 301.9h0M481.3 301.5h0M469.7 302.3h0M480.0 302.6h0M471.4 305.7h0M481.1 305.9h0M469.9 307.6h0M481.2 308.3h0M468.9 309.7h0M481.1 310.5h0M470.1 312.5h0M479.7 310.6h0M486.3 247.1h0M494.7 245.6h0M485.1 248.4h0M495.2 248.6h0M486.0 251.2h0M494.7 250.0h0M485.9 252.3h0M495.0 252.8h0M484.8 255.1h0M494.6 253.8h0M486.2 257.8h0M494.2 256.9h0M486.1 258.7h0M495.1 257.9h0M485.7 260.7h0M495.0 260.7h0M485.4 263.4h0M493.7 262.2h0M486.4 264.6h0M493.8 265.9h0M486.4 266.4h0M494.2 266.1h0M485.1 268.6h0M494.6 269.4h0M486.4 271.3h0M495.0 272.0h0M485.4 274.3h0M494.2 274.5h0M485.9 275.8h0M494.7 275.4h0M485.8 278.9h0M495.0 278.6h0M486.3 280.9h0M494.6 281.1h0M486.2 282.4h0M494.9 283.3h0M486.5 285.5h0M495.1 285.1h0M486.4 286.5h0M495.1 287.8h0M486.4 289.4h0M494.7 289.0h0M485.1 291.3h0M494.6 291.3h0M485.6 294.2h0M495.3 292.3h0M484.7 294.6h0M495.2 295.2h0M486.0 297.0h0M495.2 296.8h0M485.4 299.6h0M495.3 300.1h0M485.1 301.8h0M495.2 300.9h0M486.2 303.4h0M493.8 304.5h0M484.7 306.5h0M494.9 305.6h0M485.5 307.8h0M493.6 308.7h0M486.4 310.4h0M494.4 309.5h0M486.5 313.1h0M494.4 312.8h0M499.1 242.3h0M510.2 242.2h0M500.2 243.8h0M509.3 243.7h0M500.4 247.1h0M509.5 247.7h0M500.6 250.0h0M508.7 249.4h0M500.9 250.2h0M508.9 250.5h0M499.6 252.3h0M509.5 252.9h0M498.7 255.0h0M510.1 254.3h0M499.4 256.5h0M509.2 257.0h0M500.8 258.6h0M509.3 259.9h0M500.9 261.2h0M509.5 260.6h0M499.2 262.2h0M508.4 262.9h0M500.0 264.7h0M509.0 264.7h0M499.1 268.2h0M509.2 266.4h0M499.9 269.5h0M509.0 269.5h0M499.6 270.7h0M509.2 271.5h0M499.4 273.8h0M508.8 274.2h0M500.7 276.5h0M508.8 276.3h0M499.7 276.8h0M509.1 277.5h0M500.7 279.4h0M509.3 279.3h0M498.8 281.6h0M510.0 282.8h0M500.3 283.9h0M508.3 284.6h0M499.4 284.7h0M508.9 286.6h0M499.9 287.1h0M508.0 286.9h0M500.4 289.1h0M510.1 290.5h0M498.8 291.1h0M509.9 292.6h0M499.3 293.1h0M508.1 292.8h0M500.4 296.1h0M509.8 295.8h0M499.6 297.8h0M509.8 297.5h0M500.7 299.9h0M508.2 299.5h0M500.5 301.1h0M509.8 302.1h0M499.8 303.6h0M509.3 304.7h0M499.7 307.2h0M509.8 306.5h0M500.0 308.2h0M508.8 308.3h0M499.6 310.7h0M509.7 311.0h0M498.8 312.0h0M509.6 311.9h0" stroke="rgb(238,172,222)" stroke-width="2.40" stroke-linecap="round"/>
<path d="M420.0,250.0V316.2" stroke="rgb(248,232,244)" stroke-width="1.3"/>
<path d="M437.0,248.0V316.2" stroke="rgb(248,232,244)" stroke-width="1.3"/>
<path d="M451.0,248.0V316.2" stroke="rgb(248,232,244)" stroke-width="1.3"/>
<path d="M467.0,256.0V316.2" stroke="rgb(248,232,244)" stroke-width="1.3"/>
<path d="M483.0,256.0V316.2" stroke="rgb(248,232,244)" stroke-width="1.3"/>
<path d="M497.0,246.0V316.2" stroke="rgb(248,232,244)" stroke-width="1.3"/>
<path d="M406.8,218 H513.3 V222 Q470,221 440,225 Q420,229 406.8,232 Z" fill="rgb(242,226,236)"/><path d="M406.8,231 Q420,228 440,225 Q470,220 513.3,221 V226 Q470,225 440,229 Q420,232 406.8,236.5 Z" fill="rgb(222,100,160)"/>
<rect x="406.8" y="275" width="106.5" height="40" fill="#fff" opacity="0.18"/>
<path d="M406.1 251.5h0M418.0 251.2h0M405.7 252.2h0M417.9 252.9h0M415.5 253.2h0M405.3 254.8h0M418.6 255.1h0M416.2 254.6h0M405.4 256.9h0M407.7 257.4h0M418.6 256.7h0M416.9 257.5h0M406.0 259.7h0M418.2 259.7h0M415.4 259.5h0M405.3 262.2h0M406.6 262.8h0M418.6 262.1h0M405.2 264.4h0M407.1 263.4h0M418.1 264.5h0M417.4 263.4h0M405.9 265.8h0M407.9 265.8h0M417.9 265.7h0M415.4 266.7h0M405.3 268.4h0M418.1 268.1h0M406.0 270.4h0M418.7 271.0h0M405.6 272.4h0M418.7 272.5h0M405.3 274.5h0M407.5 274.3h0M418.1 274.5h0M405.6 276.3h0M418.0 276.4h0M417.7 276.8h0M405.7 277.6h0M418.3 277.4h0M417.0 277.4h0M405.6 280.4h0M408.1 280.5h0M418.4 279.9h0M406.1 281.4h0M417.9 281.3h0M406.1 283.7h0M418.5 284.5h0M415.6 283.6h0M405.3 286.2h0M407.1 286.7h0M418.4 286.0h0M417.5 287.0h0M405.8 288.6h0M408.3 289.3h0M418.3 288.5h0M416.0 288.5h0M405.4 290.4h0M407.9 290.5h0M418.6 291.5h0M416.5 290.8h0M405.8 293.7h0M418.1 293.0h0M415.5 293.7h0M406.1 295.7h0M406.5 294.8h0M418.7 295.6h0M405.2 296.8h0M418.4 297.5h0M415.8 296.7h0M405.4 299.4h0M418.4 299.1h0M416.9 299.9h0M405.4 301.3h0M407.6 301.4h0M418.7 300.9h0M406.1 304.0h0M418.5 303.4h0M415.9 304.4h0M405.3 306.4h0M406.4 306.1h0M418.4 306.3h0M406.0 308.2h0M418.8 308.2h0M405.6 309.2h0M418.4 309.4h0M406.0 312.4h0M408.6 311.5h0M418.1 311.5h0M416.8 311.3h0M405.7 250.9h0M406.1 248.7h0M407.2 246.9h0M408.9 245.4h0M410.9 244.7h0M413.1 244.7h0M415.1 245.4h0M416.8 246.9h0M417.9 248.7h0M418.3 250.9h0M421.4 247.5h0M435.6 246.7h0M432.3 246.4h0M422.1 248.8h0M424.0 249.1h0M435.5 249.4h0M421.2 251.5h0M423.8 251.9h0M435.0 251.3h0M434.3 251.3h0M421.4 254.2h0M424.3 254.2h0M435.4 254.2h0M432.0 254.2h0M421.8 256.1h0M435.0 256.4h0M421.7 257.8h0M434.9 258.0h0M421.4 260.0h0M434.9 260.4h0M433.7 259.8h0M421.2 262.5h0M425.2 261.9h0M435.6 262.1h0M434.1 263.2h0M421.2 264.0h0M435.6 264.8h0M421.5 266.8h0M435.0 266.5h0M433.8 266.5h0M422.0 269.2h0M423.3 268.1h0M435.2 268.2h0M421.9 270.5h0M423.7 270.7h0M435.0 270.3h0M432.5 270.4h0M421.4 272.9h0M423.1 273.2h0M435.2 273.5h0M421.6 274.9h0M434.9 274.5h0M432.2 274.6h0M421.7 276.3h0M435.0 277.4h0M434.6 276.9h0M422.1 278.7h0M425.0 279.3h0M435.0 279.1h0M422.0 280.8h0M435.3 280.5h0M434.1 280.2h0M421.2 282.7h0M422.9 283.2h0M435.2 282.5h0M421.2 285.2h0M424.9 284.5h0M435.1 284.8h0M421.5 286.9h0M435.8 286.8h0M421.5 288.2h0M435.0 289.3h0M434.1 288.6h0M421.5 290.6h0M424.8 290.1h0M435.3 291.0h0M421.6 292.8h0M424.5 292.4h0M435.7 293.0h0M421.7 295.1h0M424.0 294.7h0M435.4 295.2h0M421.2 296.6h0M422.9 296.5h0M435.7 296.8h0M433.2 297.5h0M422.1 299.9h0M425.2 299.8h0M435.6 299.2h0M432.7 298.9h0M421.9 302.0h0M424.0 301.9h0M435.6 301.8h0M434.0 302.7h0M421.7 303.5h0M424.9 304.4h0M435.1 303.7h0M434.0 304.2h0M421.7 305.5h0M422.8 304.9h0M434.9 306.0h0M431.9 305.2h0M421.8 308.0h0M422.6 306.8h0M435.1 307.8h0M432.3 307.1h0M421.7 309.5h0M435.2 310.0h0M421.9 312.8h0M424.3 312.3h0M435.6 312.1h0M434.4 312.9h0M421.7 247.2h0M422.1 244.8h0M423.3 242.8h0M425.1 241.3h0M427.3 240.5h0M429.7 240.5h0M431.9 241.3h0M433.7 242.8h0M434.9 244.8h0M435.3 247.2h0M439.0 248.6h0M449.2 248.6h0M448.5 248.4h0M438.9 250.2h0M449.1 250.5h0M448.2 250.3h0M438.4 252.8h0M449.6 252.6h0M438.7 253.7h0M449.4 253.7h0M438.6 256.9h0M448.9 256.9h0M438.8 258.9h0M448.8 258.9h0M448.3 258.8h0M439.0 260.7h0M449.4 260.9h0M438.7 263.7h0M449.1 262.9h0M447.9 263.7h0M438.8 265.1h0M449.6 265.7h0M448.3 265.0h0M438.6 268.1h0M439.9 268.1h0M449.7 267.9h0M439.1 270.5h0M449.4 270.4h0M438.4 272.0h0M449.3 272.6h0M438.2 274.1h0M440.6 273.7h0M449.6 273.7h0M439.1 276.6h0M439.6 275.7h0M449.4 276.1h0M438.5 277.9h0M440.7 278.3h0M449.0 278.5h0M447.5 278.1h0M438.9 280.5h0M439.4 280.8h0M449.7 281.0h0M439.2 283.3h0M449.0 282.7h0M447.5 283.5h0M438.3 284.5h0M439.3 284.6h0M449.7 284.8h0M447.5 284.4h0M438.2 286.8h0M439.9 287.7h0M449.2 287.5h0M439.0 289.4h0M439.4 288.9h0M449.2 289.0h0M448.0 289.6h0M438.3 291.9h0M449.7 290.9h0M438.6 294.2h0M440.4 293.8h0M449.3 294.1h0M448.4 294.0h0M438.3 296.2h0M449.5 296.0h0M447.6 296.6h0M438.6 298.8h0M439.7 299.3h0M449.2 299.0h0M447.9 298.9h0M439.2 300.5h0M439.4 300.0h0M449.0 301.1h0M438.2 303.0h0M448.9 302.6h0M438.8 304.4h0M449.6 304.1h0M448.2 304.1h0M438.3 305.7h0M440.6 306.4h0M449.3 306.8h0M439.1 308.6h0M439.6 308.2h0M449.1 308.1h0M438.5 310.5h0M440.4 311.2h0M449.0 310.9h0M438.4 313.1h0M439.8 313.3h0M449.2 312.1h0M438.7 248.4h0M439.0 246.6h0M439.9 245.0h0M441.4 243.8h0M443.1 243.2h0M444.9 243.2h0M446.6 243.8h0M448.1 245.0h0M449.0 246.6h0M449.3 248.4h0M453.0 247.3h0M454.3 246.9h0M465.3 247.1h0M463.9 247.2h0M452.3 249.4h0M465.5 249.0h0M462.4 249.4h0M452.5 251.4h0M455.2 251.0h0M464.9 251.4h0M452.5 253.7h0M465.0 254.0h0M452.8 255.0h0M465.6 255.5h0M452.2 256.9h0M465.1 257.4h0M453.1 260.0h0M455.6 259.9h0M465.7 259.8h0M463.1 259.7h0M453.0 261.7h0M454.0 261.6h0M464.9 261.6h0M462.4 261.6h0M453.2 263.9h0M454.9 263.2h0M465.1 263.0h0M452.7 266.3h0M465.7 265.3h0M452.6 267.6h0M465.2 268.1h0M452.7 269.8h0M465.1 269.8h0M453.0 271.8h0M453.7 272.8h0M465.1 272.6h0M452.9 273.9h0M454.9 274.1h0M465.3 274.1h0M452.5 276.4h0M455.4 277.0h0M465.6 276.2h0M462.6 276.8h0M452.8 278.3h0M464.9 279.1h0M453.1 280.4h0M455.6 280.5h0M465.0 280.5h0M464.4 281.0h0M452.7 283.5h0M465.2 283.7h0M464.7 283.7h0M452.7 285.8h0M454.8 285.0h0M465.6 285.1h0M453.1 287.0h0M453.6 286.6h0M465.2 286.8h0M462.9 287.0h0M453.2 289.0h0M454.4 288.8h0M465.7 289.4h0M464.2 289.2h0M452.3 292.0h0M454.2 291.4h0M465.3 291.9h0M453.0 293.5h0M454.5 292.9h0M465.6 293.8h0M452.3 295.8h0M454.3 296.1h0M465.7 296.6h0M452.6 297.9h0M465.5 298.4h0M463.7 298.8h0M452.8 300.1h0M465.0 300.5h0M464.7 300.3h0M452.4 302.6h0M465.6 302.9h0M462.8 302.0h0M452.3 304.3h0M465.3 304.9h0M463.7 304.5h0M452.4 306.5h0M453.7 306.0h0M465.3 305.8h0M452.3 308.9h0M465.1 308.0h0M453.0 310.7h0M455.5 311.0h0M465.6 310.1h0M463.1 311.2h0M452.6 312.4h0M453.6 312.3h0M465.7 313.3h0M462.7 313.0h0M452.7 246.9h0M453.1 244.7h0M454.2 242.9h0M455.9 241.4h0M457.9 240.7h0M460.1 240.7h0M462.1 241.4h0M463.8 242.9h0M464.9 244.7h0M465.3 246.9h0M468.9 256.3h0M470.5 257.1h0M481.4 256.5h0M479.3 256.9h0M468.2 258.2h0M471.3 258.1h0M481.5 258.9h0M479.5 258.9h0M469.1 260.5h0M471.4 260.5h0M481.2 261.2h0M469.0 263.6h0M481.2 263.2h0M468.4 266.2h0M469.8 265.5h0M481.6 266.0h0M468.5 268.1h0M471.0 266.9h0M481.5 267.4h0M468.5 269.5h0M481.4 268.8h0M468.2 270.6h0M470.6 270.8h0M481.1 271.6h0M478.4 271.8h0M468.2 273.3h0M470.8 272.2h0M480.9 272.9h0M480.1 273.5h0M469.0 274.0h0M470.1 275.1h0M481.7 274.9h0M468.9 276.5h0M470.2 277.4h0M481.7 276.9h0M480.5 276.5h0M468.2 278.9h0M471.3 278.6h0M481.6 278.7h0M478.6 279.1h0M469.2 280.5h0M480.9 281.0h0M468.7 283.2h0M480.9 282.7h0M469.0 284.8h0M471.1 285.2h0M480.8 285.7h0M479.6 284.9h0M468.5 286.6h0M481.3 287.0h0M479.4 286.7h0M469.0 289.0h0M481.6 289.3h0M478.9 288.7h0M468.6 290.6h0M480.8 291.2h0M479.4 290.3h0M468.4 292.4h0M481.1 292.3h0M469.1 295.6h0M481.1 294.8h0M480.8 294.7h0M468.7 297.9h0M469.6 298.1h0M481.4 298.1h0M468.5 300.1h0M470.3 299.4h0M480.9 299.4h0M478.4 299.7h0M468.9 301.2h0M481.4 301.7h0M468.5 303.8h0M470.6 304.1h0M481.3 303.3h0M469.1 304.6h0M481.4 304.6h0M469.0 307.6h0M481.7 307.7h0M478.7 306.8h0M468.7 309.8h0M481.6 310.1h0M469.1 311.9h0M469.5 311.4h0M481.4 311.5h0M468.7 256.9h0M469.1 254.7h0M470.2 252.9h0M471.9 251.4h0M473.9 250.7h0M476.1 250.7h0M478.1 251.4h0M479.8 252.9h0M480.9 254.7h0M481.3 256.9h0M484.4 246.1h0M486.0 246.4h0M495.6 246.3h0M494.2 245.7h0M484.3 248.4h0M495.2 248.7h0M494.4 248.1h0M484.5 250.1h0M486.2 250.9h0M495.6 250.5h0M493.4 251.2h0M484.3 252.8h0M494.9 253.0h0M485.0 254.9h0M495.1 254.9h0M493.7 254.4h0M484.9 256.3h0M485.9 256.2h0M495.2 257.1h0M484.7 258.7h0M495.3 258.6h0M484.7 261.1h0M495.2 260.7h0M493.7 260.1h0M484.5 262.6h0M495.8 263.3h0M484.3 264.9h0M495.4 264.6h0M494.5 264.3h0M484.9 266.6h0M486.6 266.7h0M495.1 266.5h0M484.7 269.8h0M495.1 269.4h0M484.5 272.2h0M485.9 271.1h0M495.3 272.4h0M484.6 274.8h0M495.6 273.9h0M484.3 276.1h0M485.4 275.6h0M495.1 276.5h0M494.2 276.6h0M484.7 278.4h0M495.2 278.0h0M494.3 277.8h0M484.4 280.5h0M486.1 281.2h0M495.1 280.7h0M494.0 280.1h0M485.1 282.8h0M495.2 282.6h0M484.8 284.9h0M485.5 284.5h0M495.1 284.8h0M494.4 284.7h0M484.9 287.0h0M485.5 287.7h0M495.7 287.1h0M485.0 289.5h0M495.1 289.8h0M493.4 289.9h0M485.0 291.2h0M495.7 291.7h0M493.9 291.9h0M485.0 293.5h0M486.1 294.0h0M495.3 293.3h0M493.4 293.7h0M484.7 295.2h0M495.7 295.0h0M485.2 298.0h0M485.2 297.5h0M495.6 297.2h0M485.0 300.1h0M486.4 299.6h0M495.6 299.3h0M484.9 301.8h0M486.5 301.9h0M495.7 301.6h0M484.8 303.8h0M485.7 303.8h0M495.7 303.6h0M484.4 306.2h0M495.4 306.5h0M494.0 306.5h0M484.6 308.3h0M486.7 308.6h0M495.0 307.5h0M494.4 308.3h0M484.8 309.9h0M486.2 310.4h0M495.6 309.9h0M485.0 312.8h0M495.7 312.8h0M484.7 246.4h0M485.0 244.6h0M485.9 243.0h0M487.4 241.8h0M489.1 241.2h0M490.9 241.2h0M492.6 241.8h0M494.1 243.0h0M495.0 244.6h0M495.3 246.4h0M498.7 242.4h0M510.0 242.4h0M498.4 244.3h0M510.4 244.4h0M498.4 247.3h0M509.9 246.9h0M498.4 249.3h0M500.0 249.3h0M510.5 248.7h0M498.7 250.8h0M500.9 250.8h0M510.5 251.2h0M498.3 253.3h0M510.0 253.0h0M509.8 253.7h0M498.4 255.5h0M510.3 254.4h0M498.4 256.2h0M499.4 256.0h0M510.2 256.3h0M498.6 259.4h0M500.4 258.2h0M510.2 259.4h0M509.6 258.6h0M498.6 260.7h0M510.2 261.5h0M498.3 263.3h0M510.0 263.5h0M509.5 263.0h0M498.3 266.1h0M509.8 265.7h0M509.7 265.8h0M498.6 267.7h0M501.0 266.6h0M510.0 267.0h0M498.3 269.5h0M509.8 269.7h0M499.1 271.4h0M510.4 271.7h0M498.6 273.0h0M510.6 273.0h0M509.4 273.4h0M498.3 275.1h0M509.9 276.1h0M498.6 278.2h0M501.2 278.6h0M510.7 278.3h0M508.1 277.1h0M498.2 279.7h0M499.8 280.1h0M510.4 280.1h0M509.1 280.3h0M498.6 282.5h0M500.8 281.4h0M510.4 281.9h0M498.5 283.6h0M499.6 283.6h0M510.6 283.7h0M498.4 285.5h0M510.5 285.2h0M509.7 286.3h0M499.0 287.3h0M510.0 287.8h0M509.2 288.2h0M498.3 290.3h0M499.8 290.2h0M510.2 289.7h0M498.7 291.3h0M500.1 292.2h0M510.4 292.4h0M498.4 293.2h0M501.0 294.3h0M510.6 294.0h0M508.9 293.2h0M498.9 295.1h0M510.8 295.2h0M498.9 298.0h0M500.1 297.6h0M510.7 297.6h0M508.3 298.4h0M498.2 300.3h0M510.6 300.3h0M509.6 300.3h0M498.8 301.8h0M510.3 301.4h0M498.7 304.2h0M499.5 303.2h0M510.1 303.8h0M508.7 303.3h0M498.3 306.8h0M510.1 305.9h0M498.8 308.2h0M500.5 308.5h0M509.9 308.5h0M499.0 310.3h0M510.1 311.0h0M508.8 311.0h0M498.3 312.3h0M501.0 313.3h0M510.8 312.2h0M508.4 313.5h0M498.7 242.7h0M499.0 240.7h0M500.1 238.9h0M501.6 237.6h0M503.5 236.9h0M505.5 236.9h0M507.4 237.6h0M508.9 238.9h0M510.0 240.7h0M510.3 242.7h0" stroke="rgb(95,25,100)" stroke-width="1.60" stroke-linecap="round"/>
<path d="M424.7 219.0h0M483.2 227.2h0M431.7 237.7h0M506.1 234.9h0M415.7 222.6h0M406.9 220.4h0M421.2 228.7h0M440.2 237.1h0M467.1 239.0h0M413.1 222.1h0M451.3 237.6h0M504.7 220.3h0M418.6 223.5h0M483.4 222.7h0M500.4 241.2h0M476.5 234.6h0M434.5 233.4h0M472.6 219.2h0M436.9 241.0h0M459.2 236.5h0M481.8 238.3h0M456.2 231.4h0M505.9 235.1h0M469.6 227.0h0M409.8 223.8h0M486.8 220.0h0M407.8 227.7h0M508.8 233.1h0M510.1 236.6h0M408.1 234.7h0M468.5 218.5h0M443.9 240.5h0M500.3 228.5h0M460.7 234.9h0M487.8 219.9h0M464.6 233.2h0M503.7 240.9h0M512.3 226.3h0M472.3 239.4h0M509.0 226.9h0M487.7 224.1h0M446.6 231.8h0M422.4 226.9h0M414.3 219.8h0M509.4 231.8h0M468.3 233.6h0M449.2 228.5h0M504.1 237.9h0M413.1 231.3h0M483.2 229.7h0M411.5 234.8h0M432.5 229.7h0M435.2 234.5h0M483.1 241.0h0M477.3 231.9h0M437.6 232.1h0M509.4 227.2h0M430.8 218.5h0M459.1 227.3h0M497.1 222.1h0M441.7 223.5h0M474.2 238.0h0M414.6 223.4h0M447.2 224.4h0M502.5 222.7h0M418.1 231.1h0M426.4 219.8h0M426.7 240.7h0M481.6 221.9h0M490.9 225.7h0M498.0 220.0h0M485.3 219.2h0M411.0 239.5h0M451.7 234.4h0M444.7 218.5h0M488.2 231.2h0M504.1 230.4h0M432.7 222.0h0M503.0 220.5h0M448.6 223.6h0M421.3 240.3h0M436.8 234.4h0M508.8 240.2h0M455.4 236.2h0M512.9 231.5h0M511.4 229.0h0M498.1 238.7h0M416.1 232.4h0M470.0 228.4h0M424.6 219.5h0M508.3 224.1h0M478.3 239.2h0M491.7 239.3h0M421.9 227.1h0M462.3 220.2h0M456.0 229.3h0M409.4 232.5h0M406.9 228.9h0M416.5 226.5h0M424.1 235.2h0M465.5 222.7h0M452.7 241.0h0M417.3 237.2h0M484.1 222.4h0M444.3 239.9h0M490.5 230.7h0M503.7 235.5h0M479.9 231.7h0M453.0 236.6h0M460.4 223.4h0" stroke="rgb(105,30,110)" stroke-width="1.50" stroke-linecap="round"/>
</g></g>
<g transform="translate(281.10,78.50) rotate(-90) scale(0.9614,1) translate(-0.21,0)" font-family="Liberation Serif" font-weight="bold" fill="#000" stroke="#000" stroke-width="0.38"><text x="0.00" y="0" font-size="10.6">BM</text></g>
<g transform="translate(273.80,194.80) rotate(-90) scale(1.0141,1) translate(-0.21,0)" font-family="Liberation Serif" font-weight="bold" fill="#000" stroke="#000" stroke-width="0.38"><text x="0.00" y="0" font-size="10.6">BM+CD8</text><text x="43.73" y="-3.6" font-size="6.2">+</text><text x="47.26" y="0" font-size="10.6">T</text></g>
<g transform="translate(287.60,179.00) rotate(-90) scale(1.0264,1) translate(-0.53,0)" font-family="Liberation Serif" font-weight="bold" fill="#000" stroke="#000" stroke-width="0.38"><text x="0.00" y="0" font-size="10.6">+IgG</text></g>
<g transform="translate(274.40,289.70) rotate(-90) scale(1.0160,1) translate(-0.21,0)" font-family="Liberation Serif" font-weight="bold" fill="#000" stroke="#000" stroke-width="0.38"><text x="0.00" y="0" font-size="10.6">BM+CD8</text><text x="43.73" y="-3.6" font-size="6.2">+</text><text x="47.26" y="0" font-size="10.6">T</text></g>
<g transform="translate(288.00,281.40) rotate(-90) scale(1.0799,1) translate(-0.53,0)" font-family="Liberation Serif" font-weight="bold" fill="#000" stroke="#000" stroke-width="0.38"><text x="0.00" y="0" font-size="10.6">+αOPN</text></g>
<line x1="306.20" y1="353.70" x2="306.20" y2="481.23" stroke="#000" stroke-width="1.25"/>
<line x1="303.10" y1="480.60" x2="482.50" y2="480.60" stroke="#000" stroke-width="1.25"/>
<line x1="303.20" y1="459.60" x2="306.20" y2="459.60" stroke="#000" stroke-width="1.25"/>
<g transform="translate(294.45,465.00) scale(1.0400,1) translate(-0.38,0)" font-family="Liberation Serif" font-weight="bold" fill="#000" stroke="#000" stroke-width="0.38"><text x="0.00" y="0" font-size="9.5">2</text></g>
<line x1="303.20" y1="438.60" x2="306.20" y2="438.60" stroke="#000" stroke-width="1.25"/>
<g transform="translate(293.96,444.00) scale(1.0400,1) translate(-0.10,0)" font-family="Liberation Serif" font-weight="bold" fill="#000" stroke="#000" stroke-width="0.38"><text x="0.00" y="0" font-size="9.5">4</text></g>
<line x1="303.20" y1="417.60" x2="306.20" y2="417.60" stroke="#000" stroke-width="1.25"/>
<g transform="translate(294.25,423.00) scale(1.0400,1) translate(-0.28,0)" font-family="Liberation Serif" font-weight="bold" fill="#000" stroke="#000" stroke-width="0.38"><text x="0.00" y="0" font-size="9.5">6</text></g>
<line x1="303.20" y1="396.60" x2="306.20" y2="396.60" stroke="#000" stroke-width="1.25"/>
<g transform="translate(294.25,402.00) scale(1.0400,1) translate(-0.28,0)" font-family="Liberation Serif" font-weight="bold" fill="#000" stroke="#000" stroke-width="0.38"><text x="0.00" y="0" font-size="9.5">8</text></g>
<line x1="303.20" y1="375.60" x2="306.20" y2="375.60" stroke="#000" stroke-width="1.25"/>
<g transform="translate(289.91,381.00) scale(1.0400,1) translate(-0.76,0)" font-family="Liberation Serif" font-weight="bold" fill="#000" stroke="#000" stroke-width="0.38"><text x="0.00" y="0" font-size="9.5">10</text></g>
<line x1="303.20" y1="354.60" x2="306.20" y2="354.60" stroke="#000" stroke-width="1.25"/>
<g transform="translate(289.91,360.00) scale(1.0400,1) translate(-0.76,0)" font-family="Liberation Serif" font-weight="bold" fill="#000" stroke="#000" stroke-width="0.38"><text x="0.00" y="0" font-size="9.5">12</text></g>
<g transform="translate(294.45,485.60) scale(1.0400,1) translate(-0.38,0)" font-family="Liberation Serif" font-weight="bold" fill="#000" stroke="#000" stroke-width="0.38"><text x="0.00" y="0" font-size="9.5">0</text></g>
<g transform="translate(281.80,456.20) rotate(-90) scale(1.0137,1) translate(-0.22,0)" font-family="Liberation Serif" font-weight="bold" fill="#000" stroke="#000" stroke-width="0.38"><text x="0.00" y="0" font-size="11">Pathology score</text></g>
<defs><pattern id="hatch" width="2.4" height="2.4" patternUnits="userSpaceOnUse" patternTransform="rotate(40)"><rect width="2.4" height="2.4" fill="#fff"/><rect width="1.0" height="2.4" fill="#222"/></pattern></defs>
<path d="M330.90,471.68V470.10M324.90,470.10H336.90" stroke="#000" stroke-width="1.25"/>
<rect x="319.60" y="471.68" width="22.60" height="8.93" fill="url(#hatch)" stroke="#000" stroke-width="1.2"/>
<path d="M353.30,378.12V368.88M347.30,368.88H359.30" stroke="#000" stroke-width="1.25"/>
<rect x="342.20" y="378.12" width="22.20" height="102.48" fill="#fff" stroke="#000" stroke-width="1.2"/>
<path d="M375.90,445.32V435.35M369.90,435.35H381.90" stroke="#000" stroke-width="1.25"/>
<rect x="364.40" y="445.32" width="23.00" height="35.28" fill="#000" stroke="#000" stroke-width="1.2"/>
<path d="M426.25,468.21V465.06M420.25,465.06H432.25" stroke="#000" stroke-width="1.25"/>
<rect x="415.00" y="468.21" width="22.50" height="12.39" fill="url(#hatch)" stroke="#000" stroke-width="1.2"/>
<path d="M448.75,426.32V422.64M442.75,422.64H454.75" stroke="#000" stroke-width="1.25"/>
<rect x="437.50" y="426.32" width="22.50" height="54.28" fill="#fff" stroke="#000" stroke-width="1.2"/>
<path d="M471.25,457.50V454.35M465.25,454.35H477.25" stroke="#000" stroke-width="1.25"/>
<rect x="460.00" y="457.50" width="22.50" height="23.10" fill="#000" stroke="#000" stroke-width="1.2"/>
<path d="M329.90,363.50V357.90H351.20V363.50" stroke="#000" stroke-width="1.25" fill="none"/>
<path d="M341.10,351.60L341.10,349.10M341.10,351.60L343.48,350.83M341.10,351.60L342.57,353.62M341.10,351.60L339.63,353.62M341.10,351.60L338.72,350.83" stroke="#444" stroke-width="1.35" stroke-linecap="round"/>
<path d="M354.40,363.50V357.90H376.30V363.50" stroke="#000" stroke-width="1.25" fill="none"/>
<path d="M366.00,351.60L366.00,349.10M366.00,351.60L368.38,350.83M366.00,351.60L367.47,353.62M366.00,351.60L364.53,353.62M366.00,351.60L363.62,350.83" stroke="#444" stroke-width="1.35" stroke-linecap="round"/>
<path d="M426.40,418.10V412.20H446.40V418.10" stroke="#000" stroke-width="1.25" fill="none"/>
<path d="M436.50,408.50L436.50,406.00M436.50,408.50L438.88,407.73M436.50,408.50L437.97,410.52M436.50,408.50L435.03,410.52M436.50,408.50L434.12,407.73" stroke="#444" stroke-width="1.35" stroke-linecap="round"/>
<path d="M449.30,418.10V412.20H471.30V418.10" stroke="#000" stroke-width="1.25" fill="none"/>
<path d="M460.80,408.50L460.80,406.00M460.80,408.50L463.18,407.73M460.80,408.50L462.27,410.52M460.80,408.50L459.33,410.52M460.80,408.50L458.42,407.73" stroke="#444" stroke-width="1.35" stroke-linecap="round"/>
<g transform="translate(342.30,499.60) scale(0.9766,1) translate(-0.22,0)" font-family="Liberation Serif" font-weight="bold" fill="#000" stroke="#000" stroke-width="0.38"><text x="0.00" y="0" font-size="11">Liver</text></g>
<g transform="translate(429.80,498.80) scale(1.0007,1) translate(-0.33,0)" font-family="Liberation Serif" font-weight="bold" fill="#000" stroke="#000" stroke-width="0.38"><text x="0.00" y="0" font-size="11">Intestine</text></g>
<rect x="403.5" y="354.20" width="15" height="5.6" fill="url(#hatch)" stroke="#000" stroke-width="1"/>
<g transform="translate(422.60,359.90) scale(1.0241,1) translate(-0.20,0)" font-family="Liberation Serif" font-weight="bold" fill="#000" stroke="#000" stroke-width="0.38"><text x="0.00" y="0" font-size="10.2">BM</text></g>
<rect x="403.5" y="369.50" width="15" height="5.6" fill="#fff" stroke="#000" stroke-width="1"/>
<g transform="translate(422.60,375.20) scale(1.0216,1) translate(-0.20,0)" font-family="Liberation Serif" font-weight="bold" fill="#000" stroke="#000" stroke-width="0.38"><text x="0.00" y="0" font-size="10.2">BM+CD8</text><text x="42.08" y="-3.6" font-size="6.2">+</text><text x="45.61" y="0" font-size="10.2">T+IgG</text></g>
<rect x="403.5" y="383.70" width="15" height="5.6" fill="#000" stroke="#000" stroke-width="1"/>
<g transform="translate(422.60,389.40) scale(1.0319,1) translate(-0.20,0)" font-family="Liberation Serif" font-weight="bold" fill="#000" stroke="#000" stroke-width="0.38"><text x="0.00" y="0" font-size="10.2">BM+CD8</text><text x="42.08" y="-3.6" font-size="6.2">+</text><text x="45.61" y="0" font-size="10.2">T+αOPN</text></g>
<g transform="translate(7.80,570.20) scale(0.9582,1) translate(-0.70,0)" font-family="Liberation Sans" font-weight="bold" fill="#000" stroke="#000" stroke-width="0.38"><text x="0.00" y="0" font-size="17.5">C</text></g>
<line x1="39.80" y1="568.80" x2="54.80" y2="568.80" stroke="#000" stroke-width="1.25"/>
<path d="M44.30,565.80L50.30,571.80M44.30,571.80L50.30,565.80" stroke="#000" stroke-width="1.15"/>
<g transform="translate(60.00,572.60) scale(0.9847,1) translate(-0.31,0)" font-family="Liberation Serif" font-weight="bold" fill="#000" stroke="#000" stroke-width="0.38"><text x="0.00" y="0" font-size="10.2">Irrad</text></g>
<line x1="39.80" y1="584.30" x2="54.80" y2="584.30" stroke="#000" stroke-width="1.25"/>
<path d="M44.15,587.00L47.30,581.00L50.45,587.00Z" fill="#000"/>
<g transform="translate(60.00,588.00) scale(0.9617,1) translate(-0.20,0)" font-family="Liberation Serif" font-weight="bold" fill="#000" stroke="#000" stroke-width="0.38"><text x="0.00" y="0" font-size="10.2">BM</text></g>
<line x1="97.50" y1="570.00" x2="112.50" y2="570.00" stroke="#000" stroke-width="1.25"/>
<rect x="101.60" y="566.90" width="6.2" height="6.2" fill="#000"/>
<g transform="translate(116.90,572.40) scale(1.0170,1) translate(-0.20,0)" font-family="Liberation Serif" font-weight="bold" fill="#000" stroke="#000" stroke-width="0.38"><text x="0.00" y="0" font-size="10.2">BM+Splenocytes+IgG</text></g>
<line x1="97.50" y1="584.60" x2="112.50" y2="584.60" stroke="#000" stroke-width="1.25"/>
<circle cx="104.70" cy="584.60" r="2.6" fill="#fff" stroke="#000" stroke-width="1.25"/>
<g transform="translate(116.90,587.60) scale(1.0219,1) translate(-0.20,0)" font-family="Liberation Serif" font-weight="bold" fill="#000" stroke="#000" stroke-width="0.38"><text x="0.00" y="0" font-size="10.2">BM+Splenocytes+αOPN</text></g>
<line x1="52.20" y1="611.90" x2="52.20" y2="725.23" stroke="#000" stroke-width="1.25"/>
<line x1="51.58" y1="724.60" x2="236.50" y2="724.60" stroke="#000" stroke-width="1.25"/>
<line x1="49.20" y1="724.60" x2="52.20" y2="724.60" stroke="#000" stroke-width="1.25"/>
<g transform="translate(38.85,728.60) scale(1.0400,1) translate(-0.38,0)" font-family="Liberation Serif" font-weight="bold" fill="#000" stroke="#000" stroke-width="0.38"><text x="0.00" y="0" font-size="9.5">0</text></g>
<line x1="49.20" y1="703.18" x2="52.20" y2="703.18" stroke="#000" stroke-width="1.25"/>
<g transform="translate(33.91,707.18) scale(1.0400,1) translate(-0.38,0)" font-family="Liberation Serif" font-weight="bold" fill="#000" stroke="#000" stroke-width="0.38"><text x="0.00" y="0" font-size="9.5">20</text></g>
<line x1="49.20" y1="681.76" x2="52.20" y2="681.76" stroke="#000" stroke-width="1.25"/>
<g transform="translate(33.61,685.76) scale(1.0400,1) translate(-0.10,0)" font-family="Liberation Serif" font-weight="bold" fill="#000" stroke="#000" stroke-width="0.38"><text x="0.00" y="0" font-size="9.5">40</text></g>
<line x1="49.20" y1="660.34" x2="52.20" y2="660.34" stroke="#000" stroke-width="1.25"/>
<g transform="translate(33.81,664.34) scale(1.0400,1) translate(-0.28,0)" font-family="Liberation Serif" font-weight="bold" fill="#000" stroke="#000" stroke-width="0.38"><text x="0.00" y="0" font-size="9.5">60</text></g>
<line x1="49.20" y1="638.92" x2="52.20" y2="638.92" stroke="#000" stroke-width="1.25"/>
<g transform="translate(33.81,642.92) scale(1.0400,1) translate(-0.28,0)" font-family="Liberation Serif" font-weight="bold" fill="#000" stroke="#000" stroke-width="0.38"><text x="0.00" y="0" font-size="9.5">80</text></g>
<line x1="49.20" y1="617.50" x2="52.20" y2="617.50" stroke="#000" stroke-width="1.25"/>
<g transform="translate(29.37,621.50) scale(1.0400,1) translate(-0.76,0)" font-family="Liberation Serif" font-weight="bold" fill="#000" stroke="#000" stroke-width="0.38"><text x="0.00" y="0" font-size="9.5">100</text></g>
<line x1="51.60" y1="724.60" x2="51.60" y2="727.60" stroke="#000" stroke-width="1.25"/>
<g transform="translate(49.53,740.30) scale(1.0400,1) translate(-0.38,0)" font-family="Liberation Serif" font-weight="bold" fill="#000" stroke="#000" stroke-width="0.38"><text x="0.00" y="0" font-size="9.5">0</text></g>
<line x1="76.70" y1="724.60" x2="76.70" y2="727.60" stroke="#000" stroke-width="1.25"/>
<g transform="translate(72.35,740.30) scale(1.0400,1) translate(-0.76,0)" font-family="Liberation Serif" font-weight="bold" fill="#000" stroke="#000" stroke-width="0.38"><text x="0.00" y="0" font-size="9.5">10</text></g>
<line x1="101.80" y1="724.60" x2="101.80" y2="727.60" stroke="#000" stroke-width="1.25"/>
<g transform="translate(97.26,740.30) scale(1.0400,1) translate(-0.38,0)" font-family="Liberation Serif" font-weight="bold" fill="#000" stroke="#000" stroke-width="0.38"><text x="0.00" y="0" font-size="9.5">20</text></g>
<line x1="126.90" y1="724.60" x2="126.90" y2="727.60" stroke="#000" stroke-width="1.25"/>
<g transform="translate(122.36,740.30) scale(1.0400,1) translate(-0.38,0)" font-family="Liberation Serif" font-weight="bold" fill="#000" stroke="#000" stroke-width="0.38"><text x="0.00" y="0" font-size="9.5">30</text></g>
<line x1="152.00" y1="724.60" x2="152.00" y2="727.60" stroke="#000" stroke-width="1.25"/>
<g transform="translate(147.31,740.30) scale(1.0400,1) translate(-0.10,0)" font-family="Liberation Serif" font-weight="bold" fill="#000" stroke="#000" stroke-width="0.38"><text x="0.00" y="0" font-size="9.5">40</text></g>
<line x1="177.10" y1="724.60" x2="177.10" y2="727.60" stroke="#000" stroke-width="1.25"/>
<g transform="translate(172.56,740.30) scale(1.0400,1) translate(-0.38,0)" font-family="Liberation Serif" font-weight="bold" fill="#000" stroke="#000" stroke-width="0.38"><text x="0.00" y="0" font-size="9.5">50</text></g>
<line x1="202.20" y1="724.60" x2="202.20" y2="727.60" stroke="#000" stroke-width="1.25"/>
<g transform="translate(197.61,740.30) scale(1.0400,1) translate(-0.28,0)" font-family="Liberation Serif" font-weight="bold" fill="#000" stroke="#000" stroke-width="0.38"><text x="0.00" y="0" font-size="9.5">60</text></g>
<line x1="227.30" y1="724.60" x2="227.30" y2="727.60" stroke="#000" stroke-width="1.25"/>
<g transform="translate(222.85,740.30) scale(1.0400,1) translate(-0.57,0)" font-family="Liberation Serif" font-weight="bold" fill="#000" stroke="#000" stroke-width="0.38"><text x="0.00" y="0" font-size="9.5">70</text></g>
<g transform="translate(22.50,699.90) rotate(-90) scale(1.0213,1) translate(-0.55,0)" font-family="Liberation Serif" font-weight="bold" fill="#000" stroke="#000" stroke-width="0.38"><text x="0.00" y="0" font-size="11">Survival (%)</text></g>
<polyline points="52.20,617.50 64.95,617.50 77.50,635.39 90.05,688.94 102.60,724.60 115.15,724.60 127.70,724.60 140.25,724.60 152.80,724.60 165.35,724.60 177.90,724.60 190.45,724.60 203.00,724.60 215.55,724.60 228.10,724.60" fill="none" stroke="#000" stroke-width="1.25" stroke-linejoin="round"/>
<polyline points="52.20,617.50 64.95,617.50 77.50,617.50 90.05,617.50 102.60,617.50 115.15,617.50 127.70,617.50 140.25,617.50 152.80,617.50 165.35,617.50 177.90,617.50 190.45,617.50 203.00,617.50 215.55,617.50 228.10,617.50" fill="none" stroke="#000" stroke-width="1.25" stroke-linejoin="round"/>
<polyline points="52.20,617.50 64.95,617.50 77.50,617.50 90.05,617.50 102.60,617.50 115.15,617.50 127.70,617.50 140.25,617.50 152.80,626.39 165.35,651.77 177.90,651.77 190.45,651.77 203.00,651.77 215.55,651.77 228.10,651.77" fill="none" stroke="#000" stroke-width="1.25" stroke-linejoin="round"/>
<polyline points="52.20,617.50 64.95,617.50 77.50,617.50 90.05,617.50 102.60,617.50 115.15,617.50 127.70,617.50 140.25,617.50 152.80,617.50 165.35,617.50 177.90,617.50 190.45,617.50 203.00,617.50 215.55,617.50 228.10,617.50" fill="none" stroke="#000" stroke-width="1.25" stroke-linejoin="round"/>
<path d="M61.15,621.30L64.95,613.30L68.75,621.30Z" fill="#000"/>
<path d="M73.70,621.30L77.50,613.30L81.30,621.30Z" fill="#000"/>
<path d="M86.25,621.30L90.05,613.30L93.85,621.30Z" fill="#000"/>
<path d="M98.80,621.30L102.60,613.30L106.40,621.30Z" fill="#000"/>
<path d="M111.35,621.30L115.15,613.30L118.95,621.30Z" fill="#000"/>
<path d="M123.90,621.30L127.70,613.30L131.50,621.30Z" fill="#000"/>
<path d="M136.45,621.30L140.25,613.30L144.05,621.30Z" fill="#000"/>
<path d="M149.00,621.30L152.80,613.30L156.60,621.30Z" fill="#000"/>
<path d="M161.55,621.30L165.35,613.30L169.15,621.30Z" fill="#000"/>
<path d="M174.10,621.30L177.90,613.30L181.70,621.30Z" fill="#000"/>
<path d="M186.65,621.30L190.45,613.30L194.25,621.30Z" fill="#000"/>
<path d="M199.20,621.30L203.00,613.30L206.80,621.30Z" fill="#000"/>
<path d="M211.75,621.30L215.55,613.30L219.35,621.30Z" fill="#000"/>
<path d="M224.30,621.30L228.10,613.30L231.90,621.30Z" fill="#000"/>
<rect x="62.25" y="614.80" width="5.4" height="5.4" fill="#000"/>
<rect x="74.80" y="614.80" width="5.4" height="5.4" fill="#000"/>
<rect x="87.35" y="614.80" width="5.4" height="5.4" fill="#000"/>
<rect x="99.90" y="614.80" width="5.4" height="5.4" fill="#000"/>
<rect x="112.45" y="614.80" width="5.4" height="5.4" fill="#000"/>
<rect x="125.00" y="614.80" width="5.4" height="5.4" fill="#000"/>
<rect x="137.55" y="614.80" width="5.4" height="5.4" fill="#000"/>
<rect x="150.10" y="623.69" width="5.4" height="5.4" fill="#000"/>
<rect x="162.65" y="649.07" width="5.4" height="5.4" fill="#000"/>
<rect x="175.20" y="649.07" width="5.4" height="5.4" fill="#000"/>
<rect x="187.75" y="649.07" width="5.4" height="5.4" fill="#000"/>
<rect x="200.30" y="649.07" width="5.4" height="5.4" fill="#000"/>
<rect x="212.85" y="649.07" width="5.4" height="5.4" fill="#000"/>
<rect x="225.40" y="649.07" width="5.4" height="5.4" fill="#000"/>
<circle cx="64.95" cy="617.50" r="2.9" fill="#fff" stroke="#000" stroke-width="1.25"/>
<circle cx="77.50" cy="617.50" r="2.9" fill="#fff" stroke="#000" stroke-width="1.25"/>
<circle cx="90.05" cy="617.50" r="2.9" fill="#fff" stroke="#000" stroke-width="1.25"/>
<circle cx="102.60" cy="617.50" r="2.9" fill="#fff" stroke="#000" stroke-width="1.25"/>
<circle cx="115.15" cy="617.50" r="2.9" fill="#fff" stroke="#000" stroke-width="1.25"/>
<circle cx="127.70" cy="617.50" r="2.9" fill="#fff" stroke="#000" stroke-width="1.25"/>
<circle cx="140.25" cy="617.50" r="2.9" fill="#fff" stroke="#000" stroke-width="1.25"/>
<circle cx="152.80" cy="617.50" r="2.9" fill="#fff" stroke="#000" stroke-width="1.25"/>
<circle cx="165.35" cy="617.50" r="2.9" fill="#fff" stroke="#000" stroke-width="1.25"/>
<circle cx="177.90" cy="617.50" r="2.9" fill="#fff" stroke="#000" stroke-width="1.25"/>
<circle cx="190.45" cy="617.50" r="2.9" fill="#fff" stroke="#000" stroke-width="1.25"/>
<circle cx="203.00" cy="617.50" r="2.9" fill="#fff" stroke="#000" stroke-width="1.25"/>
<circle cx="215.55" cy="617.50" r="2.9" fill="#fff" stroke="#000" stroke-width="1.25"/>
<circle cx="228.10" cy="617.50" r="2.9" fill="#fff" stroke="#000" stroke-width="1.25"/>
<path d="M62.65,615.20L67.25,619.80M62.65,619.80L67.25,615.20" stroke="#000" stroke-width="1.15"/>
<path d="M75.20,633.09L79.80,637.69M75.20,637.69L79.80,633.09" stroke="#000" stroke-width="1.15"/>
<path d="M87.75,686.64L92.35,691.24M87.75,691.24L92.35,686.64" stroke="#000" stroke-width="1.15"/>
<path d="M100.30,722.30L104.90,726.90M100.30,726.90L104.90,722.30" stroke="#000" stroke-width="1.15"/>
<path d="M112.85,722.30L117.45,726.90M112.85,726.90L117.45,722.30" stroke="#000" stroke-width="1.15"/>
<path d="M125.40,722.30L130.00,726.90M125.40,726.90L130.00,722.30" stroke="#000" stroke-width="1.15"/>
<path d="M137.95,722.30L142.55,726.90M137.95,726.90L142.55,722.30" stroke="#000" stroke-width="1.15"/>
<path d="M150.50,722.30L155.10,726.90M150.50,726.90L155.10,722.30" stroke="#000" stroke-width="1.15"/>
<path d="M163.05,722.30L167.65,726.90M163.05,726.90L167.65,722.30" stroke="#000" stroke-width="1.15"/>
<path d="M175.60,722.30L180.20,726.90M175.60,726.90L180.20,722.30" stroke="#000" stroke-width="1.15"/>
<path d="M188.15,722.30L192.75,726.90M188.15,726.90L192.75,722.30" stroke="#000" stroke-width="1.15"/>
<path d="M200.70,722.30L205.30,726.90M200.70,726.90L205.30,722.30" stroke="#000" stroke-width="1.15"/>
<path d="M213.25,722.30L217.85,726.90M213.25,726.90L217.85,722.30" stroke="#000" stroke-width="1.15"/>
<path d="M225.80,722.30L230.40,726.90M225.80,726.90L230.40,722.30" stroke="#000" stroke-width="1.15"/>
<path d="M234.2,617H238.1V625.8M238.1,643.5V652.7H234.2" stroke="#000" stroke-width="1.3" fill="none"/>
<path d="M239.20,634.80L239.20,632.60M239.20,634.80L241.29,634.12M239.20,634.80L240.49,636.58M239.20,634.80L237.91,636.58M239.20,634.80L237.11,634.12" stroke="#222" stroke-width="1.2" stroke-linecap="round"/>
<g transform="translate(75.40,754.60) scale(0.9966,1) translate(-0.22,0)" font-family="Liberation Serif" font-weight="bold" fill="#000" stroke="#000" stroke-width="0.38"><text x="0.00" y="0" font-size="11">Days after transplantation</text></g>
<line x1="307.30" y1="611.10" x2="307.30" y2="724.33" stroke="#000" stroke-width="1.25"/>
<line x1="306.68" y1="723.70" x2="488.80" y2="723.70" stroke="#000" stroke-width="1.25"/>
<line x1="304.30" y1="723.70" x2="307.30" y2="723.70" stroke="#000" stroke-width="1.25"/>
<g transform="translate(293.85,727.40) scale(1.0400,1) translate(-0.38,0)" font-family="Liberation Serif" font-weight="bold" fill="#000" stroke="#000" stroke-width="0.38"><text x="0.00" y="0" font-size="9.5">0</text></g>
<line x1="304.30" y1="695.60" x2="307.30" y2="695.60" stroke="#000" stroke-width="1.25"/>
<g transform="translate(293.85,699.30) scale(1.0400,1) translate(-0.38,0)" font-family="Liberation Serif" font-weight="bold" fill="#000" stroke="#000" stroke-width="0.38"><text x="0.00" y="0" font-size="9.5">2</text></g>
<line x1="304.30" y1="667.50" x2="307.30" y2="667.50" stroke="#000" stroke-width="1.25"/>
<g transform="translate(293.36,671.20) scale(1.0400,1) translate(-0.10,0)" font-family="Liberation Serif" font-weight="bold" fill="#000" stroke="#000" stroke-width="0.38"><text x="0.00" y="0" font-size="9.5">4</text></g>
<line x1="304.30" y1="639.40" x2="307.30" y2="639.40" stroke="#000" stroke-width="1.25"/>
<g transform="translate(293.65,643.10) scale(1.0400,1) translate(-0.28,0)" font-family="Liberation Serif" font-weight="bold" fill="#000" stroke="#000" stroke-width="0.38"><text x="0.00" y="0" font-size="9.5">6</text></g>
<line x1="304.30" y1="611.30" x2="307.30" y2="611.30" stroke="#000" stroke-width="1.25"/>
<g transform="translate(293.65,615.00) scale(1.0400,1) translate(-0.28,0)" font-family="Liberation Serif" font-weight="bold" fill="#000" stroke="#000" stroke-width="0.38"><text x="0.00" y="0" font-size="9.5">8</text></g>
<line x1="307.30" y1="723.70" x2="307.30" y2="726.70" stroke="#000" stroke-width="1.25"/>
<g transform="translate(305.23,740.20) scale(1.0400,1) translate(-0.38,0)" font-family="Liberation Serif" font-weight="bold" fill="#000" stroke="#000" stroke-width="0.38"><text x="0.00" y="0" font-size="9.5">0</text></g>
<line x1="351.10" y1="723.70" x2="351.10" y2="726.70" stroke="#000" stroke-width="1.25"/>
<g transform="translate(346.75,740.20) scale(1.0400,1) translate(-0.76,0)" font-family="Liberation Serif" font-weight="bold" fill="#000" stroke="#000" stroke-width="0.38"><text x="0.00" y="0" font-size="9.5">15</text></g>
<line x1="394.90" y1="723.70" x2="394.90" y2="726.70" stroke="#000" stroke-width="1.25"/>
<g transform="translate(390.36,740.20) scale(1.0400,1) translate(-0.38,0)" font-family="Liberation Serif" font-weight="bold" fill="#000" stroke="#000" stroke-width="0.38"><text x="0.00" y="0" font-size="9.5">30</text></g>
<line x1="438.70" y1="723.70" x2="438.70" y2="726.70" stroke="#000" stroke-width="1.25"/>
<g transform="translate(434.01,740.20) scale(1.0400,1) translate(-0.10,0)" font-family="Liberation Serif" font-weight="bold" fill="#000" stroke="#000" stroke-width="0.38"><text x="0.00" y="0" font-size="9.5">45</text></g>
<line x1="482.50" y1="723.70" x2="482.50" y2="726.70" stroke="#000" stroke-width="1.25"/>
<g transform="translate(477.91,740.20) scale(1.0400,1) translate(-0.28,0)" font-family="Liberation Serif" font-weight="bold" fill="#000" stroke="#000" stroke-width="0.38"><text x="0.00" y="0" font-size="9.5">60</text></g>
<g transform="translate(281.70,723.10) rotate(-90) scale(1.0006,1) translate(-0.22,0)" font-family="Liberation Serif" font-weight="bold" fill="#000" stroke="#000" stroke-width="0.38"><text x="0.00" y="0" font-size="11">Protein in urine (mg/ml)</text></g>
<path d="M351.10,637.71V659.91M348.50,637.71H353.70M348.50,659.91H353.70" stroke="#000" stroke-width="1.15" fill="none"/>
<path d="M394.90,652.61V666.38M392.30,652.61H397.50M392.30,666.38H397.50" stroke="#000" stroke-width="1.15" fill="none"/>
<path d="M438.70,632.09V670.31M436.10,632.09H441.30M436.10,670.31H441.30" stroke="#000" stroke-width="1.15" fill="none"/>
<path d="M482.50,645.58V661.04M479.90,645.58H485.10M479.90,661.04H485.10" stroke="#000" stroke-width="1.15" fill="none"/>
<path d="M351.10,692.93V696.16M348.50,692.93H353.70M348.50,696.16H353.70" stroke="#000" stroke-width="1.15" fill="none"/>
<path d="M438.70,700.52V705.01M436.10,700.52H441.30M436.10,705.01H441.30" stroke="#000" stroke-width="1.15" fill="none"/>
<path d="M482.50,705.01V708.25M479.90,705.01H485.10M479.90,708.25H485.10" stroke="#000" stroke-width="1.15" fill="none"/>
<polyline points="307.30,709.93 351.10,648.81 394.90,659.49 438.70,651.20 482.50,653.31" fill="none" stroke="#000" stroke-width="1.25" stroke-linejoin="round"/>
<polyline points="307.30,709.93 351.10,696.16 394.90,706.28 438.70,705.01 482.50,708.25" fill="none" stroke="#000" stroke-width="1.25" stroke-linejoin="round"/>
<polyline points="307.30,709.93 351.10,708.25 394.90,712.74 438.70,713.16 482.50,711.48" fill="none" stroke="#000" stroke-width="1.25" stroke-linejoin="round"/>
<circle cx="307.30" cy="709.93" r="2.8" fill="#fff" stroke="#000" stroke-width="1.25"/>
<circle cx="351.10" cy="708.25" r="2.8" fill="#fff" stroke="#000" stroke-width="1.25"/>
<circle cx="394.90" cy="712.74" r="2.8" fill="#fff" stroke="#000" stroke-width="1.25"/>
<circle cx="438.70" cy="713.16" r="2.8" fill="#fff" stroke="#000" stroke-width="1.25"/>
<circle cx="482.50" cy="711.48" r="2.8" fill="#fff" stroke="#000" stroke-width="1.25"/>
<path d="M304.50,712.32L307.30,707.02L310.10,712.32Z" fill="#000"/>
<path d="M348.30,698.55L351.10,693.25L353.90,698.55Z" fill="#000"/>
<path d="M392.10,708.66L394.90,703.36L397.70,708.66Z" fill="#000"/>
<path d="M435.90,707.40L438.70,702.10L441.50,707.40Z" fill="#000"/>
<path d="M479.70,710.63L482.50,705.33L485.30,710.63Z" fill="#000"/>
<rect x="304.60" y="707.23" width="5.4" height="5.4" fill="#000"/>
<rect x="348.40" y="646.11" width="5.4" height="5.4" fill="#000"/>
<rect x="392.20" y="656.79" width="5.4" height="5.4" fill="#000"/>
<rect x="436.00" y="648.50" width="5.4" height="5.4" fill="#000"/>
<rect x="479.80" y="650.61" width="5.4" height="5.4" fill="#000"/>
<path d="M351.00,629.80L351.00,627.50M351.00,629.80L353.19,629.09M351.00,629.80L352.35,631.66M351.00,629.80L349.65,631.66M351.00,629.80L348.81,629.09" stroke="#111" stroke-width="1.3" stroke-linecap="round"/>
<path d="M395.00,647.50L395.00,645.20M395.00,647.50L397.19,646.79M395.00,647.50L396.35,649.36M395.00,647.50L393.65,649.36M395.00,647.50L392.81,646.79" stroke="#111" stroke-width="1.3" stroke-linecap="round"/>
<path d="M439.00,625.50L439.00,623.20M439.00,625.50L441.19,624.79M439.00,625.50L440.35,627.36M439.00,625.50L437.65,627.36M439.00,625.50L436.81,624.79" stroke="#111" stroke-width="1.3" stroke-linecap="round"/>
<path d="M482.50,640.00L482.50,637.70M482.50,640.00L484.69,639.29M482.50,640.00L483.85,641.86M482.50,640.00L481.15,641.86M482.50,640.00L480.31,639.29" stroke="#111" stroke-width="1.3" stroke-linecap="round"/>
<g transform="translate(331.90,754.60) scale(0.9958,1) translate(-0.22,0)" font-family="Liberation Serif" font-weight="bold" fill="#000" stroke="#000" stroke-width="0.38"><text x="0.00" y="0" font-size="11">Days after transplantation</text></g>
</svg></body></html>
